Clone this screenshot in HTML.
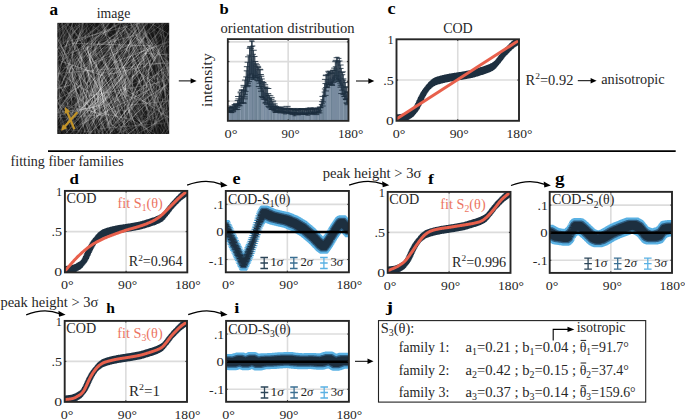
<!DOCTYPE html>
<html><head><meta charset="utf-8"><style>
html,body{margin:0;padding:0;background:#fff;}
svg{display:block;font-family:"Liberation Serif",serif;}
</style></head><body>
<svg width="685" height="419" viewBox="0 0 685 419">
<rect width="685" height="419" fill="#fff"/>
<clipPath id="imgclip"><rect x="57.35" y="22.85" width="111.85" height="111.15"/></clipPath>
<rect x="57.35" y="22.85" width="111.85" height="111.15" fill="#1c1c1c"/>
<filter id="fb" x="0" y="0" width="1" height="1"><feGaussianBlur stdDeviation="0.65"/></filter>
<radialGradient id="vig" cx="0.5" cy="0.5" r="0.72"><stop offset="0.45" stop-color="#000" stop-opacity="0"/><stop offset="1" stop-color="#000" stop-opacity="0.55"/></radialGradient>
<g clip-path="url(#imgclip)"><g filter="url(#fb)" stroke="#fff" stroke-linecap="round"><line x1="82.2" y1="94.4" x2="135.5" y2="64.4" stroke-opacity="0.14" stroke-width="0.76"/><line x1="135.8" y1="41.0" x2="165.7" y2="12.6" stroke-opacity="0.11" stroke-width="0.90"/><line x1="197.1" y1="118.0" x2="148.3" y2="78.0" stroke-opacity="0.13" stroke-width="0.51"/><line x1="47.9" y1="55.1" x2="66.0" y2="22.9" stroke-opacity="0.09" stroke-width="0.73"/><line x1="114.6" y1="107.1" x2="147.9" y2="49.7" stroke-opacity="0.24" stroke-width="0.64"/><line x1="182.3" y1="156.0" x2="171.0" y2="87.4" stroke-opacity="0.19" stroke-width="0.61"/><line x1="108.6" y1="74.4" x2="186.0" y2="57.1" stroke-opacity="0.21" stroke-width="0.98"/><line x1="186.5" y1="113.8" x2="145.0" y2="35.5" stroke-opacity="0.22" stroke-width="0.54"/><line x1="141.0" y1="59.5" x2="156.8" y2="38.8" stroke-opacity="0.19" stroke-width="0.98"/><line x1="79.2" y1="56.4" x2="45.4" y2="-11.4" stroke-opacity="0.14" stroke-width="0.78"/><line x1="66.0" y1="120.3" x2="81.4" y2="95.5" stroke-opacity="0.30" stroke-width="0.56"/><line x1="161.5" y1="133.8" x2="185.4" y2="100.2" stroke-opacity="0.38" stroke-width="0.61"/><line x1="152.0" y1="108.3" x2="165.1" y2="84.6" stroke-opacity="0.42" stroke-width="0.61"/><line x1="100.9" y1="60.8" x2="81.9" y2="44.3" stroke-opacity="0.11" stroke-width="0.79"/><line x1="110.5" y1="113.9" x2="83.2" y2="31.1" stroke-opacity="0.24" stroke-width="0.79"/><line x1="172.8" y1="136.1" x2="158.2" y2="101.6" stroke-opacity="0.14" stroke-width="0.87"/><line x1="92.5" y1="172.3" x2="56.4" y2="99.0" stroke-opacity="0.29" stroke-width="0.71"/><line x1="138.0" y1="49.4" x2="206.8" y2="41.0" stroke-opacity="0.17" stroke-width="0.91"/><line x1="130.1" y1="37.5" x2="152.8" y2="9.7" stroke-opacity="0.27" stroke-width="0.93"/><line x1="76.4" y1="146.2" x2="94.0" y2="116.8" stroke-opacity="0.09" stroke-width="0.63"/><line x1="89.0" y1="100.1" x2="104.0" y2="75.1" stroke-opacity="0.20" stroke-width="0.95"/><line x1="145.2" y1="130.8" x2="121.5" y2="74.7" stroke-opacity="0.13" stroke-width="0.52"/><line x1="149.3" y1="140.3" x2="128.6" y2="134.3" stroke-opacity="0.30" stroke-width="0.74"/><line x1="60.7" y1="120.0" x2="57.3" y2="48.5" stroke-opacity="0.39" stroke-width="0.87"/><line x1="169.8" y1="142.8" x2="131.7" y2="119.6" stroke-opacity="0.31" stroke-width="0.95"/><line x1="161.7" y1="119.5" x2="157.8" y2="55.9" stroke-opacity="0.21" stroke-width="0.79"/><line x1="38.8" y1="135.8" x2="80.4" y2="56.5" stroke-opacity="0.38" stroke-width="0.86"/><line x1="97.6" y1="131.5" x2="113.8" y2="111.4" stroke-opacity="0.34" stroke-width="0.51"/><line x1="83.8" y1="65.4" x2="137.9" y2="22.8" stroke-opacity="0.25" stroke-width="0.81"/><line x1="93.8" y1="117.1" x2="81.9" y2="85.1" stroke-opacity="0.14" stroke-width="0.95"/><line x1="93.3" y1="145.6" x2="118.4" y2="110.8" stroke-opacity="0.31" stroke-width="0.60"/><line x1="147.2" y1="90.3" x2="176.6" y2="37.1" stroke-opacity="0.19" stroke-width="0.57"/><line x1="126.1" y1="140.1" x2="186.7" y2="105.5" stroke-opacity="0.40" stroke-width="0.64"/><line x1="80.7" y1="66.3" x2="88.3" y2="17.9" stroke-opacity="0.29" stroke-width="0.75"/><line x1="103.3" y1="34.7" x2="111.1" y2="14.0" stroke-opacity="0.38" stroke-width="0.52"/><line x1="118.3" y1="91.6" x2="126.3" y2="16.6" stroke-opacity="0.09" stroke-width="0.57"/><line x1="76.3" y1="43.9" x2="83.1" y2="21.6" stroke-opacity="0.29" stroke-width="0.72"/><line x1="108.6" y1="153.5" x2="157.6" y2="81.5" stroke-opacity="0.31" stroke-width="0.60"/><line x1="100.0" y1="118.7" x2="119.4" y2="92.6" stroke-opacity="0.17" stroke-width="0.67"/><line x1="129.5" y1="126.8" x2="102.3" y2="59.1" stroke-opacity="0.21" stroke-width="0.90"/><line x1="159.1" y1="50.5" x2="124.3" y2="12.2" stroke-opacity="0.29" stroke-width="0.95"/><line x1="106.6" y1="161.2" x2="137.5" y2="92.1" stroke-opacity="0.40" stroke-width="0.73"/><line x1="135.1" y1="126.1" x2="172.8" y2="66.8" stroke-opacity="0.15" stroke-width="0.95"/><line x1="197.1" y1="113.1" x2="151.5" y2="53.2" stroke-opacity="0.19" stroke-width="0.95"/><line x1="117.0" y1="120.0" x2="94.5" y2="49.7" stroke-opacity="0.25" stroke-width="0.51"/><line x1="64.1" y1="131.2" x2="51.0" y2="101.9" stroke-opacity="0.19" stroke-width="0.89"/><line x1="80.2" y1="124.6" x2="150.6" y2="89.1" stroke-opacity="0.31" stroke-width="0.97"/><line x1="66.7" y1="98.7" x2="88.6" y2="64.9" stroke-opacity="0.33" stroke-width="0.82"/><line x1="144.1" y1="102.3" x2="170.3" y2="69.8" stroke-opacity="0.21" stroke-width="0.92"/><line x1="186.3" y1="108.5" x2="160.0" y2="54.5" stroke-opacity="0.15" stroke-width="0.77"/><line x1="114.1" y1="60.5" x2="139.3" y2="-23.7" stroke-opacity="0.26" stroke-width="0.70"/><line x1="142.0" y1="51.8" x2="133.4" y2="-5.3" stroke-opacity="0.22" stroke-width="0.98"/><line x1="87.6" y1="88.9" x2="79.9" y2="61.1" stroke-opacity="0.23" stroke-width="0.91"/><line x1="81.8" y1="135.0" x2="65.8" y2="51.8" stroke-opacity="0.12" stroke-width="0.89"/><line x1="61.0" y1="114.4" x2="95.8" y2="90.0" stroke-opacity="0.20" stroke-width="0.81"/><line x1="77.5" y1="93.8" x2="52.6" y2="65.7" stroke-opacity="0.15" stroke-width="0.77"/><line x1="80.6" y1="90.5" x2="114.2" y2="44.3" stroke-opacity="0.13" stroke-width="0.60"/><line x1="129.4" y1="120.4" x2="187.0" y2="64.9" stroke-opacity="0.16" stroke-width="0.87"/><line x1="168.4" y1="75.7" x2="161.1" y2="34.3" stroke-opacity="0.39" stroke-width="0.61"/><line x1="88.0" y1="124.5" x2="71.9" y2="89.9" stroke-opacity="0.11" stroke-width="0.92"/><line x1="134.5" y1="49.0" x2="166.2" y2="12.7" stroke-opacity="0.31" stroke-width="0.51"/><line x1="173.5" y1="149.8" x2="158.3" y2="126.2" stroke-opacity="0.25" stroke-width="0.88"/><line x1="51.1" y1="37.0" x2="65.7" y2="19.7" stroke-opacity="0.27" stroke-width="0.76"/><line x1="56.2" y1="50.7" x2="80.0" y2="26.0" stroke-opacity="0.37" stroke-width="1.00"/><line x1="185.7" y1="107.3" x2="156.3" y2="39.9" stroke-opacity="0.19" stroke-width="0.73"/><line x1="98.3" y1="99.8" x2="110.4" y2="82.7" stroke-opacity="0.32" stroke-width="0.92"/><line x1="141.4" y1="83.0" x2="146.3" y2="49.7" stroke-opacity="0.14" stroke-width="0.76"/><line x1="189.7" y1="117.7" x2="114.0" y2="91.2" stroke-opacity="0.29" stroke-width="0.70"/><line x1="113.2" y1="62.9" x2="191.3" y2="32.5" stroke-opacity="0.33" stroke-width="0.89"/><line x1="114.9" y1="167.3" x2="87.6" y2="90.4" stroke-opacity="0.32" stroke-width="0.88"/><line x1="61.0" y1="84.6" x2="55.7" y2="32.0" stroke-opacity="0.08" stroke-width="0.68"/><line x1="109.2" y1="82.5" x2="149.1" y2="6.2" stroke-opacity="0.31" stroke-width="0.67"/><line x1="74.4" y1="163.0" x2="123.9" y2="121.0" stroke-opacity="0.32" stroke-width="0.88"/><line x1="61.3" y1="127.8" x2="43.2" y2="58.4" stroke-opacity="0.17" stroke-width="0.70"/><line x1="82.0" y1="38.2" x2="112.7" y2="16.5" stroke-opacity="0.39" stroke-width="0.78"/><line x1="161.3" y1="131.1" x2="191.8" y2="60.8" stroke-opacity="0.11" stroke-width="0.80"/><line x1="59.8" y1="148.0" x2="50.4" y2="118.2" stroke-opacity="0.24" stroke-width="0.58"/><line x1="151.8" y1="90.0" x2="188.6" y2="46.7" stroke-opacity="0.28" stroke-width="0.68"/><line x1="137.5" y1="81.9" x2="104.6" y2="19.9" stroke-opacity="0.18" stroke-width="0.51"/><line x1="45.9" y1="114.0" x2="92.8" y2="107.6" stroke-opacity="0.39" stroke-width="0.87"/><line x1="211.8" y1="25.7" x2="128.4" y2="22.7" stroke-opacity="0.23" stroke-width="0.74"/><line x1="93.7" y1="122.1" x2="67.3" y2="40.7" stroke-opacity="0.33" stroke-width="0.73"/><line x1="75.6" y1="117.4" x2="52.5" y2="71.0" stroke-opacity="0.15" stroke-width="0.53"/><line x1="39.3" y1="92.1" x2="91.2" y2="50.2" stroke-opacity="0.23" stroke-width="0.63"/><line x1="82.1" y1="167.1" x2="152.3" y2="116.3" stroke-opacity="0.33" stroke-width="0.62"/><line x1="170.9" y1="101.8" x2="128.3" y2="86.9" stroke-opacity="0.17" stroke-width="0.84"/><line x1="107.8" y1="127.4" x2="142.2" y2="63.3" stroke-opacity="0.14" stroke-width="0.62"/><line x1="66.9" y1="37.5" x2="41.9" y2="7.6" stroke-opacity="0.22" stroke-width="0.81"/><line x1="63.0" y1="59.2" x2="54.2" y2="-7.5" stroke-opacity="0.27" stroke-width="0.82"/><line x1="94.0" y1="56.1" x2="127.1" y2="27.1" stroke-opacity="0.33" stroke-width="0.92"/><line x1="118.5" y1="107.7" x2="187.1" y2="80.6" stroke-opacity="0.15" stroke-width="0.71"/><line x1="133.4" y1="123.1" x2="59.6" y2="72.9" stroke-opacity="0.19" stroke-width="0.77"/><line x1="117.3" y1="62.2" x2="75.9" y2="-7.8" stroke-opacity="0.11" stroke-width="0.54"/><line x1="97.4" y1="117.0" x2="125.3" y2="87.0" stroke-opacity="0.34" stroke-width="0.54"/><line x1="77.0" y1="84.4" x2="42.6" y2="22.6" stroke-opacity="0.32" stroke-width="0.64"/><line x1="136.1" y1="74.2" x2="148.3" y2="48.7" stroke-opacity="0.32" stroke-width="0.78"/><line x1="119.4" y1="132.1" x2="91.2" y2="101.8" stroke-opacity="0.19" stroke-width="0.70"/><line x1="168.2" y1="68.6" x2="159.2" y2="24.2" stroke-opacity="0.20" stroke-width="0.68"/><line x1="101.7" y1="137.4" x2="141.1" y2="95.0" stroke-opacity="0.36" stroke-width="0.78"/><line x1="169.8" y1="58.0" x2="154.1" y2="43.2" stroke-opacity="0.26" stroke-width="0.77"/><line x1="152.3" y1="129.8" x2="193.5" y2="65.5" stroke-opacity="0.10" stroke-width="0.77"/><line x1="148.9" y1="141.0" x2="138.2" y2="117.4" stroke-opacity="0.30" stroke-width="0.57"/><line x1="139.2" y1="62.4" x2="125.5" y2="29.7" stroke-opacity="0.34" stroke-width="0.76"/><line x1="179.1" y1="127.0" x2="167.2" y2="73.7" stroke-opacity="0.26" stroke-width="0.86"/><line x1="183.7" y1="101.9" x2="148.9" y2="32.2" stroke-opacity="0.31" stroke-width="0.93"/><line x1="186.8" y1="120.3" x2="156.8" y2="72.2" stroke-opacity="0.32" stroke-width="0.90"/><line x1="72.9" y1="52.8" x2="133.4" y2="14.0" stroke-opacity="0.42" stroke-width="0.69"/><line x1="68.5" y1="78.3" x2="138.9" y2="25.7" stroke-opacity="0.10" stroke-width="0.65"/><line x1="154.0" y1="48.6" x2="143.1" y2="26.8" stroke-opacity="0.24" stroke-width="0.79"/><line x1="80.8" y1="58.9" x2="65.1" y2="26.0" stroke-opacity="0.32" stroke-width="0.80"/><line x1="54.8" y1="56.8" x2="115.8" y2="16.7" stroke-opacity="0.19" stroke-width="0.77"/><line x1="125.8" y1="86.1" x2="95.5" y2="9.8" stroke-opacity="0.39" stroke-width="0.67"/><line x1="59.2" y1="60.2" x2="96.0" y2="-17.9" stroke-opacity="0.35" stroke-width="0.69"/><line x1="86.1" y1="83.6" x2="144.5" y2="15.9" stroke-opacity="0.30" stroke-width="0.62"/><line x1="93.9" y1="151.0" x2="99.9" y2="81.3" stroke-opacity="0.29" stroke-width="0.58"/><line x1="67.6" y1="149.2" x2="97.4" y2="101.6" stroke-opacity="0.30" stroke-width="1.00"/><line x1="69.7" y1="122.8" x2="67.5" y2="102.8" stroke-opacity="0.36" stroke-width="0.92"/><line x1="153.5" y1="50.9" x2="128.4" y2="3.5" stroke-opacity="0.24" stroke-width="0.98"/><line x1="138.4" y1="85.0" x2="179.5" y2="21.9" stroke-opacity="0.22" stroke-width="0.96"/><line x1="100.3" y1="98.7" x2="51.7" y2="69.2" stroke-opacity="0.13" stroke-width="0.92"/><line x1="66.4" y1="101.5" x2="110.5" y2="47.0" stroke-opacity="0.20" stroke-width="0.84"/><line x1="95.7" y1="174.7" x2="121.1" y2="100.9" stroke-opacity="0.30" stroke-width="0.51"/><line x1="123.8" y1="69.9" x2="156.5" y2="20.2" stroke-opacity="0.24" stroke-width="0.51"/><line x1="137.0" y1="73.1" x2="119.2" y2="30.4" stroke-opacity="0.26" stroke-width="0.65"/><line x1="86.2" y1="113.1" x2="112.8" y2="86.1" stroke-opacity="0.15" stroke-width="0.87"/><line x1="126.0" y1="92.6" x2="157.8" y2="21.5" stroke-opacity="0.11" stroke-width="0.57"/><line x1="152.7" y1="58.1" x2="127.1" y2="17.3" stroke-opacity="0.36" stroke-width="0.80"/><line x1="51.1" y1="46.5" x2="87.8" y2="14.8" stroke-opacity="0.10" stroke-width="0.96"/><line x1="90.0" y1="124.4" x2="139.5" y2="69.9" stroke-opacity="0.36" stroke-width="0.69"/><line x1="72.6" y1="138.3" x2="128.5" y2="69.4" stroke-opacity="0.35" stroke-width="0.83"/><line x1="38.7" y1="74.6" x2="64.8" y2="39.2" stroke-opacity="0.30" stroke-width="0.55"/><line x1="141.9" y1="101.1" x2="167.8" y2="84.1" stroke-opacity="0.34" stroke-width="0.95"/><line x1="85.1" y1="90.2" x2="103.7" y2="66.8" stroke-opacity="0.32" stroke-width="0.99"/><line x1="53.2" y1="158.8" x2="95.9" y2="111.2" stroke-opacity="0.15" stroke-width="0.54"/><line x1="148.6" y1="98.0" x2="128.4" y2="15.4" stroke-opacity="0.20" stroke-width="0.73"/><line x1="95.6" y1="132.2" x2="37.8" y2="127.4" stroke-opacity="0.27" stroke-width="0.78"/><line x1="206.0" y1="127.5" x2="146.4" y2="110.1" stroke-opacity="0.12" stroke-width="0.91"/><line x1="117.2" y1="100.2" x2="43.1" y2="75.4" stroke-opacity="0.14" stroke-width="0.77"/><line x1="29.7" y1="144.7" x2="115.0" y2="136.0" stroke-opacity="0.30" stroke-width="0.65"/><line x1="143.7" y1="94.1" x2="143.7" y2="32.7" stroke-opacity="0.35" stroke-width="0.51"/><line x1="64.6" y1="93.8" x2="70.6" y2="34.2" stroke-opacity="0.14" stroke-width="0.76"/><line x1="94.2" y1="107.5" x2="89.4" y2="85.4" stroke-opacity="0.31" stroke-width="0.57"/><line x1="108.1" y1="127.7" x2="95.8" y2="60.6" stroke-opacity="0.34" stroke-width="0.88"/><line x1="148.4" y1="149.8" x2="204.6" y2="93.0" stroke-opacity="0.22" stroke-width="0.72"/><line x1="98.0" y1="107.2" x2="134.9" y2="32.5" stroke-opacity="0.19" stroke-width="0.53"/><line x1="171.3" y1="138.1" x2="157.6" y2="77.8" stroke-opacity="0.34" stroke-width="0.65"/><line x1="93.7" y1="99.0" x2="119.2" y2="58.6" stroke-opacity="0.10" stroke-width="0.85"/><line x1="66.3" y1="73.3" x2="93.6" y2="34.3" stroke-opacity="0.16" stroke-width="0.53"/><line x1="182.7" y1="99.2" x2="137.5" y2="37.7" stroke-opacity="0.16" stroke-width="0.87"/><line x1="140.2" y1="55.9" x2="189.5" y2="-1.2" stroke-opacity="0.12" stroke-width="0.77"/><line x1="93.5" y1="66.8" x2="81.8" y2="45.4" stroke-opacity="0.38" stroke-width="0.91"/><line x1="87.9" y1="98.5" x2="102.0" y2="80.1" stroke-opacity="0.09" stroke-width="0.95"/><line x1="158.9" y1="82.8" x2="189.7" y2="67.1" stroke-opacity="0.18" stroke-width="0.96"/><line x1="82.2" y1="142.3" x2="66.4" y2="100.4" stroke-opacity="0.24" stroke-width="0.59"/><line x1="149.2" y1="75.3" x2="111.2" y2="3.1" stroke-opacity="0.10" stroke-width="0.55"/><line x1="103.3" y1="167.3" x2="75.4" y2="91.4" stroke-opacity="0.32" stroke-width="0.57"/><line x1="70.3" y1="60.9" x2="48.6" y2="25.5" stroke-opacity="0.32" stroke-width="0.60"/><line x1="117.3" y1="130.9" x2="151.3" y2="99.8" stroke-opacity="0.31" stroke-width="0.94"/><line x1="50.3" y1="84.7" x2="107.0" y2="21.6" stroke-opacity="0.31" stroke-width="0.64"/><line x1="100.3" y1="110.1" x2="111.0" y2="54.0" stroke-opacity="0.10" stroke-width="0.80"/><line x1="138.0" y1="40.1" x2="166.1" y2="11.8" stroke-opacity="0.34" stroke-width="0.62"/><line x1="79.9" y1="173.0" x2="66.5" y2="84.8" stroke-opacity="0.09" stroke-width="0.73"/><line x1="115.2" y1="154.9" x2="81.9" y2="111.1" stroke-opacity="0.14" stroke-width="0.78"/><line x1="129.0" y1="99.2" x2="169.9" y2="61.9" stroke-opacity="0.37" stroke-width="0.84"/><line x1="155.3" y1="70.8" x2="186.7" y2="3.2" stroke-opacity="0.14" stroke-width="0.80"/><line x1="141.2" y1="151.9" x2="155.2" y2="77.8" stroke-opacity="0.16" stroke-width="0.74"/><line x1="120.8" y1="49.3" x2="105.5" y2="-10.6" stroke-opacity="0.32" stroke-width="0.79"/><line x1="61.5" y1="101.1" x2="41.7" y2="54.7" stroke-opacity="0.23" stroke-width="0.63"/><line x1="71.8" y1="157.1" x2="45.5" y2="103.4" stroke-opacity="0.26" stroke-width="0.90"/><line x1="70.3" y1="29.5" x2="107.9" y2="10.9" stroke-opacity="0.29" stroke-width="0.76"/><line x1="65.1" y1="134.6" x2="56.3" y2="103.8" stroke-opacity="0.17" stroke-width="0.58"/><line x1="68.5" y1="86.8" x2="45.9" y2="47.3" stroke-opacity="0.15" stroke-width="0.99"/><line x1="146.2" y1="155.3" x2="147.2" y2="125.2" stroke-opacity="0.23" stroke-width="0.87"/><line x1="145.9" y1="49.1" x2="180.4" y2="16.6" stroke-opacity="0.18" stroke-width="0.71"/><line x1="141.2" y1="115.7" x2="212.2" y2="108.1" stroke-opacity="0.16" stroke-width="0.63"/><line x1="45.6" y1="98.4" x2="114.9" y2="48.7" stroke-opacity="0.20" stroke-width="0.67"/><line x1="104.6" y1="108.9" x2="97.2" y2="86.0" stroke-opacity="0.20" stroke-width="0.85"/><line x1="133.1" y1="152.4" x2="116.6" y2="102.7" stroke-opacity="0.21" stroke-width="0.92"/><line x1="76.6" y1="61.9" x2="110.9" y2="14.5" stroke-opacity="0.14" stroke-width="0.60"/><line x1="84.3" y1="116.2" x2="93.3" y2="27.2" stroke-opacity="0.31" stroke-width="0.93"/><line x1="50.5" y1="123.9" x2="66.8" y2="81.6" stroke-opacity="0.17" stroke-width="0.51"/><line x1="75.8" y1="158.0" x2="123.4" y2="106.6" stroke-opacity="0.17" stroke-width="0.68"/><line x1="130.0" y1="119.2" x2="60.7" y2="105.2" stroke-opacity="0.39" stroke-width="0.51"/><line x1="69.6" y1="54.4" x2="127.4" y2="-3.5" stroke-opacity="0.19" stroke-width="0.89"/><line x1="72.9" y1="33.7" x2="86.8" y2="6.4" stroke-opacity="0.28" stroke-width="0.52"/><line x1="95.4" y1="96.3" x2="111.7" y2="71.7" stroke-opacity="0.32" stroke-width="0.63"/><line x1="85.9" y1="83.9" x2="65.2" y2="17.1" stroke-opacity="0.22" stroke-width="0.69"/><line x1="84.0" y1="73.3" x2="72.5" y2="30.7" stroke-opacity="0.15" stroke-width="0.52"/><line x1="139.3" y1="158.2" x2="104.1" y2="77.2" stroke-opacity="0.18" stroke-width="0.84"/><line x1="151.0" y1="173.2" x2="118.2" y2="99.4" stroke-opacity="0.16" stroke-width="0.82"/><line x1="94.3" y1="45.3" x2="104.8" y2="-0.3" stroke-opacity="0.19" stroke-width="0.75"/><line x1="86.9" y1="82.8" x2="114.7" y2="67.7" stroke-opacity="0.31" stroke-width="0.62"/><line x1="88.9" y1="60.7" x2="117.8" y2="7.3" stroke-opacity="0.32" stroke-width="0.78"/><line x1="65.9" y1="82.8" x2="38.7" y2="46.4" stroke-opacity="0.10" stroke-width="0.70"/><line x1="124.0" y1="95.9" x2="124.6" y2="53.1" stroke-opacity="0.17" stroke-width="0.51"/><line x1="75.5" y1="114.6" x2="90.2" y2="85.0" stroke-opacity="0.24" stroke-width="0.81"/><line x1="104.3" y1="130.2" x2="87.2" y2="46.0" stroke-opacity="0.34" stroke-width="0.81"/><line x1="54.8" y1="148.1" x2="114.5" y2="92.5" stroke-opacity="0.21" stroke-width="0.95"/><line x1="93.6" y1="63.5" x2="134.8" y2="44.7" stroke-opacity="0.41" stroke-width="0.57"/><line x1="128.8" y1="51.3" x2="143.9" y2="38.1" stroke-opacity="0.26" stroke-width="0.70"/><line x1="131.8" y1="116.4" x2="133.1" y2="52.7" stroke-opacity="0.27" stroke-width="0.92"/><line x1="110.3" y1="95.7" x2="73.7" y2="22.2" stroke-opacity="0.19" stroke-width="0.86"/><line x1="159.9" y1="66.5" x2="149.6" y2="3.8" stroke-opacity="0.25" stroke-width="0.78"/><line x1="60.2" y1="122.9" x2="111.6" y2="97.3" stroke-opacity="0.16" stroke-width="0.62"/><line x1="59.0" y1="33.5" x2="72.0" y2="12.3" stroke-opacity="0.11" stroke-width="0.85"/><line x1="145.7" y1="91.5" x2="150.4" y2="60.5" stroke-opacity="0.37" stroke-width="0.93"/><line x1="97.7" y1="133.1" x2="130.8" y2="99.1" stroke-opacity="0.32" stroke-width="0.63"/><line x1="110.7" y1="88.2" x2="71.6" y2="26.4" stroke-opacity="0.37" stroke-width="0.91"/><line x1="98.8" y1="143.7" x2="159.2" y2="97.4" stroke-opacity="0.12" stroke-width="0.69"/><line x1="73.8" y1="47.5" x2="84.0" y2="29.2" stroke-opacity="0.28" stroke-width="0.97"/><line x1="115.5" y1="115.5" x2="90.4" y2="74.8" stroke-opacity="0.40" stroke-width="0.99"/><line x1="76.9" y1="35.9" x2="52.1" y2="4.6" stroke-opacity="0.33" stroke-width="1.00"/><line x1="39.0" y1="107.0" x2="66.4" y2="60.7" stroke-opacity="0.21" stroke-width="0.65"/><line x1="169.5" y1="70.8" x2="143.7" y2="31.0" stroke-opacity="0.29" stroke-width="0.88"/><line x1="121.1" y1="131.6" x2="117.2" y2="101.6" stroke-opacity="0.14" stroke-width="0.55"/><line x1="88.9" y1="89.1" x2="74.1" y2="64.8" stroke-opacity="0.19" stroke-width="0.51"/><line x1="71.8" y1="67.5" x2="96.9" y2="20.0" stroke-opacity="0.20" stroke-width="0.63"/><line x1="151.0" y1="56.7" x2="176.0" y2="51.6" stroke-opacity="0.14" stroke-width="0.74"/><line x1="89.7" y1="147.9" x2="60.7" y2="102.4" stroke-opacity="0.22" stroke-width="0.90"/><line x1="125.2" y1="112.0" x2="141.5" y2="76.1" stroke-opacity="0.40" stroke-width="0.93"/><line x1="121.1" y1="152.8" x2="90.9" y2="88.9" stroke-opacity="0.14" stroke-width="0.51"/><line x1="25.0" y1="73.7" x2="92.8" y2="47.2" stroke-opacity="0.19" stroke-width="0.76"/><line x1="149.5" y1="33.7" x2="194.5" y2="-1.2" stroke-opacity="0.36" stroke-width="0.90"/><line x1="158.6" y1="156.8" x2="151.7" y2="68.1" stroke-opacity="0.11" stroke-width="0.98"/><line x1="121.4" y1="84.4" x2="157.6" y2="9.0" stroke-opacity="0.09" stroke-width="0.79"/><line x1="83.4" y1="134.4" x2="109.7" y2="62.3" stroke-opacity="0.20" stroke-width="0.82"/><line x1="76.0" y1="43.0" x2="104.9" y2="10.6" stroke-opacity="0.33" stroke-width="0.61"/><line x1="130.4" y1="113.0" x2="108.0" y2="89.7" stroke-opacity="0.12" stroke-width="0.57"/><line x1="100.3" y1="82.7" x2="126.9" y2="49.6" stroke-opacity="0.26" stroke-width="0.98"/><line x1="103.2" y1="115.8" x2="77.5" y2="105.7" stroke-opacity="0.42" stroke-width="0.72"/><line x1="89.9" y1="99.2" x2="65.0" y2="34.4" stroke-opacity="0.14" stroke-width="0.64"/><line x1="94.8" y1="99.1" x2="50.8" y2="21.5" stroke-opacity="0.13" stroke-width="0.82"/><line x1="111.2" y1="65.8" x2="152.2" y2="17.8" stroke-opacity="0.38" stroke-width="0.93"/><line x1="37.2" y1="142.5" x2="90.7" y2="100.1" stroke-opacity="0.23" stroke-width="0.83"/><line x1="79.5" y1="68.6" x2="117.6" y2="19.6" stroke-opacity="0.27" stroke-width="0.76"/><line x1="118.5" y1="118.7" x2="94.5" y2="61.9" stroke-opacity="0.40" stroke-width="0.58"/><line x1="74.5" y1="150.6" x2="104.2" y2="66.4" stroke-opacity="0.22" stroke-width="0.93"/><line x1="151.5" y1="45.8" x2="72.7" y2="43.4" stroke-opacity="0.30" stroke-width="0.97"/><line x1="166.3" y1="122.1" x2="136.3" y2="37.7" stroke-opacity="0.10" stroke-width="0.94"/><line x1="121.4" y1="120.8" x2="93.4" y2="45.3" stroke-opacity="0.15" stroke-width="0.64"/><line x1="47.5" y1="121.2" x2="70.0" y2="49.6" stroke-opacity="0.25" stroke-width="0.62"/><line x1="139.6" y1="162.1" x2="99.5" y2="97.9" stroke-opacity="0.13" stroke-width="0.68"/><line x1="54.6" y1="129.3" x2="132.5" y2="120.3" stroke-opacity="0.12" stroke-width="0.59"/><line x1="125.0" y1="118.7" x2="190.8" y2="67.9" stroke-opacity="0.10" stroke-width="0.99"/><line x1="168.1" y1="122.9" x2="154.7" y2="91.8" stroke-opacity="0.31" stroke-width="0.72"/><line x1="80.1" y1="112.2" x2="99.2" y2="77.6" stroke-opacity="0.29" stroke-width="0.85"/><line x1="124.7" y1="79.8" x2="151.4" y2="68.5" stroke-opacity="0.12" stroke-width="0.97"/><line x1="152.6" y1="129.4" x2="200.4" y2="76.2" stroke-opacity="0.20" stroke-width="0.66"/><line x1="55.0" y1="116.3" x2="81.1" y2="74.0" stroke-opacity="0.36" stroke-width="0.70"/><line x1="77.3" y1="112.4" x2="110.0" y2="96.2" stroke-opacity="0.28" stroke-width="0.64"/><line x1="97.1" y1="155.3" x2="74.8" y2="91.7" stroke-opacity="0.23" stroke-width="0.97"/><line x1="91.5" y1="42.4" x2="121.9" y2="3.6" stroke-opacity="0.18" stroke-width="0.72"/><line x1="90.0" y1="136.6" x2="83.6" y2="69.8" stroke-opacity="0.16" stroke-width="0.71"/><line x1="102.3" y1="75.4" x2="60.7" y2="61.2" stroke-opacity="0.36" stroke-width="0.93"/><line x1="148.7" y1="42.9" x2="179.2" y2="9.3" stroke-opacity="0.21" stroke-width="0.86"/><line x1="66.2" y1="162.7" x2="120.4" y2="95.3" stroke-opacity="0.09" stroke-width="0.82"/><line x1="67.6" y1="122.1" x2="111.9" y2="78.2" stroke-opacity="0.41" stroke-width="0.99"/><line x1="116.1" y1="148.6" x2="83.6" y2="91.8" stroke-opacity="0.32" stroke-width="1.00"/><line x1="98.6" y1="115.8" x2="102.7" y2="80.8" stroke-opacity="0.42" stroke-width="0.60"/><line x1="136.1" y1="39.1" x2="152.2" y2="11.8" stroke-opacity="0.30" stroke-width="0.81"/><line x1="99.0" y1="149.1" x2="64.5" y2="86.9" stroke-opacity="0.34" stroke-width="0.56"/><line x1="167.2" y1="139.2" x2="173.0" y2="118.3" stroke-opacity="0.20" stroke-width="0.77"/><line x1="51.7" y1="132.0" x2="75.4" y2="98.4" stroke-opacity="0.25" stroke-width="0.56"/><line x1="93.9" y1="83.0" x2="135.7" y2="21.4" stroke-opacity="0.16" stroke-width="0.71"/><line x1="86.9" y1="102.3" x2="127.3" y2="69.3" stroke-opacity="0.37" stroke-width="0.55"/><line x1="80.6" y1="164.2" x2="57.7" y2="112.3" stroke-opacity="0.22" stroke-width="0.81"/><line x1="70.9" y1="67.4" x2="30.5" y2="1.4" stroke-opacity="0.33" stroke-width="0.86"/><line x1="55.0" y1="49.3" x2="51.0" y2="8.4" stroke-opacity="0.41" stroke-width="0.82"/><line x1="59.1" y1="79.9" x2="51.3" y2="55.6" stroke-opacity="0.17" stroke-width="0.56"/><line x1="143.7" y1="169.4" x2="122.3" y2="85.8" stroke-opacity="0.27" stroke-width="0.75"/><line x1="118.6" y1="83.5" x2="81.0" y2="22.4" stroke-opacity="0.17" stroke-width="0.68"/><line x1="95.7" y1="80.1" x2="113.1" y2="64.3" stroke-opacity="0.36" stroke-width="0.53"/><line x1="108.9" y1="80.1" x2="129.8" y2="51.3" stroke-opacity="0.11" stroke-width="0.69"/><line x1="137.8" y1="84.1" x2="152.5" y2="69.6" stroke-opacity="0.22" stroke-width="0.98"/><line x1="181.1" y1="91.0" x2="163.2" y2="31.7" stroke-opacity="0.21" stroke-width="0.65"/><line x1="108.4" y1="76.9" x2="141.1" y2="32.9" stroke-opacity="0.26" stroke-width="0.88"/><line x1="45.3" y1="60.1" x2="117.8" y2="38.3" stroke-opacity="0.22" stroke-width="0.93"/><line x1="34.6" y1="169.4" x2="86.0" y2="110.5" stroke-opacity="0.19" stroke-width="0.66"/><line x1="157.3" y1="106.1" x2="143.0" y2="86.9" stroke-opacity="0.34" stroke-width="0.52"/><line x1="93.6" y1="38.2" x2="168.4" y2="-2.8" stroke-opacity="0.34" stroke-width="0.79"/><line x1="132.9" y1="133.9" x2="72.7" y2="68.6" stroke-opacity="0.39" stroke-width="0.54"/><line x1="110.6" y1="133.1" x2="100.7" y2="87.7" stroke-opacity="0.23" stroke-width="0.72"/><line x1="135.7" y1="35.8" x2="150.8" y2="12.1" stroke-opacity="0.36" stroke-width="0.83"/><line x1="72.8" y1="160.9" x2="105.2" y2="111.4" stroke-opacity="0.39" stroke-width="0.61"/><line x1="110.0" y1="133.5" x2="125.9" y2="109.7" stroke-opacity="0.38" stroke-width="0.74"/><line x1="88.6" y1="142.1" x2="106.6" y2="59.1" stroke-opacity="0.25" stroke-width="0.84"/><line x1="126.1" y1="60.6" x2="162.4" y2="11.5" stroke-opacity="0.15" stroke-width="0.67"/><line x1="114.2" y1="102.0" x2="135.7" y2="59.9" stroke-opacity="0.28" stroke-width="0.92"/><line x1="94.0" y1="108.6" x2="153.9" y2="43.3" stroke-opacity="0.19" stroke-width="0.85"/><line x1="129.8" y1="101.9" x2="155.7" y2="74.1" stroke-opacity="0.10" stroke-width="0.91"/><line x1="100.0" y1="119.9" x2="156.6" y2="52.1" stroke-opacity="0.39" stroke-width="0.73"/><line x1="68.7" y1="119.5" x2="89.2" y2="101.7" stroke-opacity="0.18" stroke-width="0.92"/><line x1="134.6" y1="102.6" x2="109.3" y2="67.4" stroke-opacity="0.13" stroke-width="0.98"/><line x1="156.0" y1="58.4" x2="143.2" y2="26.9" stroke-opacity="0.26" stroke-width="0.80"/><line x1="155.1" y1="157.7" x2="92.5" y2="100.7" stroke-opacity="0.31" stroke-width="0.68"/><line x1="152.1" y1="90.4" x2="130.4" y2="13.3" stroke-opacity="0.33" stroke-width="0.63"/><line x1="97.8" y1="48.4" x2="138.2" y2="45.8" stroke-opacity="0.17" stroke-width="0.57"/><line x1="59.5" y1="111.3" x2="110.2" y2="47.9" stroke-opacity="0.13" stroke-width="0.93"/><line x1="144.7" y1="115.1" x2="109.8" y2="52.9" stroke-opacity="0.26" stroke-width="0.83"/><line x1="64.7" y1="155.0" x2="47.9" y2="112.9" stroke-opacity="0.35" stroke-width="0.62"/><line x1="65.9" y1="137.6" x2="127.6" y2="77.6" stroke-opacity="0.25" stroke-width="0.78"/><line x1="44.8" y1="161.7" x2="82.1" y2="107.2" stroke-opacity="0.10" stroke-width="0.95"/><line x1="68.9" y1="161.0" x2="60.4" y2="120.2" stroke-opacity="0.38" stroke-width="0.53"/><line x1="52.5" y1="48.1" x2="63.6" y2="-10.8" stroke-opacity="0.41" stroke-width="0.84"/><line x1="65.7" y1="97.0" x2="52.7" y2="66.7" stroke-opacity="0.26" stroke-width="0.68"/><line x1="55.6" y1="120.2" x2="93.6" y2="88.8" stroke-opacity="0.25" stroke-width="0.54"/><line x1="102.5" y1="40.7" x2="139.7" y2="23.3" stroke-opacity="0.19" stroke-width="0.85"/><line x1="181.5" y1="177.4" x2="166.8" y2="93.9" stroke-opacity="0.37" stroke-width="0.97"/><line x1="123.8" y1="133.5" x2="125.9" y2="70.6" stroke-opacity="0.29" stroke-width="0.97"/><line x1="172.9" y1="32.8" x2="171.2" y2="5.0" stroke-opacity="0.38" stroke-width="0.98"/><line x1="127.4" y1="105.2" x2="183.5" y2="99.6" stroke-opacity="0.28" stroke-width="0.88"/><line x1="167.1" y1="174.5" x2="134.6" y2="103.2" stroke-opacity="0.22" stroke-width="0.67"/><line x1="39.6" y1="128.0" x2="62.9" y2="97.5" stroke-opacity="0.28" stroke-width="0.76"/><line x1="68.3" y1="138.8" x2="90.3" y2="115.2" stroke-opacity="0.13" stroke-width="0.63"/><line x1="135.9" y1="69.4" x2="163.2" y2="45.0" stroke-opacity="0.30" stroke-width="0.63"/><line x1="60.3" y1="60.6" x2="85.6" y2="28.2" stroke-opacity="0.19" stroke-width="0.86"/><line x1="159.1" y1="92.9" x2="141.7" y2="74.2" stroke-opacity="0.34" stroke-width="0.62"/><line x1="169.9" y1="83.7" x2="181.9" y2="40.3" stroke-opacity="0.39" stroke-width="1.00"/><line x1="133.7" y1="92.1" x2="165.1" y2="23.6" stroke-opacity="0.21" stroke-width="0.64"/><line x1="129.2" y1="111.0" x2="159.1" y2="39.7" stroke-opacity="0.08" stroke-width="0.75"/><line x1="57.1" y1="80.3" x2="78.2" y2="1.6" stroke-opacity="0.41" stroke-width="0.97"/><line x1="152.1" y1="63.9" x2="184.6" y2="1.9" stroke-opacity="0.40" stroke-width="0.60"/><line x1="185.1" y1="143.8" x2="139.2" y2="70.6" stroke-opacity="0.23" stroke-width="0.69"/><line x1="158.6" y1="36.4" x2="180.2" y2="11.5" stroke-opacity="0.20" stroke-width="0.52"/><line x1="99.5" y1="108.0" x2="133.9" y2="59.1" stroke-opacity="0.34" stroke-width="0.76"/><line x1="65.2" y1="54.6" x2="54.3" y2="31.8" stroke-opacity="0.19" stroke-width="0.88"/><line x1="96.5" y1="106.8" x2="86.7" y2="67.4" stroke-opacity="0.35" stroke-width="0.99"/><line x1="110.4" y1="143.3" x2="142.5" y2="101.6" stroke-opacity="0.14" stroke-width="0.97"/><line x1="110.4" y1="33.7" x2="90.7" y2="9.2" stroke-opacity="0.14" stroke-width="0.87"/><line x1="50.0" y1="118.2" x2="104.9" y2="114.8" stroke-opacity="0.30" stroke-width="0.73"/><line x1="69.2" y1="21.0" x2="107.4" y2="19.2" stroke-opacity="0.29" stroke-width="0.68"/><line x1="116.4" y1="73.7" x2="141.9" y2="36.7" stroke-opacity="0.38" stroke-width="0.79"/><line x1="78.1" y1="142.9" x2="105.6" y2="119.2" stroke-opacity="0.40" stroke-width="0.93"/><line x1="83.4" y1="122.0" x2="56.9" y2="37.1" stroke-opacity="0.18" stroke-width="0.59"/><line x1="76.9" y1="153.8" x2="62.1" y2="116.8" stroke-opacity="0.11" stroke-width="0.84"/><line x1="104.4" y1="117.0" x2="137.3" y2="39.1" stroke-opacity="0.25" stroke-width="0.69"/><line x1="83.4" y1="120.0" x2="84.1" y2="55.7" stroke-opacity="0.24" stroke-width="0.54"/><line x1="153.0" y1="65.8" x2="193.8" y2="35.1" stroke-opacity="0.11" stroke-width="0.90"/><line x1="187.1" y1="68.5" x2="115.6" y2="25.9" stroke-opacity="0.25" stroke-width="0.71"/><line x1="154.6" y1="99.0" x2="185.9" y2="55.3" stroke-opacity="0.18" stroke-width="0.92"/><line x1="51.7" y1="149.5" x2="102.1" y2="92.3" stroke-opacity="0.41" stroke-width="0.96"/><line x1="168.4" y1="139.7" x2="134.2" y2="71.0" stroke-opacity="0.35" stroke-width="0.59"/><line x1="175.4" y1="44.3" x2="158.4" y2="-8.8" stroke-opacity="0.20" stroke-width="0.90"/><line x1="149.7" y1="161.7" x2="181.9" y2="105.1" stroke-opacity="0.10" stroke-width="0.83"/><line x1="177.2" y1="55.3" x2="144.3" y2="53.4" stroke-opacity="0.32" stroke-width="0.88"/><line x1="153.6" y1="61.0" x2="130.9" y2="-16.4" stroke-opacity="0.34" stroke-width="0.89"/><line x1="131.3" y1="165.9" x2="113.0" y2="103.8" stroke-opacity="0.25" stroke-width="0.69"/><line x1="134.2" y1="72.1" x2="168.0" y2="15.7" stroke-opacity="0.34" stroke-width="0.85"/><line x1="79.9" y1="62.9" x2="99.6" y2="36.2" stroke-opacity="0.30" stroke-width="0.84"/><line x1="172.1" y1="94.7" x2="159.7" y2="8.9" stroke-opacity="0.29" stroke-width="0.98"/><line x1="111.0" y1="71.2" x2="72.9" y2="29.5" stroke-opacity="0.25" stroke-width="0.52"/><line x1="147.0" y1="63.4" x2="142.1" y2="29.8" stroke-opacity="0.28" stroke-width="0.62"/><line x1="43.8" y1="38.6" x2="72.8" y2="4.3" stroke-opacity="0.26" stroke-width="0.97"/><line x1="47.6" y1="104.8" x2="111.3" y2="45.4" stroke-opacity="0.12" stroke-width="0.72"/><line x1="161.1" y1="114.5" x2="132.5" y2="56.3" stroke-opacity="0.40" stroke-width="0.95"/><line x1="179.0" y1="98.4" x2="174.7" y2="65.5" stroke-opacity="0.34" stroke-width="0.53"/><line x1="89.9" y1="141.3" x2="78.5" y2="71.4" stroke-opacity="0.19" stroke-width="0.88"/><line x1="87.3" y1="48.6" x2="122.0" y2="8.2" stroke-opacity="0.40" stroke-width="0.94"/><line x1="59.1" y1="108.8" x2="108.5" y2="97.5" stroke-opacity="0.12" stroke-width="0.71"/><line x1="119.8" y1="87.5" x2="169.2" y2="44.7" stroke-opacity="0.31" stroke-width="0.81"/><line x1="82.1" y1="42.8" x2="49.5" y2="0.8" stroke-opacity="0.09" stroke-width="0.54"/><line x1="153.0" y1="143.1" x2="189.5" y2="103.3" stroke-opacity="0.28" stroke-width="0.66"/><line x1="71.2" y1="70.0" x2="58.2" y2="37.0" stroke-opacity="0.37" stroke-width="0.75"/><line x1="53.5" y1="135.0" x2="111.1" y2="96.0" stroke-opacity="0.23" stroke-width="0.68"/><line x1="94.4" y1="84.1" x2="120.1" y2="25.8" stroke-opacity="0.22" stroke-width="0.65"/><line x1="165.2" y1="95.6" x2="158.4" y2="49.8" stroke-opacity="0.39" stroke-width="0.99"/><line x1="115.2" y1="133.0" x2="86.1" y2="67.3" stroke-opacity="0.18" stroke-width="0.86"/><line x1="108.5" y1="115.5" x2="101.5" y2="80.4" stroke-opacity="0.34" stroke-width="0.77"/><line x1="94.3" y1="115.8" x2="91.8" y2="94.8" stroke-opacity="0.22" stroke-width="0.88"/><line x1="93.2" y1="107.5" x2="62.0" y2="23.5" stroke-opacity="0.15" stroke-width="0.96"/><line x1="160.5" y1="144.2" x2="148.2" y2="98.4" stroke-opacity="0.28" stroke-width="0.86"/><line x1="91.7" y1="132.4" x2="71.3" y2="76.7" stroke-opacity="0.27" stroke-width="0.99"/><line x1="124.3" y1="134.7" x2="57.5" y2="79.7" stroke-opacity="0.17" stroke-width="0.78"/><line x1="87.6" y1="55.8" x2="137.7" y2="16.4" stroke-opacity="0.38" stroke-width="0.83"/><line x1="128.6" y1="51.2" x2="77.5" y2="15.5" stroke-opacity="0.24" stroke-width="0.76"/><line x1="93.5" y1="123.9" x2="95.4" y2="98.7" stroke-opacity="0.18" stroke-width="0.85"/><line x1="158.3" y1="82.5" x2="152.2" y2="43.8" stroke-opacity="0.20" stroke-width="0.77"/><line x1="125.4" y1="53.0" x2="141.4" y2="14.5" stroke-opacity="0.38" stroke-width="0.97"/><line x1="32.4" y1="45.8" x2="96.4" y2="5.7" stroke-opacity="0.33" stroke-width="0.63"/><line x1="143.3" y1="137.8" x2="164.8" y2="110.5" stroke-opacity="0.32" stroke-width="0.85"/><line x1="144.6" y1="63.0" x2="178.7" y2="22.2" stroke-opacity="0.19" stroke-width="0.72"/><line x1="177.6" y1="60.9" x2="173.4" y2="25.6" stroke-opacity="0.29" stroke-width="0.58"/><line x1="99.0" y1="95.1" x2="86.9" y2="46.5" stroke-opacity="0.36" stroke-width="0.96"/><line x1="157.1" y1="79.3" x2="122.2" y2="5.3" stroke-opacity="0.38" stroke-width="0.61"/><line x1="73.1" y1="116.5" x2="84.1" y2="96.0" stroke-opacity="0.32" stroke-width="0.53"/><line x1="64.0" y1="42.7" x2="59.0" y2="-1.7" stroke-opacity="0.41" stroke-width="0.80"/><line x1="60.4" y1="38.1" x2="54.3" y2="17.5" stroke-opacity="0.32" stroke-width="0.59"/><line x1="151.5" y1="78.7" x2="125.1" y2="33.0" stroke-opacity="0.18" stroke-width="0.78"/><line x1="79.5" y1="55.8" x2="93.9" y2="40.3" stroke-opacity="0.19" stroke-width="0.80"/><line x1="131.3" y1="84.2" x2="183.7" y2="64.8" stroke-opacity="0.19" stroke-width="0.94"/><line x1="144.4" y1="129.2" x2="113.5" y2="68.1" stroke-opacity="0.25" stroke-width="0.71"/><line x1="88.3" y1="106.9" x2="145.7" y2="58.3" stroke-opacity="0.38" stroke-width="0.61"/><line x1="34.9" y1="141.8" x2="72.0" y2="90.4" stroke-opacity="0.18" stroke-width="0.60"/><line x1="168.0" y1="133.9" x2="144.5" y2="69.6" stroke-opacity="0.33" stroke-width="0.73"/><line x1="142.5" y1="151.8" x2="209.7" y2="111.1" stroke-opacity="0.11" stroke-width="0.62"/><line x1="123.5" y1="100.6" x2="114.1" y2="60.0" stroke-opacity="0.37" stroke-width="0.76"/><line x1="69.5" y1="48.5" x2="32.6" y2="18.9" stroke-opacity="0.30" stroke-width="0.56"/><line x1="156.0" y1="104.4" x2="182.9" y2="36.1" stroke-opacity="0.28" stroke-width="0.79"/><line x1="162.5" y1="118.0" x2="166.4" y2="83.1" stroke-opacity="0.23" stroke-width="0.77"/><line x1="26.0" y1="63.5" x2="77.3" y2="22.1" stroke-opacity="0.15" stroke-width="0.54"/><line x1="98.7" y1="165.4" x2="85.3" y2="107.8" stroke-opacity="0.11" stroke-width="0.82"/><line x1="152.0" y1="117.9" x2="131.9" y2="104.7" stroke-opacity="0.09" stroke-width="0.90"/><line x1="31.8" y1="51.4" x2="74.6" y2="19.9" stroke-opacity="0.41" stroke-width="0.66"/><line x1="100.0" y1="111.8" x2="45.9" y2="79.4" stroke-opacity="0.40" stroke-width="0.52"/><line x1="68.5" y1="115.8" x2="94.7" y2="95.7" stroke-opacity="0.25" stroke-width="0.98"/><line x1="158.8" y1="110.1" x2="174.5" y2="91.2" stroke-opacity="0.14" stroke-width="0.62"/><line x1="168.4" y1="155.1" x2="109.4" y2="123.7" stroke-opacity="0.29" stroke-width="0.69"/><line x1="127.7" y1="44.9" x2="97.2" y2="-0.2" stroke-opacity="0.21" stroke-width="0.77"/><line x1="153.5" y1="63.9" x2="196.5" y2="60.2" stroke-opacity="0.13" stroke-width="0.80"/><line x1="126.2" y1="139.0" x2="100.2" y2="85.4" stroke-opacity="0.16" stroke-width="0.59"/><line x1="65.3" y1="134.3" x2="53.4" y2="115.3" stroke-opacity="0.14" stroke-width="0.73"/><line x1="148.1" y1="118.4" x2="145.2" y2="95.0" stroke-opacity="0.36" stroke-width="0.57"/><line x1="29.8" y1="129.1" x2="76.2" y2="123.6" stroke-opacity="0.11" stroke-width="0.52"/><line x1="127.8" y1="142.6" x2="124.7" y2="120.2" stroke-opacity="0.12" stroke-width="0.64"/><line x1="60.1" y1="101.8" x2="89.9" y2="90.8" stroke-opacity="0.14" stroke-width="0.77"/><line x1="101.4" y1="87.5" x2="127.2" y2="40.9" stroke-opacity="0.09" stroke-width="0.81"/><line x1="35.5" y1="154.3" x2="65.6" y2="101.1" stroke-opacity="0.21" stroke-width="0.77"/><line x1="84.6" y1="93.1" x2="47.8" y2="34.1" stroke-opacity="0.21" stroke-width="0.85"/><line x1="105.0" y1="143.0" x2="68.6" y2="77.5" stroke-opacity="0.32" stroke-width="0.96"/><line x1="153.8" y1="125.4" x2="163.0" y2="99.0" stroke-opacity="0.41" stroke-width="0.87"/><line x1="112.4" y1="132.0" x2="78.8" y2="51.6" stroke-opacity="0.39" stroke-width="0.79"/><line x1="143.1" y1="148.2" x2="123.3" y2="125.7" stroke-opacity="0.22" stroke-width="0.78"/><line x1="72.6" y1="107.4" x2="42.0" y2="82.2" stroke-opacity="0.19" stroke-width="0.80"/><line x1="155.8" y1="159.3" x2="162.1" y2="121.4" stroke-opacity="0.20" stroke-width="0.85"/><line x1="94.2" y1="95.6" x2="55.3" y2="75.6" stroke-opacity="0.08" stroke-width="0.50"/><line x1="67.9" y1="168.6" x2="101.1" y2="113.2" stroke-opacity="0.10" stroke-width="0.86"/><line x1="139.3" y1="166.4" x2="144.2" y2="81.1" stroke-opacity="0.22" stroke-width="0.66"/><line x1="73.4" y1="129.9" x2="105.3" y2="88.4" stroke-opacity="0.31" stroke-width="0.58"/><line x1="133.4" y1="45.4" x2="123.0" y2="25.5" stroke-opacity="0.22" stroke-width="0.59"/><line x1="136.7" y1="142.1" x2="108.3" y2="59.1" stroke-opacity="0.10" stroke-width="0.55"/><line x1="151.0" y1="130.7" x2="158.5" y2="72.9" stroke-opacity="0.37" stroke-width="0.69"/><line x1="57.4" y1="54.0" x2="47.9" y2="34.0" stroke-opacity="0.13" stroke-width="0.53"/><line x1="148.3" y1="71.3" x2="161.2" y2="46.0" stroke-opacity="0.31" stroke-width="0.86"/><line x1="141.0" y1="123.3" x2="99.4" y2="54.5" stroke-opacity="0.31" stroke-width="0.99"/><line x1="138.1" y1="81.2" x2="122.4" y2="67.7" stroke-opacity="0.24" stroke-width="0.63"/><line x1="32.7" y1="51.4" x2="81.0" y2="11.7" stroke-opacity="0.31" stroke-width="1.00"/><line x1="95.7" y1="98.9" x2="77.1" y2="46.7" stroke-opacity="0.35" stroke-width="0.70"/><line x1="118.0" y1="104.7" x2="103.4" y2="15.9" stroke-opacity="0.10" stroke-width="0.70"/><line x1="81.8" y1="54.9" x2="55.5" y2="12.8" stroke-opacity="0.28" stroke-width="0.88"/><line x1="62.8" y1="94.7" x2="111.4" y2="28.5" stroke-opacity="0.15" stroke-width="0.51"/><line x1="75.9" y1="163.1" x2="57.6" y2="93.0" stroke-opacity="0.10" stroke-width="0.84"/><line x1="119.5" y1="63.4" x2="133.9" y2="-20.8" stroke-opacity="0.19" stroke-width="0.57"/><line x1="75.1" y1="50.2" x2="51.5" y2="-11.1" stroke-opacity="0.24" stroke-width="0.95"/><line x1="134.0" y1="93.8" x2="119.0" y2="55.5" stroke-opacity="0.39" stroke-width="0.60"/><line x1="34.5" y1="168.0" x2="83.0" y2="96.5" stroke-opacity="0.29" stroke-width="0.66"/><line x1="63.4" y1="90.9" x2="45.7" y2="67.0" stroke-opacity="0.27" stroke-width="0.98"/><line x1="84.5" y1="105.9" x2="77.8" y2="64.2" stroke-opacity="0.14" stroke-width="0.87"/><line x1="144.9" y1="132.8" x2="131.9" y2="82.0" stroke-opacity="0.12" stroke-width="0.55"/><line x1="132.3" y1="108.6" x2="93.3" y2="85.0" stroke-opacity="0.21" stroke-width="0.59"/><line x1="144.2" y1="61.1" x2="109.4" y2="1.3" stroke-opacity="0.28" stroke-width="0.81"/><line x1="175.0" y1="99.2" x2="171.7" y2="33.9" stroke-opacity="0.21" stroke-width="0.71"/><line x1="114.6" y1="73.5" x2="149.6" y2="45.8" stroke-opacity="0.37" stroke-width="0.90"/><line x1="140.9" y1="65.6" x2="122.1" y2="28.0" stroke-opacity="0.11" stroke-width="0.90"/><line x1="90.8" y1="76.8" x2="85.3" y2="49.1" stroke-opacity="0.13" stroke-width="0.82"/><line x1="165.3" y1="79.6" x2="127.5" y2="7.5" stroke-opacity="0.20" stroke-width="0.74"/><line x1="81.9" y1="78.3" x2="125.3" y2="22.1" stroke-opacity="0.09" stroke-width="0.82"/><line x1="97.0" y1="52.1" x2="85.1" y2="26.3" stroke-opacity="0.11" stroke-width="0.90"/><line x1="121.1" y1="65.6" x2="130.7" y2="45.3" stroke-opacity="0.22" stroke-width="0.68"/><line x1="110.2" y1="169.7" x2="80.5" y2="94.6" stroke-opacity="0.28" stroke-width="0.56"/><line x1="74.8" y1="47.2" x2="48.8" y2="6.0" stroke-opacity="0.13" stroke-width="1.00"/><line x1="145.9" y1="168.1" x2="182.2" y2="104.8" stroke-opacity="0.30" stroke-width="0.74"/><line x1="125.4" y1="94.2" x2="108.8" y2="40.7" stroke-opacity="0.32" stroke-width="0.84"/><line x1="141.2" y1="129.4" x2="159.2" y2="110.1" stroke-opacity="0.13" stroke-width="0.52"/><line x1="115.0" y1="74.0" x2="62.9" y2="67.3" stroke-opacity="0.27" stroke-width="0.64"/><line x1="157.1" y1="43.7" x2="147.0" y2="-13.7" stroke-opacity="0.11" stroke-width="0.94"/><line x1="125.4" y1="114.8" x2="169.9" y2="65.2" stroke-opacity="0.22" stroke-width="0.76"/><line x1="80.6" y1="114.4" x2="83.9" y2="87.1" stroke-opacity="0.13" stroke-width="0.60"/><line x1="109.3" y1="57.4" x2="138.1" y2="-26.9" stroke-opacity="0.36" stroke-width="0.69"/><line x1="205.4" y1="56.5" x2="143.1" y2="18.5" stroke-opacity="0.36" stroke-width="0.97"/><line x1="31.8" y1="59.6" x2="108.9" y2="28.9" stroke-opacity="0.39" stroke-width="0.74"/><line x1="64.5" y1="128.8" x2="95.9" y2="65.8" stroke-opacity="0.34" stroke-width="0.72"/><line x1="81.7" y1="125.4" x2="133.4" y2="78.5" stroke-opacity="0.19" stroke-width="0.78"/><line x1="87.8" y1="62.1" x2="109.8" y2="59.0" stroke-opacity="0.11" stroke-width="0.71"/><line x1="164.5" y1="38.2" x2="148.4" y2="-0.8" stroke-opacity="0.21" stroke-width="0.66"/><line x1="161.2" y1="78.9" x2="152.1" y2="47.9" stroke-opacity="0.12" stroke-width="0.51"/><line x1="156.8" y1="40.8" x2="144.1" y2="10.1" stroke-opacity="0.19" stroke-width="0.88"/><line x1="101.9" y1="90.0" x2="74.3" y2="54.6" stroke-opacity="0.24" stroke-width="0.90"/><line x1="203.0" y1="115.7" x2="130.9" y2="66.8" stroke-opacity="0.40" stroke-width="0.59"/><line x1="76.2" y1="76.1" x2="53.5" y2="30.5" stroke-opacity="0.37" stroke-width="0.84"/><line x1="171.2" y1="83.4" x2="148.8" y2="76.0" stroke-opacity="0.18" stroke-width="0.65"/><line x1="157.6" y1="127.2" x2="182.1" y2="53.8" stroke-opacity="0.10" stroke-width="0.62"/><line x1="64.2" y1="44.8" x2="50.6" y2="-2.2" stroke-opacity="0.27" stroke-width="0.70"/><line x1="69.4" y1="45.9" x2="103.7" y2="-11.9" stroke-opacity="0.19" stroke-width="0.75"/><line x1="78.7" y1="63.8" x2="95.9" y2="41.7" stroke-opacity="0.09" stroke-width="0.74"/><line x1="121.8" y1="81.8" x2="69.0" y2="60.7" stroke-opacity="0.09" stroke-width="0.55"/><line x1="129.4" y1="97.7" x2="111.5" y2="57.4" stroke-opacity="0.34" stroke-width="0.75"/><line x1="156.1" y1="122.6" x2="128.2" y2="78.4" stroke-opacity="0.26" stroke-width="0.79"/><line x1="144.1" y1="130.3" x2="164.0" y2="117.6" stroke-opacity="0.34" stroke-width="0.81"/><line x1="85.6" y1="98.2" x2="134.5" y2="27.0" stroke-opacity="0.14" stroke-width="0.78"/><line x1="126.7" y1="122.8" x2="97.0" y2="93.9" stroke-opacity="0.38" stroke-width="0.50"/><line x1="174.9" y1="128.3" x2="148.6" y2="99.1" stroke-opacity="0.11" stroke-width="0.85"/><line x1="66.1" y1="160.7" x2="48.1" y2="106.7" stroke-opacity="0.09" stroke-width="0.74"/><line x1="160.4" y1="54.8" x2="177.3" y2="6.5" stroke-opacity="0.17" stroke-width="0.84"/><line x1="89.2" y1="96.8" x2="114.4" y2="53.1" stroke-opacity="0.28" stroke-width="0.97"/><line x1="175.5" y1="135.1" x2="155.2" y2="105.4" stroke-opacity="0.16" stroke-width="0.73"/><line x1="168.5" y1="62.1" x2="183.8" y2="47.1" stroke-opacity="0.11" stroke-width="0.60"/><line x1="161.3" y1="37.9" x2="152.4" y2="2.4" stroke-opacity="0.16" stroke-width="0.89"/><line x1="184.9" y1="171.3" x2="161.0" y2="105.4" stroke-opacity="0.24" stroke-width="0.87"/><line x1="126.7" y1="75.0" x2="102.3" y2="23.7" stroke-opacity="0.31" stroke-width="0.66"/><line x1="61.7" y1="84.7" x2="91.1" y2="2.6" stroke-opacity="0.40" stroke-width="0.96"/><line x1="178.5" y1="140.8" x2="137.2" y2="97.7" stroke-opacity="0.11" stroke-width="0.87"/><line x1="67.4" y1="132.8" x2="47.0" y2="82.7" stroke-opacity="0.38" stroke-width="1.00"/><line x1="113.6" y1="125.6" x2="157.8" y2="73.2" stroke-opacity="0.20" stroke-width="0.82"/><line x1="166.8" y1="125.0" x2="117.0" y2="108.8" stroke-opacity="0.15" stroke-width="0.73"/><line x1="54.7" y1="83.3" x2="44.9" y2="47.5" stroke-opacity="0.16" stroke-width="0.61"/><line x1="117.0" y1="157.1" x2="159.4" y2="104.8" stroke-opacity="0.09" stroke-width="0.93"/><line x1="86.8" y1="67.7" x2="102.5" y2="48.3" stroke-opacity="0.31" stroke-width="0.53"/><line x1="168.7" y1="130.9" x2="162.9" y2="68.7" stroke-opacity="0.35" stroke-width="0.98"/><line x1="68.6" y1="120.2" x2="33.8" y2="65.7" stroke-opacity="0.37" stroke-width="0.81"/><line x1="30.3" y1="145.5" x2="69.6" y2="95.4" stroke-opacity="0.42" stroke-width="0.80"/><line x1="118.6" y1="150.6" x2="98.3" y2="107.3" stroke-opacity="0.08" stroke-width="0.66"/><line x1="157.7" y1="71.5" x2="194.7" y2="58.6" stroke-opacity="0.31" stroke-width="0.55"/><line x1="100.4" y1="97.0" x2="151.2" y2="40.3" stroke-opacity="0.20" stroke-width="0.99"/><line x1="80.3" y1="37.1" x2="76.3" y2="-3.8" stroke-opacity="0.38" stroke-width="0.65"/><line x1="100.3" y1="72.5" x2="132.4" y2="24.8" stroke-opacity="0.10" stroke-width="0.67"/><line x1="173.6" y1="120.8" x2="122.0" y2="87.1" stroke-opacity="0.37" stroke-width="0.87"/><line x1="104.0" y1="139.4" x2="185.9" y2="103.9" stroke-opacity="0.34" stroke-width="0.58"/><line x1="45.8" y1="156.6" x2="87.3" y2="119.4" stroke-opacity="0.17" stroke-width="0.99"/><line x1="44.1" y1="112.7" x2="72.5" y2="87.1" stroke-opacity="0.15" stroke-width="0.65"/><line x1="136.4" y1="170.3" x2="193.8" y2="111.4" stroke-opacity="0.39" stroke-width="0.63"/><line x1="68.1" y1="99.2" x2="53.6" y2="78.5" stroke-opacity="0.11" stroke-width="0.97"/><line x1="140.6" y1="44.3" x2="92.9" y2="-14.3" stroke-opacity="0.10" stroke-width="0.94"/><line x1="54.6" y1="115.1" x2="51.2" y2="92.6" stroke-opacity="0.26" stroke-width="0.96"/><line x1="76.5" y1="138.9" x2="52.0" y2="74.2" stroke-opacity="0.19" stroke-width="0.89"/><line x1="53.6" y1="78.4" x2="115.6" y2="24.3" stroke-opacity="0.20" stroke-width="0.89"/><line x1="51.5" y1="52.7" x2="95.8" y2="-22.7" stroke-opacity="0.34" stroke-width="0.99"/><line x1="39.1" y1="119.8" x2="72.2" y2="65.6" stroke-opacity="0.40" stroke-width="0.65"/><line x1="47.2" y1="36.0" x2="89.1" y2="1.0" stroke-opacity="0.22" stroke-width="0.68"/><line x1="100.6" y1="146.4" x2="78.3" y2="93.6" stroke-opacity="0.11" stroke-width="0.51"/><line x1="119.6" y1="72.3" x2="158.6" y2="16.5" stroke-opacity="0.36" stroke-width="0.86"/><line x1="135.7" y1="151.2" x2="210.3" y2="111.4" stroke-opacity="0.26" stroke-width="0.53"/><line x1="152.7" y1="39.0" x2="178.7" y2="7.8" stroke-opacity="0.09" stroke-width="0.94"/><line x1="60.4" y1="97.7" x2="90.4" y2="42.2" stroke-opacity="0.30" stroke-width="0.55"/><line x1="36.1" y1="103.3" x2="77.0" y2="38.6" stroke-opacity="0.17" stroke-width="0.91"/><line x1="141.0" y1="43.1" x2="160.3" y2="-12.4" stroke-opacity="0.26" stroke-width="0.86"/><line x1="80.8" y1="95.0" x2="68.8" y2="57.2" stroke-opacity="0.27" stroke-width="0.54"/><line x1="105.8" y1="35.1" x2="99.4" y2="7.3" stroke-opacity="0.40" stroke-width="0.92"/><line x1="68.1" y1="150.0" x2="74.1" y2="64.3" stroke-opacity="0.15" stroke-width="0.50"/><line x1="126.3" y1="98.8" x2="177.8" y2="85.0" stroke-opacity="0.12" stroke-width="0.82"/><line x1="90.5" y1="112.2" x2="160.0" y2="81.2" stroke-opacity="0.36" stroke-width="0.57"/><line x1="64.5" y1="87.8" x2="71.0" y2="66.8" stroke-opacity="0.37" stroke-width="0.84"/><line x1="153.6" y1="158.4" x2="158.6" y2="82.1" stroke-opacity="0.15" stroke-width="0.67"/><line x1="124.7" y1="153.9" x2="95.0" y2="126.7" stroke-opacity="0.23" stroke-width="0.93"/><line x1="162.1" y1="166.3" x2="130.1" y2="87.9" stroke-opacity="0.17" stroke-width="0.81"/><line x1="179.1" y1="92.0" x2="163.2" y2="66.3" stroke-opacity="0.27" stroke-width="0.53"/><line x1="135.6" y1="144.3" x2="172.3" y2="73.5" stroke-opacity="0.24" stroke-width="0.72"/><line x1="134.1" y1="76.0" x2="110.3" y2="57.4" stroke-opacity="0.24" stroke-width="0.53"/><line x1="65.9" y1="41.9" x2="141.4" y2="22.7" stroke-opacity="0.29" stroke-width="0.93"/><line x1="49.0" y1="83.4" x2="90.6" y2="16.5" stroke-opacity="0.28" stroke-width="0.82"/><line x1="82.8" y1="159.3" x2="126.3" y2="85.1" stroke-opacity="0.28" stroke-width="0.63"/><line x1="104.8" y1="150.1" x2="98.5" y2="116.3" stroke-opacity="0.15" stroke-width="0.51"/><line x1="169.4" y1="40.4" x2="152.1" y2="28.4" stroke-opacity="0.28" stroke-width="0.62"/><line x1="154.5" y1="126.0" x2="177.3" y2="93.7" stroke-opacity="0.29" stroke-width="0.64"/><line x1="143.4" y1="149.1" x2="128.8" y2="107.4" stroke-opacity="0.40" stroke-width="0.79"/><line x1="94.1" y1="39.5" x2="84.0" y2="19.1" stroke-opacity="0.29" stroke-width="0.62"/><line x1="82.4" y1="123.5" x2="52.6" y2="98.2" stroke-opacity="0.20" stroke-width="0.97"/><line x1="177.1" y1="162.4" x2="135.0" y2="116.6" stroke-opacity="0.40" stroke-width="0.81"/><line x1="100.4" y1="70.3" x2="144.0" y2="22.2" stroke-opacity="0.37" stroke-width="0.86"/><line x1="56.8" y1="73.5" x2="135.7" y2="66.6" stroke-opacity="0.27" stroke-width="0.76"/><line x1="106.3" y1="127.2" x2="133.8" y2="75.0" stroke-opacity="0.27" stroke-width="0.62"/><line x1="158.9" y1="155.1" x2="166.5" y2="115.3" stroke-opacity="0.28" stroke-width="0.76"/><line x1="50.7" y1="61.1" x2="69.8" y2="26.5" stroke-opacity="0.15" stroke-width="0.60"/><line x1="73.6" y1="127.5" x2="69.0" y2="65.6" stroke-opacity="0.29" stroke-width="0.74"/><line x1="75.5" y1="105.9" x2="98.8" y2="41.8" stroke-opacity="0.15" stroke-width="0.87"/><line x1="111.9" y1="131.1" x2="127.2" y2="93.9" stroke-opacity="0.21" stroke-width="0.72"/><line x1="154.7" y1="79.7" x2="127.9" y2="-2.9" stroke-opacity="0.41" stroke-width="0.75"/><line x1="67.1" y1="47.0" x2="53.8" y2="-12.9" stroke-opacity="0.32" stroke-width="0.81"/><line x1="112.1" y1="139.6" x2="98.2" y2="78.9" stroke-opacity="0.30" stroke-width="0.77"/><line x1="119.0" y1="122.9" x2="152.3" y2="85.7" stroke-opacity="0.41" stroke-width="0.74"/><line x1="96.6" y1="77.0" x2="93.7" y2="-5.2" stroke-opacity="0.14" stroke-width="0.86"/><line x1="178.9" y1="66.1" x2="174.6" y2="-13.9" stroke-opacity="0.08" stroke-width="0.99"/><line x1="115.0" y1="120.7" x2="98.3" y2="71.2" stroke-opacity="0.14" stroke-width="0.68"/><line x1="102.0" y1="99.2" x2="134.6" y2="50.4" stroke-opacity="0.35" stroke-width="0.80"/><line x1="158.5" y1="105.6" x2="184.3" y2="76.4" stroke-opacity="0.27" stroke-width="0.93"/><line x1="118.7" y1="65.4" x2="104.7" y2="37.5" stroke-opacity="0.16" stroke-width="0.72"/><line x1="102.1" y1="102.1" x2="155.1" y2="48.0" stroke-opacity="0.35" stroke-width="0.62"/><line x1="124.2" y1="75.7" x2="114.2" y2="39.2" stroke-opacity="0.32" stroke-width="0.72"/><line x1="91.7" y1="149.4" x2="74.7" y2="101.6" stroke-opacity="0.22" stroke-width="0.79"/><line x1="107.8" y1="127.8" x2="131.0" y2="44.5" stroke-opacity="0.33" stroke-width="0.55"/><line x1="158.5" y1="60.0" x2="149.5" y2="39.8" stroke-opacity="0.14" stroke-width="0.75"/><line x1="55.6" y1="45.6" x2="48.2" y2="26.1" stroke-opacity="0.10" stroke-width="0.66"/><line x1="143.1" y1="128.8" x2="174.2" y2="51.1" stroke-opacity="0.31" stroke-width="0.62"/><line x1="83.2" y1="61.0" x2="138.2" y2="-3.4" stroke-opacity="0.24" stroke-width="0.60"/><line x1="114.0" y1="41.7" x2="134.9" y2="11.3" stroke-opacity="0.14" stroke-width="0.75"/><line x1="84.8" y1="132.3" x2="72.0" y2="72.6" stroke-opacity="0.34" stroke-width="1.00"/><line x1="109.0" y1="49.2" x2="120.0" y2="25.7" stroke-opacity="0.30" stroke-width="0.55"/><line x1="100.2" y1="44.8" x2="137.3" y2="34.7" stroke-opacity="0.34" stroke-width="0.72"/><line x1="190.2" y1="115.6" x2="162.9" y2="72.3" stroke-opacity="0.26" stroke-width="0.85"/><line x1="162.6" y1="81.4" x2="137.0" y2="11.4" stroke-opacity="0.12" stroke-width="0.56"/><line x1="72.4" y1="156.2" x2="98.9" y2="113.4" stroke-opacity="0.36" stroke-width="0.97"/><line x1="137.7" y1="99.3" x2="157.5" y2="55.6" stroke-opacity="0.12" stroke-width="0.83"/><line x1="123.3" y1="82.9" x2="109.7" y2="37.5" stroke-opacity="0.34" stroke-width="0.50"/><line x1="89.0" y1="58.2" x2="140.5" y2="8.9" stroke-opacity="0.17" stroke-width="0.70"/><line x1="111.9" y1="125.5" x2="96.9" y2="78.1" stroke-opacity="0.35" stroke-width="0.78"/><line x1="80.6" y1="95.9" x2="82.8" y2="9.6" stroke-opacity="0.24" stroke-width="0.87"/><line x1="70.2" y1="56.3" x2="58.7" y2="29.7" stroke-opacity="0.09" stroke-width="0.95"/><line x1="147.0" y1="110.1" x2="139.4" y2="88.2" stroke-opacity="0.34" stroke-width="0.53"/><line x1="168.8" y1="62.4" x2="126.1" y2="26.8" stroke-opacity="0.35" stroke-width="0.80"/><line x1="63.2" y1="36.9" x2="82.8" y2="10.1" stroke-opacity="0.26" stroke-width="0.80"/><line x1="103.2" y1="94.2" x2="160.6" y2="40.0" stroke-opacity="0.26" stroke-width="0.94"/><line x1="160.9" y1="146.7" x2="149.4" y2="79.4" stroke-opacity="0.27" stroke-width="0.62"/><line x1="95.2" y1="118.3" x2="66.9" y2="67.1" stroke-opacity="0.29" stroke-width="0.71"/><line x1="126.2" y1="144.7" x2="150.7" y2="110.2" stroke-opacity="0.19" stroke-width="0.72"/><line x1="120.5" y1="140.5" x2="174.6" y2="94.9" stroke-opacity="0.41" stroke-width="0.72"/><line x1="102.3" y1="79.3" x2="163.0" y2="30.2" stroke-opacity="0.22" stroke-width="0.78"/><line x1="58.0" y1="109.3" x2="111.8" y2="41.5" stroke-opacity="0.13" stroke-width="0.95"/><line x1="154.4" y1="60.3" x2="146.6" y2="40.5" stroke-opacity="0.38" stroke-width="0.53"/><line x1="173.9" y1="127.1" x2="97.0" y2="112.1" stroke-opacity="0.14" stroke-width="0.75"/><line x1="105.3" y1="137.4" x2="120.2" y2="100.1" stroke-opacity="0.31" stroke-width="0.57"/><line x1="89.2" y1="95.8" x2="158.0" y2="83.0" stroke-opacity="0.22" stroke-width="0.97"/><line x1="72.4" y1="81.3" x2="72.3" y2="22.7" stroke-opacity="0.28" stroke-width="0.98"/><line x1="60.4" y1="160.8" x2="50.2" y2="109.1" stroke-opacity="0.15" stroke-width="0.88"/><line x1="69.3" y1="97.7" x2="94.7" y2="51.6" stroke-opacity="0.20" stroke-width="0.79"/><line x1="44.6" y1="38.6" x2="84.4" y2="-2.0" stroke-opacity="0.33" stroke-width="0.70"/><line x1="130.4" y1="118.3" x2="123.9" y2="78.8" stroke-opacity="0.39" stroke-width="0.67"/><line x1="149.7" y1="70.7" x2="123.7" y2="4.4" stroke-opacity="0.13" stroke-width="0.69"/><line x1="89.3" y1="76.2" x2="94.9" y2="45.5" stroke-opacity="0.22" stroke-width="0.55"/><line x1="111.0" y1="178.9" x2="97.1" y2="98.6" stroke-opacity="0.32" stroke-width="0.92"/><line x1="185.6" y1="92.8" x2="151.0" y2="41.9" stroke-opacity="0.10" stroke-width="0.68"/><line x1="130.4" y1="43.8" x2="161.2" y2="4.9" stroke-opacity="0.24" stroke-width="0.92"/><line x1="56.9" y1="113.9" x2="79.5" y2="85.3" stroke-opacity="0.29" stroke-width="0.71"/><line x1="93.6" y1="158.3" x2="84.3" y2="114.9" stroke-opacity="0.16" stroke-width="0.77"/><line x1="178.1" y1="44.8" x2="161.1" y2="5.2" stroke-opacity="0.33" stroke-width="0.75"/><line x1="62.2" y1="57.0" x2="49.3" y2="17.8" stroke-opacity="0.14" stroke-width="0.64"/><line x1="100.9" y1="112.5" x2="131.9" y2="109.9" stroke-opacity="0.11" stroke-width="0.86"/><line x1="78.2" y1="68.6" x2="146.0" y2="36.7" stroke-opacity="0.25" stroke-width="0.76"/><line x1="37.2" y1="136.9" x2="68.6" y2="101.6" stroke-opacity="0.36" stroke-width="0.55"/><line x1="29.3" y1="164.8" x2="88.4" y2="102.8" stroke-opacity="0.42" stroke-width="0.77"/><line x1="131.4" y1="90.7" x2="121.1" y2="60.4" stroke-opacity="0.30" stroke-width="0.72"/><line x1="76.9" y1="135.2" x2="50.7" y2="88.5" stroke-opacity="0.18" stroke-width="0.89"/><line x1="80.7" y1="73.0" x2="92.3" y2="56.5" stroke-opacity="0.10" stroke-width="0.52"/><line x1="186.8" y1="112.6" x2="152.5" y2="54.2" stroke-opacity="0.12" stroke-width="0.72"/><line x1="85.6" y1="112.9" x2="117.7" y2="82.8" stroke-opacity="0.30" stroke-width="0.60"/><line x1="29.7" y1="68.4" x2="83.0" y2="22.9" stroke-opacity="0.14" stroke-width="0.74"/><line x1="143.7" y1="141.3" x2="110.9" y2="75.0" stroke-opacity="0.41" stroke-width="0.69"/><line x1="91.4" y1="72.8" x2="127.2" y2="25.9" stroke-opacity="0.33" stroke-width="0.93"/><line x1="116.6" y1="50.3" x2="159.0" y2="-0.5" stroke-opacity="0.40" stroke-width="0.81"/><line x1="43.8" y1="64.9" x2="100.6" y2="15.0" stroke-opacity="0.26" stroke-width="0.52"/><line x1="145.5" y1="110.5" x2="165.6" y2="84.8" stroke-opacity="0.40" stroke-width="0.59"/><line x1="72.5" y1="50.0" x2="94.5" y2="27.1" stroke-opacity="0.09" stroke-width="0.82"/><line x1="67.0" y1="156.0" x2="96.0" y2="115.7" stroke-opacity="0.24" stroke-width="0.96"/><line x1="133.8" y1="61.1" x2="154.2" y2="46.9" stroke-opacity="0.33" stroke-width="0.87"/><line x1="55.4" y1="122.9" x2="73.2" y2="96.0" stroke-opacity="0.35" stroke-width="0.81"/><line x1="137.7" y1="39.0" x2="148.4" y2="19.0" stroke-opacity="0.22" stroke-width="0.93"/><line x1="57.6" y1="58.3" x2="99.9" y2="-7.8" stroke-opacity="0.37" stroke-width="0.85"/><line x1="65.6" y1="51.7" x2="35.6" y2="21.8" stroke-opacity="0.41" stroke-width="0.52"/><line x1="155.3" y1="58.3" x2="138.3" y2="39.5" stroke-opacity="0.37" stroke-width="0.99"/><line x1="154.9" y1="135.0" x2="133.1" y2="59.9" stroke-opacity="0.34" stroke-width="0.75"/><line x1="118.7" y1="102.2" x2="98.1" y2="40.9" stroke-opacity="0.35" stroke-width="0.79"/><line x1="164.9" y1="69.4" x2="158.4" y2="48.4" stroke-opacity="0.28" stroke-width="0.81"/><line x1="145.9" y1="133.4" x2="95.5" y2="80.4" stroke-opacity="0.14" stroke-width="0.83"/><line x1="78.7" y1="132.1" x2="112.8" y2="84.4" stroke-opacity="0.19" stroke-width="0.53"/><line x1="163.9" y1="154.0" x2="127.5" y2="88.4" stroke-opacity="0.10" stroke-width="0.64"/><line x1="57.8" y1="35.4" x2="93.2" y2="-2.1" stroke-opacity="0.10" stroke-width="0.51"/><line x1="122.8" y1="95.7" x2="130.4" y2="71.9" stroke-opacity="0.27" stroke-width="0.76"/><line x1="93.1" y1="86.1" x2="129.2" y2="36.9" stroke-opacity="0.31" stroke-width="0.64"/><line x1="73.5" y1="124.3" x2="91.2" y2="95.0" stroke-opacity="0.28" stroke-width="0.87"/><line x1="174.1" y1="138.1" x2="176.8" y2="93.1" stroke-opacity="0.17" stroke-width="0.81"/><line x1="41.4" y1="110.0" x2="81.4" y2="85.2" stroke-opacity="0.39" stroke-width="0.90"/><line x1="85.0" y1="64.4" x2="100.8" y2="46.8" stroke-opacity="0.12" stroke-width="0.94"/><line x1="137.6" y1="64.2" x2="211.8" y2="62.2" stroke-opacity="0.23" stroke-width="0.98"/><line x1="128.6" y1="59.9" x2="135.6" y2="-24.0" stroke-opacity="0.20" stroke-width="0.84"/><line x1="18.7" y1="125.6" x2="102.1" y2="104.7" stroke-opacity="0.39" stroke-width="0.77"/><line x1="138.8" y1="135.1" x2="89.5" y2="93.6" stroke-opacity="0.27" stroke-width="0.59"/><line x1="62.6" y1="62.6" x2="146.6" y2="40.6" stroke-opacity="0.10" stroke-width="0.88"/><line x1="138.1" y1="52.6" x2="196.6" y2="33.0" stroke-opacity="0.28" stroke-width="0.70"/><line x1="79.6" y1="125.8" x2="114.2" y2="56.7" stroke-opacity="0.11" stroke-width="0.71"/><line x1="161.6" y1="109.2" x2="175.5" y2="78.4" stroke-opacity="0.24" stroke-width="0.51"/><line x1="105.1" y1="98.1" x2="123.6" y2="68.5" stroke-opacity="0.28" stroke-width="0.66"/><line x1="66.1" y1="145.5" x2="46.0" y2="98.2" stroke-opacity="0.14" stroke-width="0.65"/><line x1="73.9" y1="79.0" x2="81.4" y2="55.1" stroke-opacity="0.24" stroke-width="0.98"/><line x1="106.6" y1="104.2" x2="132.0" y2="88.3" stroke-opacity="0.15" stroke-width="0.80"/><line x1="100.1" y1="128.6" x2="176.2" y2="122.0" stroke-opacity="0.37" stroke-width="0.61"/><line x1="113.2" y1="122.4" x2="138.9" y2="64.0" stroke-opacity="0.27" stroke-width="0.62"/><line x1="44.1" y1="92.2" x2="69.3" y2="85.3" stroke-opacity="0.38" stroke-width="0.98"/><line x1="152.4" y1="18.1" x2="105.8" y2="13.1" stroke-opacity="0.20" stroke-width="0.65"/><line x1="32.2" y1="90.5" x2="70.9" y2="53.3" stroke-opacity="0.16" stroke-width="0.96"/><line x1="94.9" y1="147.8" x2="94.1" y2="73.3" stroke-opacity="0.20" stroke-width="0.87"/><line x1="63.0" y1="79.2" x2="80.0" y2="57.0" stroke-opacity="0.32" stroke-width="0.63"/><line x1="147.4" y1="136.2" x2="183.7" y2="78.1" stroke-opacity="0.33" stroke-width="0.85"/></g><rect x="57.35" y="22.85" width="111.85" height="111.15" fill="url(#vig)"/></g>
<line x1="74.40" y1="129.20" x2="67.23" y2="112.17" stroke="#c39428" stroke-width="2.20"/>
<polygon points="65.10,107.10 70.19,111.47 64.66,113.79" fill="#c39428"/>
<line x1="77.30" y1="112.20" x2="64.72" y2="126.56" stroke="#c39428" stroke-width="2.20"/>
<polygon points="61.10,130.70 62.80,124.21 67.31,128.16" fill="#c39428"/>
<line x1="178.80" y1="80.90" x2="191.10" y2="80.90" stroke="#000" stroke-width="1.00"/>
<polygon points="196.60,80.90 190.60,83.60 190.60,78.20" fill="#000"/>
<line x1="356.00" y1="81.00" x2="368.80" y2="81.00" stroke="#000" stroke-width="1.00"/>
<polygon points="374.30,81.00 368.30,83.70 368.30,78.30" fill="#000"/>
<line x1="577.80" y1="80.70" x2="591.10" y2="80.70" stroke="#000" stroke-width="1.00"/>
<polygon points="596.60,80.70 590.60,83.40 590.60,78.00" fill="#000"/>
<line x1="355.00" y1="361.30" x2="368.00" y2="361.30" stroke="#000" stroke-width="1.00"/>
<polygon points="373.50,361.30 367.50,364.00 367.50,358.60" fill="#000"/>
<line x1="48" y1="151.2" x2="675.7" y2="151.2" stroke="#000" stroke-width="1.7"/>
<line x1="227.80" y1="41.90" x2="348.50" y2="41.90" stroke="#dcdcdc" stroke-width="1.6"/>
<line x1="227.80" y1="61.60" x2="348.50" y2="61.60" stroke="#dcdcdc" stroke-width="1.6"/>
<line x1="227.80" y1="81.30" x2="348.50" y2="81.30" stroke="#dcdcdc" stroke-width="1.6"/>
<line x1="227.80" y1="101.10" x2="348.50" y2="101.10" stroke="#dcdcdc" stroke-width="1.6"/>
<line x1="288.15" y1="39.10" x2="288.15" y2="120.85" stroke="#dcdcdc" stroke-width="1.6"/>
<clipPath id="cb"><rect x="227.80" y="39.10" width="120.70" height="81.75"/></clipPath>
<g clip-path="url(#cb)"><polygon points="227.80,120.85 228.10,110.54 228.77,109.70 229.44,109.66 230.11,108.33 230.78,109.84 231.45,110.02 232.12,110.31 232.79,109.21 233.46,109.00 234.13,107.99 234.80,106.65 235.47,107.74 236.14,106.96 236.81,106.45 237.48,103.95 238.15,102.41 238.82,101.13 239.49,99.16 240.16,100.07 240.83,97.48 241.50,96.49 242.17,96.35 242.84,96.78 243.51,94.86 244.18,92.13 244.85,88.47 245.52,85.63 246.19,81.10 246.86,76.70 247.53,73.80 248.20,71.40 248.87,69.20 249.54,64.40 250.21,62.89 250.88,60.75 251.55,57.46 252.22,60.00 252.89,61.52 253.56,64.85 254.23,65.51 254.90,66.10 255.57,69.70 256.24,70.69 256.91,71.37 257.58,73.39 258.25,74.40 258.92,75.18 259.59,78.19 260.26,78.82 260.93,82.86 261.60,86.34 262.27,88.22 262.94,89.77 263.61,91.12 264.28,92.75 264.95,92.01 265.62,94.92 266.29,94.02 266.96,96.20 267.63,96.32 268.30,99.86 268.97,101.26 269.64,101.21 270.31,103.85 270.98,102.81 271.65,104.39 272.32,105.31 272.99,105.26 273.66,107.38 274.33,109.19 275.00,107.10 275.67,108.92 276.34,108.35 277.01,110.17 277.68,109.42 278.35,109.85 279.02,110.11 279.69,110.07 280.36,108.94 281.03,111.27 281.70,109.16 282.37,110.55 283.04,110.95 283.71,109.89 284.38,110.77 285.05,111.69 285.72,110.84 286.39,110.25 287.06,108.73 287.73,110.38 288.40,110.79 289.07,110.95 289.74,110.69 290.41,111.80 291.08,111.04 291.75,111.41 292.42,112.04 293.09,110.82 293.76,111.26 294.43,113.23 295.10,112.20 295.77,110.47 296.44,111.44 297.11,111.95 297.78,112.49 298.45,111.62 299.12,111.08 299.79,110.92 300.46,112.02 301.13,111.75 301.80,111.09 302.47,111.35 303.14,111.17 303.81,112.08 304.48,110.95 305.15,111.89 305.82,112.18 306.49,111.89 307.16,110.83 307.83,112.58 308.50,110.96 309.17,111.84 309.84,110.90 310.51,110.04 311.18,111.53 311.85,111.50 312.52,111.12 313.19,111.32 313.86,110.50 314.53,110.34 315.20,110.72 315.87,112.29 316.54,111.33 317.21,110.18 317.88,110.96 318.55,109.79 319.22,109.40 319.89,110.05 320.56,107.40 321.23,104.70 321.90,103.54 322.57,101.22 323.24,97.90 323.91,95.44 324.58,90.09 325.25,87.40 325.92,83.30 326.59,81.35 327.26,80.96 327.93,79.52 328.60,78.01 329.27,79.22 329.94,77.05 330.61,78.35 331.28,78.64 331.95,79.31 332.62,77.18 333.29,76.39 333.96,74.97 334.63,73.59 335.30,69.81 335.97,68.16 336.64,68.43 337.31,68.27 337.98,72.12 338.65,70.92 339.32,70.79 339.99,74.11 340.66,75.11 341.33,79.28 342.00,82.69 342.67,83.49 343.34,85.68 344.01,87.60 344.68,89.94 345.35,90.75 346.02,93.05 346.69,95.27 347.36,97.55 348.03,98.57 348.50,120.85" fill="#7d8fa0"/><path d="M228.40,120.85V110.16" stroke="#7689a0" stroke-width="0.8"/><path d="M229.74,120.85V109.07" stroke="#8a9cae" stroke-width="0.8"/><path d="M231.08,120.85V109.92" stroke="#7689a0" stroke-width="0.8"/><path d="M232.42,120.85V109.82" stroke="#687d90" stroke-width="0.8"/><path d="M233.76,120.85V108.55" stroke="#7689a0" stroke-width="0.8"/><path d="M235.10,120.85V107.14" stroke="#7689a0" stroke-width="0.8"/><path d="M236.44,120.85V106.73" stroke="#7689a0" stroke-width="0.8"/><path d="M237.78,120.85V103.26" stroke="#687d90" stroke-width="0.8"/><path d="M239.12,120.85V100.25" stroke="#687d90" stroke-width="0.8"/><path d="M240.46,120.85V98.91" stroke="#8a9cae" stroke-width="0.8"/><path d="M241.80,120.85V96.43" stroke="#687d90" stroke-width="0.8"/><path d="M243.14,120.85V95.92" stroke="#7689a0" stroke-width="0.8"/><path d="M244.48,120.85V90.49" stroke="#8a9cae" stroke-width="0.8"/><path d="M245.82,120.85V83.60" stroke="#687d90" stroke-width="0.8"/><path d="M247.16,120.85V75.40" stroke="#687d90" stroke-width="0.8"/><path d="M248.50,120.85V70.41" stroke="#8a9cae" stroke-width="0.8"/><path d="M249.84,120.85V63.72" stroke="#7689a0" stroke-width="0.8"/><path d="M251.18,120.85V59.28" stroke="#7689a0" stroke-width="0.8"/><path d="M252.52,120.85V60.68" stroke="#687d90" stroke-width="0.8"/><path d="M253.86,120.85V65.14" stroke="#7689a0" stroke-width="0.8"/><path d="M255.20,120.85V67.71" stroke="#687d90" stroke-width="0.8"/><path d="M256.54,120.85V70.99" stroke="#687d90" stroke-width="0.8"/><path d="M257.88,120.85V73.85" stroke="#8a9cae" stroke-width="0.8"/><path d="M259.22,120.85V76.53" stroke="#687d90" stroke-width="0.8"/><path d="M260.56,120.85V80.63" stroke="#687d90" stroke-width="0.8"/><path d="M261.90,120.85V87.18" stroke="#8a9cae" stroke-width="0.8"/><path d="M263.24,120.85V90.37" stroke="#8a9cae" stroke-width="0.8"/><path d="M264.58,120.85V92.42" stroke="#7689a0" stroke-width="0.8"/><path d="M265.92,120.85V94.51" stroke="#8a9cae" stroke-width="0.8"/><path d="M267.26,120.85V96.25" stroke="#7689a0" stroke-width="0.8"/><path d="M268.60,120.85V100.49" stroke="#7689a0" stroke-width="0.8"/><path d="M269.94,120.85V102.39" stroke="#8a9cae" stroke-width="0.8"/><path d="M271.28,120.85V103.52" stroke="#687d90" stroke-width="0.8"/><path d="M272.62,120.85V105.29" stroke="#8a9cae" stroke-width="0.8"/><path d="M273.96,120.85V108.19" stroke="#687d90" stroke-width="0.8"/><path d="M275.30,120.85V107.91" stroke="#8a9cae" stroke-width="0.8"/><path d="M276.64,120.85V109.17" stroke="#8a9cae" stroke-width="0.8"/><path d="M277.98,120.85V109.61" stroke="#7689a0" stroke-width="0.8"/><path d="M279.32,120.85V110.09" stroke="#8a9cae" stroke-width="0.8"/><path d="M280.66,120.85V109.98" stroke="#7689a0" stroke-width="0.8"/><path d="M282.00,120.85V109.78" stroke="#8a9cae" stroke-width="0.8"/><path d="M283.34,120.85V110.47" stroke="#687d90" stroke-width="0.8"/><path d="M284.68,120.85V111.18" stroke="#7689a0" stroke-width="0.8"/><path d="M286.02,120.85V110.57" stroke="#8a9cae" stroke-width="0.8"/><path d="M287.36,120.85V109.47" stroke="#8a9cae" stroke-width="0.8"/><path d="M288.70,120.85V110.86" stroke="#687d90" stroke-width="0.8"/><path d="M290.04,120.85V111.19" stroke="#687d90" stroke-width="0.8"/><path d="M291.38,120.85V111.21" stroke="#8a9cae" stroke-width="0.8"/><path d="M292.72,120.85V111.49" stroke="#7689a0" stroke-width="0.8"/><path d="M294.06,120.85V112.14" stroke="#687d90" stroke-width="0.8"/><path d="M295.40,120.85V111.42" stroke="#8a9cae" stroke-width="0.8"/><path d="M296.74,120.85V111.67" stroke="#7689a0" stroke-width="0.8"/><path d="M298.08,120.85V112.10" stroke="#8a9cae" stroke-width="0.8"/><path d="M299.42,120.85V111.00" stroke="#7689a0" stroke-width="0.8"/><path d="M300.76,120.85V111.90" stroke="#7689a0" stroke-width="0.8"/><path d="M302.10,120.85V111.20" stroke="#7689a0" stroke-width="0.8"/><path d="M303.44,120.85V111.58" stroke="#687d90" stroke-width="0.8"/><path d="M304.78,120.85V111.37" stroke="#8a9cae" stroke-width="0.8"/><path d="M306.12,120.85V112.05" stroke="#8a9cae" stroke-width="0.8"/><path d="M307.46,120.85V111.61" stroke="#8a9cae" stroke-width="0.8"/><path d="M308.80,120.85V111.35" stroke="#8a9cae" stroke-width="0.8"/><path d="M310.14,120.85V110.51" stroke="#687d90" stroke-width="0.8"/><path d="M311.48,120.85V111.52" stroke="#8a9cae" stroke-width="0.8"/><path d="M312.82,120.85V111.21" stroke="#8a9cae" stroke-width="0.8"/><path d="M314.16,120.85V110.43" stroke="#7689a0" stroke-width="0.8"/><path d="M315.50,120.85V111.42" stroke="#7689a0" stroke-width="0.8"/><path d="M316.84,120.85V110.82" stroke="#687d90" stroke-width="0.8"/><path d="M318.18,120.85V110.44" stroke="#8a9cae" stroke-width="0.8"/><path d="M319.52,120.85V109.69" stroke="#687d90" stroke-width="0.8"/><path d="M320.86,120.85V106.19" stroke="#7689a0" stroke-width="0.8"/><path d="M322.20,120.85V102.50" stroke="#687d90" stroke-width="0.8"/><path d="M323.54,120.85V96.80" stroke="#687d90" stroke-width="0.8"/><path d="M324.88,120.85V88.89" stroke="#7689a0" stroke-width="0.8"/><path d="M326.22,120.85V82.43" stroke="#7689a0" stroke-width="0.8"/><path d="M327.56,120.85V80.32" stroke="#8a9cae" stroke-width="0.8"/><path d="M328.90,120.85V78.55" stroke="#8a9cae" stroke-width="0.8"/><path d="M330.24,120.85V77.64" stroke="#8a9cae" stroke-width="0.8"/><path d="M331.58,120.85V78.94" stroke="#687d90" stroke-width="0.8"/><path d="M332.92,120.85V76.83" stroke="#7689a0" stroke-width="0.8"/><path d="M334.26,120.85V74.35" stroke="#7689a0" stroke-width="0.8"/><path d="M335.60,120.85V69.07" stroke="#7689a0" stroke-width="0.8"/><path d="M336.94,120.85V68.36" stroke="#7689a0" stroke-width="0.8"/><path d="M338.28,120.85V71.58" stroke="#7689a0" stroke-width="0.8"/><path d="M339.62,120.85V72.28" stroke="#8a9cae" stroke-width="0.8"/><path d="M340.96,120.85V76.98" stroke="#7689a0" stroke-width="0.8"/><path d="M342.30,120.85V83.05" stroke="#7689a0" stroke-width="0.8"/><path d="M343.64,120.85V86.54" stroke="#8a9cae" stroke-width="0.8"/><path d="M344.98,120.85V90.30" stroke="#687d90" stroke-width="0.8"/><path d="M346.32,120.85V94.04" stroke="#7689a0" stroke-width="0.8"/><path d="M347.66,120.85V98.01" stroke="#687d90" stroke-width="0.8"/><path d="M228.10,108.93V112.15M226.60,108.93h3.01M226.60,112.15h3.01M228.77,107.98V111.42M226.77,107.98h4.00M226.77,111.42h4.00M229.44,107.68V111.65M226.63,107.68h5.62M226.63,111.65h5.62M230.11,106.07V110.60M227.49,106.07h5.24M227.49,110.60h5.24M230.78,107.45V112.24M228.37,107.45h4.82M228.37,112.24h4.82M231.45,107.65V112.39M228.68,107.65h5.54M228.68,112.39h5.54M232.12,107.97V112.66M230.00,107.97h4.24M230.00,112.66h4.24M232.79,106.63V111.79M229.52,106.63h6.54M229.52,111.79h6.54M233.46,107.02V110.99M230.72,107.02h5.47M230.72,110.99h5.47M234.13,105.37V110.61M232.52,105.37h3.23M232.52,110.61h3.23M234.80,104.55V108.75M231.60,104.55h6.41M231.60,108.75h6.41M235.47,105.83V109.64M232.25,105.83h6.43M232.25,109.64h6.43M236.14,104.53V109.39M232.96,104.53h6.37M232.96,109.39h6.37M236.81,103.42V109.48M233.15,103.42h7.32M233.15,109.48h7.32M237.48,100.55V107.35M234.66,100.55h5.64M234.66,107.35h5.64M238.15,98.86V105.97M235.38,98.86h5.55M235.38,105.97h5.55M238.82,96.47V105.79M235.06,96.47h7.52M235.06,105.79h7.52M239.49,92.96V105.35M237.67,92.96h3.64M237.67,105.35h3.64M240.16,95.06V105.07M238.38,95.06h3.56M238.38,105.07h3.56M240.83,91.98V102.98M237.66,91.98h6.34M237.66,102.98h6.34M241.50,90.04V102.94M238.77,90.04h5.46M238.77,102.94h5.46M242.17,89.85V102.86M240.65,89.85h3.03M240.65,102.86h3.03M242.84,90.22V103.35M239.04,90.22h7.60M239.04,103.35h7.60M243.51,87.08V102.65M240.69,87.08h5.64M240.69,102.65h5.64M244.18,85.39V98.87M240.56,85.39h7.23M240.56,98.87h7.23M244.85,80.09V96.86M241.93,80.09h5.85M241.93,96.86h5.85M245.52,76.89V94.38M243.27,76.89h4.51M243.27,94.38h4.51M246.19,70.84V91.35M243.78,70.84h4.82M243.78,91.35h4.82M246.86,66.68V86.72M243.84,66.68h6.04M243.84,86.72h6.04M247.53,62.24V85.35M244.64,62.24h5.78M244.64,85.35h5.78M248.20,56.80V86.00M245.09,56.80h6.21M245.09,86.00h6.21M248.87,55.15V83.25M246.70,55.15h4.34M246.70,83.25h4.34M249.54,47.23V81.56M247.15,47.23h4.79M247.15,81.56h4.79M250.21,48.35V77.44M246.63,48.35h7.16M246.63,77.44h7.16M250.88,46.44V75.07M247.34,46.44h7.08M247.34,75.07h7.08M251.55,40.96V73.96M249.17,40.96h4.76M249.17,73.96h4.76M252.22,41.21V78.79M249.72,41.21h5.01M249.72,78.79h5.01M252.89,45.97V77.08M250.44,45.97h4.90M250.44,77.08h4.90M253.56,50.26V79.43M250.41,50.26h6.31M250.41,79.43h6.31M254.23,54.29V76.72M252.54,54.29h3.39M252.54,76.72h3.39M254.90,56.48V75.72M252.27,56.48h5.26M252.27,75.72h5.26M255.57,61.47V77.94M252.84,61.47h5.46M252.84,77.94h5.46M256.24,63.76V77.61M253.60,63.76h5.27M253.60,77.61h5.27M256.91,64.84V77.89M253.86,64.84h6.10M253.86,77.89h6.10M257.58,66.30V80.49M254.40,66.30h6.36M254.40,80.49h6.36M258.25,67.72V81.09M255.70,67.72h5.10M255.70,81.09h5.10M258.92,67.12V83.24M256.59,67.12h4.67M256.59,83.24h4.67M259.59,69.84V86.53M255.80,69.84h7.57M255.80,86.53h7.57M260.26,69.31V88.34M257.50,69.31h5.53M257.50,88.34h5.53M260.93,74.51V91.22M258.00,74.51h5.86M258.00,91.22h5.86M261.60,76.22V96.47M258.89,76.22h5.42M258.89,96.47h5.42M262.27,78.96V97.48M259.72,78.96h5.09M259.72,97.48h5.09M262.94,81.61V97.92M260.77,81.61h4.34M260.77,97.92h4.34M263.61,83.03V99.20M260.58,83.03h6.07M260.58,99.20h6.07M264.28,82.52V102.98M262.42,82.52h3.72M262.42,102.98h3.72M264.95,84.78V99.23M261.74,84.78h6.41M261.74,99.23h6.41M265.62,87.05V102.79M262.96,87.05h5.33M262.96,102.79h5.33M266.29,87.27V100.77M264.38,87.27h3.82M264.38,100.77h3.82M266.96,88.26V104.14M264.07,88.26h5.78M264.07,104.14h5.78M267.63,88.50V104.15M263.92,88.50h7.43M263.92,104.15h7.43M268.30,93.62V106.10M265.37,93.62h5.85M265.37,106.10h5.85M268.97,95.28V107.25M266.31,95.28h5.33M266.31,107.25h5.33M269.64,95.77V106.65M265.89,95.77h7.50M265.89,106.65h7.50M270.31,98.40V109.29M268.48,98.40h3.65M268.48,109.29h3.65M270.98,97.64V107.98M267.26,97.64h7.44M267.26,107.98h7.44M271.65,99.33V109.45M268.87,99.33h5.57M268.87,109.45h5.57M272.32,101.88V108.74M268.97,101.88h6.71M268.97,108.74h6.71M272.99,101.01V109.51M269.80,101.01h6.38M269.80,109.51h6.38M273.66,104.12V110.64M271.28,104.12h4.75M271.28,110.64h4.75M274.33,105.86V112.52M272.58,105.86h3.50M272.58,112.52h3.50M275.00,103.89V110.30M272.35,103.89h5.29M272.35,110.30h5.29M275.67,106.54V111.29M272.28,106.54h6.79M272.28,111.29h6.79M276.34,105.82V110.88M274.59,105.82h3.49M274.59,110.88h3.49M277.01,107.97V112.37M273.53,107.97h6.95M273.53,112.37h6.95M277.68,107.35V111.49M274.38,107.35h6.61M274.38,111.49h6.61M278.35,107.46V112.24M276.65,107.46h3.40M276.65,112.24h3.40M279.02,108.13V112.08M275.71,108.13h6.62M275.71,112.08h6.62M279.69,108.21V111.93M276.20,108.21h6.98M276.20,111.93h6.98M280.36,107.19V110.68M277.41,107.19h5.89M277.41,110.68h5.89M281.03,109.60V112.94M277.59,109.60h6.87M277.59,112.94h6.87M281.70,107.07V111.25M278.90,107.07h5.60M278.90,111.25h5.60M282.37,108.75V112.34M280.07,108.75h4.60M280.07,112.34h4.60M283.04,108.95V112.95M281.24,108.95h3.59M281.24,112.95h3.59M283.71,107.91V111.86M281.53,107.91h4.36M281.53,111.86h4.36M284.38,108.88V112.66M282.14,108.88h4.48M282.14,112.66h4.48M285.05,109.44V113.95M283.15,109.44h3.81M283.15,113.95h3.81M285.72,108.96V112.72M283.84,108.96h3.76M283.84,112.72h3.76M286.39,108.50V112.00M283.91,108.50h4.96M283.91,112.00h4.96M287.06,106.37V111.09M283.48,106.37h7.15M283.48,111.09h7.15M287.73,108.24V112.52M285.26,108.24h4.94M285.26,112.52h4.94M288.40,108.34V113.23M285.68,108.34h5.43M285.68,113.23h5.43M289.07,108.70V113.19M286.08,108.70h5.99M286.08,113.19h5.99M289.74,108.77V112.62M286.31,108.77h6.86M286.31,112.62h6.86M290.41,109.85V113.76M287.69,109.85h5.45M287.69,113.76h5.45M291.08,108.47V113.61M288.32,108.47h5.52M288.32,113.61h5.52M291.75,109.28V113.54M288.58,109.28h6.34M288.58,113.54h6.34M292.42,109.49V114.59M289.50,109.49h5.83M289.50,114.59h5.83M293.09,108.90V112.73M289.57,108.90h7.04M289.57,112.73h7.04M293.76,109.37V113.15M290.70,109.37h6.12M290.70,113.15h6.12M294.43,110.68V115.78M292.57,110.68h3.72M292.57,115.78h3.72M295.10,109.93V114.47M291.98,109.93h6.24M291.98,114.47h6.24M295.77,108.46V112.47M293.71,108.46h4.13M293.71,112.47h4.13M296.44,109.51V113.36M294.57,109.51h3.73M294.57,113.36h3.73M297.11,109.99V113.92M294.94,109.99h4.34M294.94,113.92h4.34M297.78,110.05V114.92M294.68,110.05h6.19M294.68,114.92h6.19M298.45,109.17V114.07M295.43,109.17h6.03M295.43,114.07h6.03M299.12,108.60V113.55M297.28,108.60h3.69M297.28,113.55h3.69M299.79,108.62V113.21M298.24,108.62h3.10M298.24,113.21h3.10M300.46,109.77V114.26M297.02,109.77h6.88M297.02,114.26h6.88M301.13,109.52V113.98M298.95,109.52h4.36M298.95,113.98h4.36M301.80,109.01V113.17M299.39,109.01h4.81M299.39,113.17h4.81M302.47,108.79V113.91M298.73,108.79h7.48M298.73,113.91h7.48M303.14,108.73V113.60M299.37,108.73h7.54M299.37,113.60h7.54M303.81,109.63V114.53M301.66,109.63h4.31M301.66,114.53h4.31M304.48,108.75V113.15M301.32,108.75h6.33M301.32,113.15h6.33M305.15,109.48V114.30M302.09,109.48h6.12M302.09,114.30h6.12M305.82,109.94V114.42M303.99,109.94h3.66M303.99,114.42h3.66M306.49,109.29V114.48M304.48,109.29h4.01M304.48,114.48h4.01M307.16,108.22V113.44M305.37,108.22h3.59M305.37,113.44h3.59M307.83,109.97V115.19M305.46,109.97h4.73M305.46,115.19h4.73M308.50,108.47V113.44M306.98,108.47h3.03M306.98,113.44h3.03M309.17,109.63V114.05M307.10,109.63h4.15M307.10,114.05h4.15M309.84,108.50V113.29M306.82,108.50h6.05M306.82,113.29h6.05M310.51,107.82V112.26M307.38,107.82h6.25M307.38,112.26h6.25M311.18,108.92V114.14M309.47,108.92h3.43M309.47,114.14h3.43M311.85,109.20V113.80M308.80,109.20h6.11M308.80,113.80h6.11M312.52,108.77V113.47M310.42,108.77h4.21M310.42,113.47h4.21M313.19,108.79V113.85M311.13,108.79h4.13M311.13,113.85h4.13M313.86,107.99V113.01M311.28,107.99h5.17M311.28,113.01h5.17M314.53,108.36V112.33M311.13,108.36h6.79M311.13,112.33h6.79M315.20,108.78V112.65M311.87,108.78h6.66M311.87,112.65h6.66M315.87,109.97V114.62M312.35,109.97h7.03M312.35,114.62h7.03M316.54,108.86V113.81M314.12,108.86h4.85M314.12,113.81h4.85M317.21,108.21V112.16M315.10,108.21h4.22M315.10,112.16h4.22M317.88,109.09V112.84M314.88,109.09h6.01M314.88,112.84h6.01M318.55,107.74V111.83M316.64,107.74h3.82M316.64,111.83h3.82M319.22,107.09V111.71M316.79,107.09h4.87M316.79,111.71h4.87M319.89,107.21V112.90M317.37,107.21h5.04M317.37,112.90h5.04M320.56,104.44V110.35M318.85,104.44h3.43M318.85,110.35h3.43M321.23,101.62V107.78M319.25,101.62h3.95M319.25,107.78h3.95M321.90,99.70V107.38M320.36,99.70h3.08M320.36,107.38h3.08M322.57,96.41V106.03M319.46,96.41h6.21M319.46,106.03h6.21M323.24,92.06V103.74M321.64,92.06h3.20M321.64,103.74h3.20M323.91,88.99V101.90M321.86,88.99h4.09M321.86,101.90h4.09M324.58,83.57V96.61M322.47,83.57h4.21M322.47,96.61h4.21M325.25,79.39V95.41M321.93,79.39h6.64M321.93,95.41h6.64M325.92,75.65V90.95M322.78,75.65h6.28M322.78,90.95h6.28M326.59,75.07V87.63M322.92,75.07h7.33M322.92,87.63h7.33M327.26,74.53V87.40M325.33,74.53h3.85M325.33,87.40h3.85M327.93,72.72V86.32M325.83,72.72h4.19M325.83,86.32h4.19M328.60,71.33V84.69M325.40,71.33h6.41M325.40,84.69h6.41M329.27,73.89V84.55M326.71,73.89h5.11M326.71,84.55h5.11M329.94,71.24V82.87M326.90,71.24h6.07M326.90,82.87h6.07M330.61,72.63V84.08M328.62,72.63h3.99M328.62,84.08h3.99M331.28,73.02V84.27M328.18,73.02h6.20M328.18,84.27h6.20M331.95,73.13V85.50M328.80,73.13h6.30M328.80,85.50h6.30M332.62,70.20V84.16M330.30,70.20h4.64M330.30,84.16h4.64M333.29,70.43V82.35M330.22,70.43h6.13M330.22,82.35h6.13M333.96,68.13V81.80M331.16,68.13h5.60M331.16,81.80h5.60M334.63,66.80V80.39M332.79,66.80h3.67M332.79,80.39h3.67M335.30,61.66V77.97M332.26,61.66h6.08M332.26,77.97h6.08M335.97,60.33V75.99M332.69,60.33h6.56M332.69,75.99h6.56M336.64,57.73V79.13M333.59,57.73h6.09M333.59,79.13h6.09M337.31,57.25V79.30M335.26,57.25h4.10M335.26,79.30h4.10M337.98,62.78V81.47M335.72,62.78h4.51M335.72,81.47h4.51M338.65,61.21V80.63M336.19,61.21h4.92M336.19,80.63h4.92M339.32,58.40V83.18M337.17,58.40h4.29M337.17,83.18h4.29M339.99,61.03V87.19M337.45,61.03h5.08M337.45,87.19h5.08M340.66,65.00V85.23M337.68,65.00h5.95M337.68,85.23h5.95M341.33,68.41V90.16M339.07,68.41h4.52M339.07,90.16h4.52M342.00,71.83V93.55M338.22,71.83h7.56M338.22,93.55h7.56M342.67,72.44V94.54M340.49,72.44h4.35M340.49,94.54h4.35M343.34,74.71V96.64M341.42,74.71h3.85M341.42,96.64h3.85M344.01,78.88V96.31M341.65,78.88h4.71M341.65,96.31h4.71M344.68,80.19V99.68M343.17,80.19h3.02M343.17,99.68h3.02M345.35,82.58V98.92M342.68,82.58h5.34M342.68,98.92h5.34M346.02,86.68V99.42M343.04,86.68h5.95M343.04,99.42h5.95M346.69,87.60V102.93M343.43,87.60h6.53M343.43,102.93h6.53M347.36,91.79V103.32M344.03,91.79h6.66M344.03,103.32h6.66M348.03,92.43V104.70M344.57,92.43h6.92M344.57,104.70h6.92" stroke="#1d2f3f" stroke-width="1.0" stroke-opacity="0.85" fill="none"/></g>
<path d="M227.80,41.90h1.6M348.50,41.90h-1.6M227.80,61.60h1.6M348.50,61.60h-1.6M227.80,81.30h1.6M348.50,81.30h-1.6M227.80,101.10h1.6M348.50,101.10h-1.6M288.15,120.85v-1.6M288.15,39.10v1.6" stroke="#262626" stroke-width="1"/>
<rect x="227.80" y="39.10" width="120.70" height="81.75" fill="none" stroke="#262626" stroke-width="1.80"/>
<g transform="translate(224.42,137.70) scale(1.1111,1)" fill="#262626" ><text x="0.00" y="0.00" font-size="13.00" font-weight="normal" font-style="normal">0</text><text x="6.50" y="0.00" font-size="13.00" font-weight="normal" font-style="normal">°</text></g>
<g transform="translate(281.61,137.70) scale(0.9907,1)" fill="#262626" ><text x="0.00" y="0.00" font-size="13.00" font-weight="normal" font-style="normal">90</text><text x="13.00" y="0.00" font-size="13.00" font-weight="normal" font-style="normal">°</text></g>
<g transform="translate(337.90,137.70) scale(1.0271,1)" fill="#262626" ><text x="0.00" y="0.00" font-size="13.00" font-weight="normal" font-style="normal">180</text><text x="19.50" y="0.00" font-size="13.00" font-weight="normal" font-style="normal">°</text></g>
<g transform="translate(212.0,106.9) rotate(-90)" fill="#262626"><text font-size="13.6" textLength="53.6" lengthAdjust="spacingAndGlyphs">intensity</text></g>
<line x1="457.75" y1="39.30" x2="457.75" y2="120.80" stroke="#dcdcdc" stroke-width="1.6"/>
<line x1="396.50" y1="80.05" x2="519.00" y2="80.05" stroke="#dcdcdc" stroke-width="1.6"/>
<clipPath id="c396_39"><rect x="396.50" y="39.30" width="122.50" height="81.50"/></clipPath>
<g clip-path="url(#c396_39)"><path d="M396.84,114.34v8M393.44,118.34h6.8M397.52,114.32v8M394.12,118.32h6.8M398.20,114.28v8M394.80,118.28h6.8M398.88,114.23v8M395.48,118.23h6.8M399.56,114.17v8M396.16,118.17h6.8M400.24,114.09v8M396.84,118.09h6.8M400.92,114.01v8M397.52,118.01h6.8M401.60,113.91v8M398.20,117.91h6.8M402.28,113.81v8M398.88,117.81h6.8M402.97,113.70v8M399.57,117.70h6.8M403.65,113.56v8M400.25,117.56h6.8M404.33,113.40v8M400.93,117.40h6.8M405.01,113.21v8M401.61,117.21h6.8M405.69,112.98v8M402.29,116.98h6.8M406.37,112.71v8M402.97,116.71h6.8M407.05,112.39v8M403.65,116.39h6.8M407.73,112.04v8M404.33,116.04h6.8M408.41,111.66v8M405.01,115.66h6.8M409.09,111.26v8M405.69,115.26h6.8M409.77,110.87v8M406.37,114.87h6.8M410.45,110.47v8M407.05,114.47h6.8M411.13,110.05v8M407.73,114.05h6.8M411.81,109.59v8M408.41,113.59h6.8M412.49,109.08v8M409.09,113.08h6.8M413.17,108.49v8M409.77,112.49h6.8M413.85,107.81v8M410.45,111.81h6.8M414.53,107.01v8M411.13,111.01h6.8M415.22,106.10v8M411.82,110.10h6.8M415.90,105.07v8M412.50,109.07h6.8M416.58,103.90v8M413.18,107.90h6.8M417.26,102.61v8M413.86,106.61h6.8M417.94,101.21v8M414.54,105.21h6.8M418.62,99.75v8M415.22,103.75h6.8M419.30,98.26v8M415.90,102.26h6.8M419.98,96.75v8M416.58,100.75h6.8M420.66,95.26v8M417.26,99.26h6.8M421.34,93.81v8M417.94,97.81h6.8M422.02,92.45v8M418.62,96.45h6.8M422.70,91.17v8M419.30,95.17h6.8M423.38,89.97v8M419.98,93.97h6.8M424.06,88.83v8M420.66,92.83h6.8M424.74,87.76v8M421.34,91.76h6.8M425.42,86.74v8M422.02,90.74h6.8M426.10,85.77v8M422.70,89.77h6.8M426.78,84.85v8M423.38,88.85h6.8M427.47,83.97v8M424.07,87.97h6.8M428.15,83.14v8M424.75,87.14h6.8M428.83,82.36v8M425.43,86.36h6.8M429.51,81.65v8M426.11,85.65h6.8M430.19,80.99v8M426.79,84.99h6.8M430.87,80.38v8M427.47,84.38h6.8M431.55,79.82v8M428.15,83.82h6.8M432.23,79.30v8M428.83,83.30h6.8M432.91,78.81v8M429.51,82.81h6.8M433.59,78.37v8M430.19,82.37h6.8M434.27,77.97v8M430.87,81.97h6.8M434.95,77.62v8M431.55,81.62h6.8M435.63,77.31v8M432.23,81.31h6.8M436.31,77.04v8M432.91,81.04h6.8M436.99,76.79v8M433.59,80.79h6.8M437.67,76.57v8M434.27,80.57h6.8M438.35,76.36v8M434.95,80.36h6.8M439.03,76.16v8M435.63,80.16h6.8M439.72,75.97v8M436.32,79.97h6.8M440.40,75.78v8M437.00,79.78h6.8M441.08,75.60v8M437.68,79.60h6.8M441.76,75.42v8M438.36,79.42h6.8M442.44,75.25v8M439.04,79.25h6.8M443.12,75.08v8M439.72,79.08h6.8M443.80,74.91v8M440.40,78.91h6.8M444.48,74.75v8M441.08,78.75h6.8M445.16,74.60v8M441.76,78.60h6.8M445.84,74.45v8M442.44,78.45h6.8M446.52,74.30v8M443.12,78.30h6.8M447.20,74.16v8M443.80,78.16h6.8M447.88,74.02v8M444.48,78.02h6.8M448.56,73.88v8M445.16,77.88h6.8M449.24,73.75v8M445.84,77.75h6.8M449.92,73.62v8M446.52,77.62h6.8M450.60,73.50v8M447.20,77.50h6.8M451.28,73.38v8M447.88,77.38h6.8M451.97,73.27v8M448.57,77.27h6.8M452.65,73.16v8M449.25,77.16h6.8M453.33,73.06v8M449.93,77.06h6.8M454.01,72.96v8M450.61,76.96h6.8M454.69,72.85v8M451.29,76.85h6.8M455.37,72.75v8M451.97,76.75h6.8M456.05,72.65v8M452.65,76.65h6.8M456.73,72.54v8M453.33,76.54h6.8M457.41,72.44v8M454.01,76.44h6.8M458.09,72.33v8M454.69,76.33h6.8M458.77,72.22v8M455.37,76.22h6.8M459.45,72.11v8M456.05,76.11h6.8M460.13,72.00v8M456.73,76.00h6.8M460.81,71.89v8M457.41,75.89h6.8M461.49,71.78v8M458.09,75.78h6.8M462.17,71.67v8M458.77,75.67h6.8M462.85,71.56v8M459.45,75.56h6.8M463.53,71.45v8M460.13,75.45h6.8M464.22,71.33v8M460.82,75.33h6.8M464.90,71.22v8M461.50,75.22h6.8M465.58,71.10v8M462.18,75.10h6.8M466.26,70.99v8M462.86,74.99h6.8M466.94,70.86v8M463.54,74.86h6.8M467.62,70.74v8M464.22,74.74h6.8M468.30,70.61v8M464.90,74.61h6.8M468.98,70.48v8M465.58,74.48h6.8M469.66,70.35v8M466.26,74.35h6.8M470.34,70.21v8M466.94,74.21h6.8M471.02,70.06v8M467.62,74.06h6.8M471.70,69.91v8M468.30,73.91h6.8M472.38,69.75v8M468.98,73.75h6.8M473.06,69.58v8M469.66,73.58h6.8M473.74,69.41v8M470.34,73.41h6.8M474.42,69.22v8M471.02,73.22h6.8M475.10,69.02v8M471.70,73.02h6.8M475.78,68.82v8M472.38,72.82h6.8M476.47,68.61v8M473.07,72.61h6.8M477.15,68.40v8M473.75,72.40h6.8M477.83,68.18v8M474.43,72.18h6.8M478.51,67.97v8M475.11,71.97h6.8M479.19,67.75v8M475.79,71.75h6.8M479.87,67.54v8M476.47,71.54h6.8M480.55,67.32v8M477.15,71.32h6.8M481.23,67.11v8M477.83,71.11h6.8M481.91,66.90v8M478.51,70.90h6.8M482.59,66.68v8M479.19,70.68h6.8M483.27,66.47v8M479.87,70.47h6.8M483.95,66.25v8M480.55,70.25h6.8M484.63,66.02v8M481.23,70.02h6.8M485.31,65.79v8M481.91,69.79h6.8M485.99,65.55v8M482.59,69.55h6.8M486.67,65.30v8M483.27,69.30h6.8M487.35,65.04v8M483.95,69.04h6.8M488.03,64.77v8M484.63,68.77h6.8M488.72,64.49v8M485.32,68.49h6.8M489.40,64.21v8M486.00,68.21h6.8M490.08,63.91v8M486.68,67.91h6.8M490.76,63.59v8M487.36,67.59h6.8M491.44,63.26v8M488.04,67.26h6.8M492.12,62.90v8M488.72,66.90h6.8M492.80,62.50v8M489.40,66.50h6.8M493.48,62.06v8M490.08,66.06h6.8M494.16,61.55v8M490.76,65.55h6.8M494.84,60.96v8M491.44,64.96h6.8M495.52,60.29v8M492.12,64.29h6.8M496.20,59.55v8M492.80,63.55h6.8M496.88,58.76v8M493.48,62.76h6.8M497.56,57.95v8M494.16,61.95h6.8M498.24,57.11v8M494.84,61.11h6.8M498.92,56.25v8M495.52,60.25h6.8M499.60,55.36v8M496.20,59.36h6.8M500.28,54.44v8M496.88,58.44h6.8M500.97,53.52v8M497.57,57.52h6.8M501.65,52.62v8M498.25,56.62h6.8M502.33,51.74v8M498.93,55.74h6.8M503.01,50.90v8M499.61,54.90h6.8M503.69,50.10v8M500.29,54.10h6.8M504.37,49.33v8M500.97,53.33h6.8M505.05,48.57v8M501.65,52.57h6.8M505.73,47.84v8M502.33,51.84h6.8M506.41,47.12v8M503.01,51.12h6.8M507.09,46.41v8M503.69,50.41h6.8M507.77,45.70v8M504.37,49.70h6.8M508.45,44.99v8M505.05,48.99h6.8M509.13,44.29v8M505.73,48.29h6.8M509.81,43.59v8M506.41,47.59h6.8M510.49,42.90v8M507.09,46.90h6.8M511.17,42.24v8M507.77,46.24h6.8M511.85,41.59v8M508.45,45.59h6.8M512.53,40.98v8M509.13,44.98h6.8M513.22,40.41v8M509.82,44.41h6.8M513.90,39.87v8M510.50,43.87h6.8M514.58,39.36v8M511.18,43.36h6.8M515.26,38.87v8M511.86,42.87h6.8M515.94,38.39v8M512.54,42.39h6.8M516.62,37.91v8M513.22,41.91h6.8M517.30,37.42v8M513.90,41.42h6.8M517.98,36.95v8M514.58,40.95h6.8M518.66,36.56v8M515.26,40.56h6.8" stroke="#1d2f3f" stroke-width="1.5" fill="none"/><line x1="396.50" y1="118.90" x2="519.00" y2="40.30" stroke="#e8604c" stroke-width="3.0"/></g>
<path d="M396.50,80.05h1.6M519.00,80.05h-1.6M457.75,120.80v-1.6M457.75,39.30v1.6" stroke="#262626" stroke-width="1"/>
<rect x="396.50" y="39.30" width="122.50" height="81.50" fill="none" stroke="#262626" stroke-width="1.90"/>
<g transform="translate(387.49,43.90) scale(0.9451,1)" fill="#262626" ><text x="0.00" y="0.00" font-size="13.00" font-weight="normal" font-style="normal">1</text></g>
<g transform="translate(383.18,84.55) scale(1.0853,1)" fill="#262626" ><text x="0.00" y="0.00" font-size="13.00" font-weight="normal" font-style="normal">.5</text></g>
<g transform="translate(385.97,124.80) scale(1.2088,1)" fill="#262626" ><text x="0.00" y="0.00" font-size="13.00" font-weight="normal" font-style="normal">0</text></g>
<g transform="translate(392.64,137.80) scale(1.0826,1)" fill="#262626" ><text x="0.00" y="0.00" font-size="13.00" font-weight="normal" font-style="normal">0</text><text x="6.50" y="0.00" font-size="13.00" font-weight="normal" font-style="normal">°</text></g>
<g transform="translate(449.74,137.80) scale(1.0490,1)" fill="#262626" ><text x="0.00" y="0.00" font-size="13.00" font-weight="normal" font-style="normal">90</text><text x="13.00" y="0.00" font-size="13.00" font-weight="normal" font-style="normal">°</text></g>
<g transform="translate(506.58,137.80) scale(1.0446,1)" fill="#262626" ><text x="0.00" y="0.00" font-size="13.00" font-weight="normal" font-style="normal">180</text><text x="19.50" y="0.00" font-size="13.00" font-weight="normal" font-style="normal">°</text></g>
<line x1="126.10" y1="190.90" x2="126.10" y2="272.40" stroke="#dcdcdc" stroke-width="1.6"/>
<line x1="64.90" y1="231.65" x2="187.30" y2="231.65" stroke="#dcdcdc" stroke-width="1.6"/>
<clipPath id="c64_190"><rect x="64.90" y="190.90" width="122.40" height="81.50"/></clipPath>
<g clip-path="url(#c64_190)"><path d="M65.24,265.94v8M61.84,269.94h6.8M65.92,265.92v8M62.52,269.92h6.8M66.60,265.88v8M63.20,269.88h6.8M67.28,265.83v8M63.88,269.83h6.8M67.96,265.77v8M64.56,269.77h6.8M68.64,265.69v8M65.24,269.69h6.8M69.32,265.61v8M65.92,269.61h6.8M70.00,265.51v8M66.60,269.51h6.8M70.68,265.41v8M67.28,269.41h6.8M71.36,265.30v8M67.96,269.30h6.8M72.04,265.16v8M68.64,269.16h6.8M72.72,265.00v8M69.32,269.00h6.8M73.40,264.81v8M70.00,268.81h6.8M74.08,264.58v8M70.68,268.58h6.8M74.76,264.31v8M71.36,268.31h6.8M75.44,263.99v8M72.04,267.99h6.8M76.12,263.64v8M72.72,267.64h6.8M76.80,263.26v8M73.40,267.26h6.8M77.48,262.86v8M74.08,266.86h6.8M78.16,262.47v8M74.76,266.47h6.8M78.84,262.07v8M75.44,266.07h6.8M79.52,261.65v8M76.12,265.65h6.8M80.20,261.19v8M76.80,265.19h6.8M80.88,260.68v8M77.48,264.68h6.8M81.56,260.09v8M78.16,264.09h6.8M82.24,259.41v8M78.84,263.41h6.8M82.92,258.61v8M79.52,262.61h6.8M83.60,257.70v8M80.20,261.70h6.8M84.28,256.67v8M80.88,260.67h6.8M84.96,255.50v8M81.56,259.50h6.8M85.64,254.21v8M82.24,258.21h6.8M86.32,252.81v8M82.92,256.81h6.8M87.00,251.35v8M83.60,255.35h6.8M87.68,249.86v8M84.28,253.86h6.8M88.36,248.35v8M84.96,252.35h6.8M89.04,246.86v8M85.64,250.86h6.8M89.72,245.41v8M86.32,249.41h6.8M90.40,244.05v8M87.00,248.05h6.8M91.08,242.77v8M87.68,246.77h6.8M91.76,241.57v8M88.36,245.57h6.8M92.44,240.43v8M89.04,244.43h6.8M93.12,239.36v8M89.72,243.36h6.8M93.80,238.34v8M90.40,242.34h6.8M94.48,237.37v8M91.08,241.37h6.8M95.16,236.45v8M91.76,240.45h6.8M95.84,235.57v8M92.44,239.57h6.8M96.52,234.74v8M93.12,238.74h6.8M97.20,233.96v8M93.80,237.96h6.8M97.88,233.25v8M94.48,237.25h6.8M98.56,232.59v8M95.16,236.59h6.8M99.24,231.98v8M95.84,235.98h6.8M99.92,231.42v8M96.52,235.42h6.8M100.60,230.90v8M97.20,234.90h6.8M101.28,230.41v8M97.88,234.41h6.8M101.96,229.97v8M98.56,233.97h6.8M102.64,229.57v8M99.24,233.57h6.8M103.32,229.22v8M99.92,233.22h6.8M104.00,228.91v8M100.60,232.91h6.8M104.68,228.64v8M101.28,232.64h6.8M105.36,228.39v8M101.96,232.39h6.8M106.04,228.17v8M102.64,232.17h6.8M106.72,227.96v8M103.32,231.96h6.8M107.40,227.76v8M104.00,231.76h6.8M108.08,227.57v8M104.68,231.57h6.8M108.76,227.38v8M105.36,231.38h6.8M109.44,227.20v8M106.04,231.20h6.8M110.12,227.02v8M106.72,231.02h6.8M110.80,226.85v8M107.40,230.85h6.8M111.48,226.68v8M108.08,230.68h6.8M112.16,226.51v8M108.76,230.51h6.8M112.84,226.35v8M109.44,230.35h6.8M113.52,226.20v8M110.12,230.20h6.8M114.20,226.05v8M110.80,230.05h6.8M114.88,225.90v8M111.48,229.90h6.8M115.56,225.76v8M112.16,229.76h6.8M116.24,225.62v8M112.84,229.62h6.8M116.92,225.48v8M113.52,229.48h6.8M117.60,225.35v8M114.20,229.35h6.8M118.28,225.22v8M114.88,229.22h6.8M118.96,225.10v8M115.56,229.10h6.8M119.64,224.98v8M116.24,228.98h6.8M120.32,224.87v8M116.92,228.87h6.8M121.00,224.76v8M117.60,228.76h6.8M121.68,224.66v8M118.28,228.66h6.8M122.36,224.56v8M118.96,228.56h6.8M123.04,224.45v8M119.64,228.45h6.8M123.72,224.35v8M120.32,228.35h6.8M124.40,224.25v8M121.00,228.25h6.8M125.08,224.14v8M121.68,228.14h6.8M125.76,224.04v8M122.36,228.04h6.8M126.44,223.93v8M123.04,227.93h6.8M127.12,223.82v8M123.72,227.82h6.8M127.80,223.71v8M124.40,227.71h6.8M128.48,223.60v8M125.08,227.60h6.8M129.16,223.49v8M125.76,227.49h6.8M129.84,223.38v8M126.44,227.38h6.8M130.52,223.27v8M127.12,227.27h6.8M131.20,223.16v8M127.80,227.16h6.8M131.88,223.05v8M128.48,227.05h6.8M132.56,222.93v8M129.16,226.93h6.8M133.24,222.82v8M129.84,226.82h6.8M133.92,222.70v8M130.52,226.70h6.8M134.60,222.59v8M131.20,226.59h6.8M135.28,222.46v8M131.88,226.46h6.8M135.96,222.34v8M132.56,226.34h6.8M136.64,222.21v8M133.24,226.21h6.8M137.32,222.08v8M133.92,226.08h6.8M138.00,221.95v8M134.60,225.95h6.8M138.68,221.81v8M135.28,225.81h6.8M139.36,221.66v8M135.96,225.66h6.8M140.04,221.51v8M136.64,225.51h6.8M140.72,221.35v8M137.32,225.35h6.8M141.40,221.18v8M138.00,225.18h6.8M142.08,221.01v8M138.68,225.01h6.8M142.76,220.82v8M139.36,224.82h6.8M143.44,220.62v8M140.04,224.62h6.8M144.12,220.42v8M140.72,224.42h6.8M144.80,220.21v8M141.40,224.21h6.8M145.48,220.00v8M142.08,224.00h6.8M146.16,219.78v8M142.76,223.78h6.8M146.84,219.57v8M143.44,223.57h6.8M147.52,219.35v8M144.12,223.35h6.8M148.20,219.14v8M144.80,223.14h6.8M148.88,218.92v8M145.48,222.92h6.8M149.56,218.71v8M146.16,222.71h6.8M150.24,218.50v8M146.84,222.50h6.8M150.92,218.28v8M147.52,222.28h6.8M151.60,218.07v8M148.20,222.07h6.8M152.28,217.85v8M148.88,221.85h6.8M152.96,217.62v8M149.56,221.62h6.8M153.64,217.39v8M150.24,221.39h6.8M154.32,217.15v8M150.92,221.15h6.8M155.00,216.90v8M151.60,220.90h6.8M155.68,216.64v8M152.28,220.64h6.8M156.36,216.37v8M152.96,220.37h6.8M157.04,216.09v8M153.64,220.09h6.8M157.72,215.81v8M154.32,219.81h6.8M158.40,215.51v8M155.00,219.51h6.8M159.08,215.19v8M155.68,219.19h6.8M159.76,214.86v8M156.36,218.86h6.8M160.44,214.50v8M157.04,218.50h6.8M161.12,214.10v8M157.72,218.10h6.8M161.80,213.66v8M158.40,217.66h6.8M162.48,213.15v8M159.08,217.15h6.8M163.16,212.56v8M159.76,216.56h6.8M163.84,211.89v8M160.44,215.89h6.8M164.52,211.15v8M161.12,215.15h6.8M165.20,210.36v8M161.80,214.36h6.8M165.88,209.55v8M162.48,213.55h6.8M166.56,208.71v8M163.16,212.71h6.8M167.24,207.85v8M163.84,211.85h6.8M167.92,206.96v8M164.52,210.96h6.8M168.60,206.04v8M165.20,210.04h6.8M169.28,205.12v8M165.88,209.12h6.8M169.96,204.22v8M166.56,208.22h6.8M170.64,203.34v8M167.24,207.34h6.8M171.32,202.50v8M167.92,206.50h6.8M172.00,201.70v8M168.60,205.70h6.8M172.68,200.93v8M169.28,204.93h6.8M173.36,200.17v8M169.96,204.17h6.8M174.04,199.44v8M170.64,203.44h6.8M174.72,198.72v8M171.32,202.72h6.8M175.40,198.01v8M172.00,202.01h6.8M176.08,197.30v8M172.68,201.30h6.8M176.76,196.59v8M173.36,200.59h6.8M177.44,195.89v8M174.04,199.89h6.8M178.12,195.19v8M174.72,199.19h6.8M178.80,194.50v8M175.40,198.50h6.8M179.48,193.84v8M176.08,197.84h6.8M180.16,193.19v8M176.76,197.19h6.8M180.84,192.58v8M177.44,196.58h6.8M181.52,192.01v8M178.12,196.01h6.8M182.20,191.47v8M178.80,195.47h6.8M182.88,190.96v8M179.48,194.96h6.8M183.56,190.47v8M180.16,194.47h6.8M184.24,189.99v8M180.84,193.99h6.8M184.92,189.51v8M181.52,193.51h6.8M185.60,189.02v8M182.20,193.02h6.8M186.28,188.55v8M182.88,192.55h6.8M186.96,188.16v8M183.56,192.16h6.8" stroke="#1d2f3f" stroke-width="1.5" fill="none"/><polyline points="64.50,271.12 65.00,270.72 65.50,270.27 66.00,269.77 66.50,269.22 67.00,268.65 67.50,268.07 68.00,267.48 68.50,266.89 69.00,266.30 69.50,265.71 70.00,265.13 70.50,264.55 71.00,263.98 71.50,263.41 72.00,262.84 72.50,262.28 73.00,261.72 73.50,261.16 74.00,260.61 74.50,260.06 75.00,259.51 75.50,258.98 76.00,258.45 76.50,257.93 77.00,257.42 77.50,256.92 78.00,256.43 78.50,255.94 79.00,255.46 79.50,254.98 80.00,254.51 80.50,254.04 81.00,253.58 81.50,253.13 82.00,252.67 82.50,252.23 83.00,251.79 83.50,251.35 84.00,250.92 84.50,250.50 85.00,250.07 85.50,249.66 86.00,249.25 86.50,248.84 87.00,248.44 87.50,248.04 88.00,247.66 88.50,247.28 89.00,246.91 89.50,246.54 90.00,246.18 90.50,245.83 91.00,245.48 91.50,245.14 92.00,244.80 92.50,244.48 93.00,244.16 93.50,243.85 94.00,243.55 94.50,243.27 95.00,242.99 95.50,242.71 96.00,242.45 96.50,242.18 97.00,241.93 97.50,241.67 98.00,241.41 98.50,241.16 99.00,240.91 99.50,240.66 100.00,240.40 100.50,240.15 101.00,239.90 101.50,239.65 102.00,239.41 102.50,239.16 103.00,238.92 103.50,238.68 104.00,238.44 104.50,238.21 105.00,237.98 105.50,237.76 106.00,237.55 106.50,237.34 107.00,237.13 107.50,236.92 108.00,236.72 108.50,236.52 109.00,236.33 109.50,236.13 110.00,235.93 110.50,235.74 111.00,235.55 111.50,235.35 112.00,235.16 112.50,234.98 113.00,234.79 113.50,234.60 114.00,234.42 114.50,234.24 115.00,234.05 115.50,233.87 116.00,233.69 116.50,233.51 117.00,233.33 117.50,233.15 118.00,232.97 118.50,232.80 119.00,232.62 119.50,232.44 120.00,232.26 120.50,232.09 121.00,231.91 121.50,231.74 122.00,231.56 122.50,231.39 123.00,231.22 123.50,231.05 124.00,230.87 124.50,230.71 125.00,230.54 125.50,230.37 126.00,230.21 126.50,230.05 127.00,229.90 127.50,229.75 128.00,229.60 128.50,229.45 129.00,229.31 129.50,229.16 130.00,229.02 130.50,228.88 131.00,228.74 131.50,228.60 132.00,228.46 132.50,228.33 133.00,228.19 133.50,228.05 134.00,227.91 134.50,227.77 135.00,227.63 135.50,227.49 136.00,227.34 136.50,227.20 137.00,227.05 137.50,226.90 138.00,226.74 138.50,226.59 139.00,226.43 139.50,226.27 140.00,226.11 140.50,225.94 141.00,225.78 141.50,225.61 142.00,225.45 142.50,225.28 143.00,225.11 143.50,224.94 144.00,224.77 144.50,224.59 145.00,224.41 145.50,224.22 146.00,224.02 146.50,223.82 147.00,223.61 147.50,223.40 148.00,223.19 148.50,222.97 149.00,222.74 149.50,222.52 150.00,222.29 150.50,222.06 151.00,221.83 151.50,221.60 152.00,221.37 152.50,221.12 153.00,220.88 153.50,220.62 154.00,220.35 154.50,220.08 155.00,219.79 155.50,219.50 156.00,219.19 156.50,218.88 157.00,218.56 157.50,218.23 158.00,217.89 158.50,217.55 159.00,217.20 159.50,216.83 160.00,216.45 160.50,216.06 161.00,215.65 161.50,215.22 162.00,214.78 162.50,214.32 163.00,213.85 163.50,213.37 164.00,212.88 164.50,212.39 165.00,211.90 165.50,211.40 166.00,210.90 166.50,210.40 167.00,209.90 167.50,209.40 168.00,208.90 168.50,208.40 169.00,207.90 169.50,207.40 170.00,206.90 170.50,206.40 171.00,205.90 171.50,205.40 172.00,204.90 172.50,204.40 173.00,203.90 173.50,203.40 174.00,202.90 174.50,202.40 175.00,201.90 175.50,201.40 176.00,200.90 176.50,200.40 177.00,199.91 177.50,199.41 178.00,198.93 178.50,198.44 179.00,197.96 179.50,197.49 180.00,197.03 180.50,196.58 181.00,196.14 181.50,195.70 182.00,195.28 182.50,194.86 183.00,194.45 183.50,194.04 184.00,193.64 184.50,193.25 185.00,192.88 185.50,192.51 186.00,192.17 186.50,191.85 187.00,191.57 187.50,191.32 188.00,191.10" fill="none" stroke="#e8604c" stroke-width="3.0" stroke-linejoin="round"/></g>
<path d="M64.90,231.65h1.6M187.30,231.65h-1.6M126.10,272.40v-1.6M126.10,190.90v1.6" stroke="#262626" stroke-width="1"/>
<rect x="64.90" y="190.90" width="122.40" height="81.50" fill="none" stroke="#262626" stroke-width="1.90"/>
<g transform="translate(55.89,195.50) scale(0.9451,1)" fill="#262626" ><text x="0.00" y="0.00" font-size="13.00" font-weight="normal" font-style="normal">1</text></g>
<g transform="translate(51.58,236.15) scale(1.0853,1)" fill="#262626" ><text x="0.00" y="0.00" font-size="13.00" font-weight="normal" font-style="normal">.5</text></g>
<g transform="translate(54.37,276.40) scale(1.2088,1)" fill="#262626" ><text x="0.00" y="0.00" font-size="13.00" font-weight="normal" font-style="normal">0</text></g>
<g transform="translate(61.04,289.40) scale(1.0826,1)" fill="#262626" ><text x="0.00" y="0.00" font-size="13.00" font-weight="normal" font-style="normal">0</text><text x="6.50" y="0.00" font-size="13.00" font-weight="normal" font-style="normal">°</text></g>
<g transform="translate(118.09,289.40) scale(1.0490,1)" fill="#262626" ><text x="0.00" y="0.00" font-size="13.00" font-weight="normal" font-style="normal">90</text><text x="13.00" y="0.00" font-size="13.00" font-weight="normal" font-style="normal">°</text></g>
<g transform="translate(174.88,289.40) scale(1.0446,1)" fill="#262626" ><text x="0.00" y="0.00" font-size="13.00" font-weight="normal" font-style="normal">180</text><text x="19.50" y="0.00" font-size="13.00" font-weight="normal" font-style="normal">°</text></g>
<line x1="287.35" y1="190.95" x2="287.35" y2="272.30" stroke="#dcdcdc" stroke-width="1.6"/>
<line x1="225.80" y1="204.33" x2="348.90" y2="204.33" stroke="#dcdcdc" stroke-width="1.6"/>
<line x1="225.80" y1="259.53" x2="348.90" y2="259.53" stroke="#dcdcdc" stroke-width="1.6"/>
<clipPath id="r225_190"><rect x="225.80" y="190.95" width="123.10" height="81.35"/></clipPath>
<g clip-path="url(#r225_190)" fill="none"><path d="M226.10,220.00v15.20M222.70,220.50h6.80M222.70,234.70h6.80M226.78,221.17v15.20M223.38,221.67h6.80M223.38,235.87h6.80M227.46,222.50v15.20M224.06,223.00h6.80M224.06,237.20h6.80M228.14,223.94v15.20M224.74,224.44h6.80M224.74,238.64h6.80M228.82,225.39v15.20M225.42,225.89h6.80M225.42,240.09h6.80M229.50,226.86v15.20M226.10,227.36h6.80M226.10,241.56h6.80M230.18,228.32v15.20M226.78,228.82h6.80M226.78,243.02h6.80M230.86,229.79v15.20M227.46,230.29h6.80M227.46,244.49h6.80M231.54,231.25v15.20M228.14,231.75h6.80M228.14,245.95h6.80M232.22,232.71v15.20M228.82,233.21h6.80M228.82,247.41h6.80M232.90,234.18v15.20M229.50,234.68h6.80M229.50,248.88h6.80M233.58,235.64v15.20M230.18,236.14h6.80M230.18,250.34h6.80M234.26,237.10v15.20M230.86,237.60h6.80M230.86,251.80h6.80M234.94,238.56v15.20M231.54,239.06h6.80M231.54,253.26h6.80M235.62,240.01v15.20M232.22,240.51h6.80M232.22,254.71h6.80M236.30,241.47v15.20M232.90,241.97h6.80M232.90,256.17h6.80M236.98,242.93v15.20M233.58,243.43h6.80M233.58,257.63h6.80M237.66,244.39v15.20M234.26,244.89h6.80M234.26,259.09h6.80M238.34,245.84v15.20M234.94,246.34h6.80M234.94,260.54h6.80M239.02,247.30v15.20M235.62,247.80h6.80M235.62,262.00h6.80M239.70,248.76v15.20M236.30,249.26h6.80M236.30,263.46h6.80M240.38,250.21v15.20M236.98,250.71h6.80M236.98,264.91h6.80M241.06,251.67v15.20M237.66,252.17h6.80M237.66,266.37h6.80M241.74,253.11v15.20M238.34,253.61h6.80M238.34,267.81h6.80M242.42,254.44v15.20M239.02,254.94h6.80M239.02,269.14h6.80M243.10,255.35v15.20M239.70,255.85h6.80M239.70,270.05h6.80M243.78,255.40v15.20M240.38,255.90h6.80M240.38,270.10h6.80M244.46,254.56v15.20M241.06,255.06h6.80M241.06,269.26h6.80M245.14,253.22v15.20M241.74,253.72h6.80M241.74,267.92h6.80M245.82,251.72v15.20M242.42,252.22h6.80M242.42,266.42h6.80M246.50,250.21v15.20M243.10,250.71h6.80M243.10,264.91h6.80M247.18,248.69v15.20M243.78,249.19h6.80M243.78,263.39h6.80M247.86,247.17v15.20M244.46,247.67h6.80M244.46,261.87h6.80M248.54,245.65v15.20M245.14,246.15h6.80M245.14,260.35h6.80M249.22,244.10v15.20M245.82,244.60h6.80M245.82,258.80h6.80M249.90,242.46v15.20M246.50,242.96h6.80M246.50,257.16h6.80M250.58,240.70v15.20M247.18,241.20h6.80M247.18,255.40h6.80M251.26,238.84v15.20M247.86,239.34h6.80M247.86,253.54h6.80M251.94,236.94v15.20M248.54,237.44h6.80M248.54,251.64h6.80M252.62,234.99v15.20M249.22,235.49h6.80M249.22,249.69h6.80M253.30,232.98v15.20M249.90,233.48h6.80M249.90,247.68h6.80M253.98,230.89v15.20M250.58,231.39h6.80M250.58,245.59h6.80M254.66,228.75v15.20M251.26,229.25h6.80M251.26,243.45h6.80M255.34,226.58v15.20M251.94,227.08h6.80M251.94,241.28h6.80M256.02,224.40v15.20M252.62,224.90h6.80M252.62,239.10h6.80M256.70,222.17v15.20M253.30,222.67h6.80M253.30,236.87h6.80M257.38,219.89v15.20M253.98,220.39h6.80M253.98,234.59h6.80M258.06,217.59v15.20M254.66,218.09h6.80M254.66,232.29h6.80M258.74,215.35v15.20M255.34,215.85h6.80M255.34,230.05h6.80M259.42,213.29v15.20M256.02,213.79h6.80M256.02,227.99h6.80M260.10,211.60v15.20M256.70,212.10h6.80M256.70,226.30h6.80M260.78,210.24v15.20M257.38,210.74h6.80M257.38,224.94h6.80M261.46,209.04v15.20M258.06,209.54h6.80M258.06,223.74h6.80M262.14,207.90v15.20M258.74,208.40h6.80M258.74,222.60h6.80M262.82,206.84v15.20M259.42,207.34h6.80M259.42,221.54h6.80M263.50,206.02v15.20M260.10,206.52h6.80M260.10,220.72h6.80M264.18,205.64v15.20M260.78,206.14h6.80M260.78,220.34h6.80M264.86,205.70v15.20M261.46,206.20h6.80M261.46,220.40h6.80M265.54,205.98v15.20M262.14,206.48h6.80M262.14,220.68h6.80M266.22,206.31v15.20M262.82,206.81h6.80M262.82,221.01h6.80M266.90,206.65v15.20M263.50,207.15h6.80M263.50,221.35h6.80M267.58,206.97v15.20M264.18,207.47h6.80M264.18,221.67h6.80M268.26,207.29v15.20M264.86,207.79h6.80M264.86,221.99h6.80M268.94,207.59v15.20M265.54,208.09h6.80M265.54,222.29h6.80M269.62,207.88v15.20M266.22,208.38h6.80M266.22,222.58h6.80M270.30,208.17v15.20M266.90,208.67h6.80M266.90,222.87h6.80M270.98,208.46v15.20M267.58,208.96h6.80M267.58,223.16h6.80M271.66,208.75v15.20M268.26,209.25h6.80M268.26,223.45h6.80M272.34,209.01v15.20M268.94,209.51h6.80M268.94,223.71h6.80M273.02,209.25v15.20M269.62,209.75h6.80M269.62,223.95h6.80M273.70,209.44v15.20M270.30,209.94h6.80M270.30,224.14h6.80M274.38,209.61v15.20M270.98,210.11h6.80M270.98,224.31h6.80M275.06,209.78v15.20M271.66,210.28h6.80M271.66,224.48h6.80M275.74,209.95v15.20M272.34,210.45h6.80M272.34,224.65h6.80M276.42,210.12v15.20M273.02,210.62h6.80M273.02,224.82h6.80M277.10,210.28v15.20M273.70,210.78h6.80M273.70,224.98h6.80M277.78,210.45v15.20M274.38,210.95h6.80M274.38,225.15h6.80M278.46,210.62v15.20M275.06,211.12h6.80M275.06,225.32h6.80M279.14,210.79v15.20M275.74,211.29h6.80M275.74,225.49h6.80M279.82,210.95v15.20M276.42,211.45h6.80M276.42,225.65h6.80M280.50,211.10v15.20M277.10,211.60h6.80M277.10,225.80h6.80M281.18,211.25v15.20M277.78,211.75h6.80M277.78,225.95h6.80M281.86,211.40v15.20M278.46,211.90h6.80M278.46,226.10h6.80M282.54,211.55v15.20M279.14,212.05h6.80M279.14,226.25h6.80M283.22,211.70v15.20M279.82,212.20h6.80M279.82,226.40h6.80M283.90,211.85v15.20M280.50,212.35h6.80M280.50,226.55h6.80M284.58,211.99v15.20M281.18,212.49h6.80M281.18,226.69h6.80M285.26,212.15v15.20M281.86,212.65h6.80M281.86,226.85h6.80M285.94,212.34v15.20M282.54,212.84h6.80M282.54,227.04h6.80M286.62,212.56v15.20M283.22,213.06h6.80M283.22,227.26h6.80M287.30,212.82v15.20M283.90,213.32h6.80M283.90,227.52h6.80M287.98,213.09v15.20M284.58,213.59h6.80M284.58,227.79h6.80M288.66,213.36v15.20M285.26,213.86h6.80M285.26,228.06h6.80M289.34,213.63v15.20M285.94,214.13h6.80M285.94,228.33h6.80M290.02,213.90v15.20M286.62,214.40h6.80M286.62,228.60h6.80M290.70,214.17v15.20M287.30,214.67h6.80M287.30,228.87h6.80M291.38,214.44v15.20M287.98,214.94h6.80M287.98,229.14h6.80M292.06,214.71v15.20M288.66,215.21h6.80M288.66,229.41h6.80M292.74,214.98v15.20M289.34,215.48h6.80M289.34,229.68h6.80M293.42,215.25v15.20M290.02,215.75h6.80M290.02,229.95h6.80M294.10,215.54v15.20M290.70,216.04h6.80M290.70,230.24h6.80M294.78,215.85v15.20M291.38,216.35h6.80M291.38,230.55h6.80M295.46,216.21v15.20M292.06,216.71h6.80M292.06,230.91h6.80M296.14,216.60v15.20M292.74,217.10h6.80M292.74,231.30h6.80M296.82,217.00v15.20M293.42,217.50h6.80M293.42,231.70h6.80M297.50,217.41v15.20M294.10,217.91h6.80M294.10,232.11h6.80M298.18,217.81v15.20M294.78,218.31h6.80M294.78,232.51h6.80M298.86,218.22v15.20M295.46,218.72h6.80M295.46,232.92h6.80M299.54,218.62v15.20M296.14,219.12h6.80M296.14,233.32h6.80M300.22,219.03v15.20M296.82,219.53h6.80M296.82,233.73h6.80M300.90,219.43v15.20M297.50,219.93h6.80M297.50,234.13h6.80M301.58,219.84v15.20M298.18,220.34h6.80M298.18,234.54h6.80M302.26,220.25v15.20M298.86,220.75h6.80M298.86,234.95h6.80M302.94,220.67v15.20M299.54,221.17h6.80M299.54,235.37h6.80M303.62,221.12v15.20M300.22,221.62h6.80M300.22,235.82h6.80M304.30,221.64v15.20M300.90,222.14h6.80M300.90,236.34h6.80M304.98,222.20v15.20M301.58,222.70h6.80M301.58,236.90h6.80M305.66,222.77v15.20M302.26,223.27h6.80M302.26,237.47h6.80M306.34,223.35v15.20M302.94,223.85h6.80M302.94,238.05h6.80M307.02,223.93v15.20M303.62,224.43h6.80M303.62,238.63h6.80M307.70,224.51v15.20M304.30,225.01h6.80M304.30,239.21h6.80M308.38,225.09v15.20M304.98,225.59h6.80M304.98,239.79h6.80M309.06,225.67v15.20M305.66,226.17h6.80M305.66,240.37h6.80M309.74,226.25v15.20M306.34,226.75h6.80M306.34,240.95h6.80M310.42,226.83v15.20M307.02,227.33h6.80M307.02,241.53h6.80M311.10,227.41v15.20M307.70,227.91h6.80M307.70,242.11h6.80M311.78,228.00v15.20M308.38,228.50h6.80M308.38,242.70h6.80M312.46,228.63v15.20M309.06,229.13h6.80M309.06,243.33h6.80M313.14,229.30v15.20M309.74,229.80h6.80M309.74,244.00h6.80M313.82,230.00v15.20M310.42,230.50h6.80M310.42,244.70h6.80M314.50,230.71v15.20M311.10,231.21h6.80M311.10,245.41h6.80M315.18,231.43v15.20M311.78,231.93h6.80M311.78,246.13h6.80M315.86,232.15v15.20M312.46,232.65h6.80M312.46,246.85h6.80M316.54,232.87v15.20M313.14,233.37h6.80M313.14,247.57h6.80M317.22,233.59v15.20M313.82,234.09h6.80M313.82,248.29h6.80M317.90,234.30v15.20M314.50,234.80h6.80M314.50,249.00h6.80M318.58,235.01v15.20M315.18,235.51h6.80M315.18,249.71h6.80M319.26,235.68v15.20M315.86,236.18h6.80M315.86,250.38h6.80M319.94,236.28v15.20M316.54,236.78h6.80M316.54,250.98h6.80M320.62,236.81v15.20M317.22,237.31h6.80M317.22,251.51h6.80M321.30,237.30v15.20M317.90,237.80h6.80M317.90,252.00h6.80M321.98,237.78v15.20M318.58,238.28h6.80M318.58,252.48h6.80M322.66,238.23v15.20M319.26,238.73h6.80M319.26,252.93h6.80M323.34,238.56v15.20M319.94,239.06h6.80M319.94,253.26h6.80M324.02,238.56v15.20M320.62,239.06h6.80M320.62,253.26h6.80M324.70,238.13v15.20M321.30,238.63h6.80M321.30,252.83h6.80M325.38,237.39v15.20M321.98,237.89h6.80M321.98,252.09h6.80M326.06,236.53v15.20M322.66,237.03h6.80M322.66,251.23h6.80M326.74,235.65v15.20M323.34,236.15h6.80M323.34,250.35h6.80M327.42,234.75v15.20M324.02,235.25h6.80M324.02,249.45h6.80M328.10,233.82v15.20M324.70,234.32h6.80M324.70,248.52h6.80M328.78,232.80v15.20M325.38,233.30h6.80M325.38,247.50h6.80M329.46,231.71v15.20M326.06,232.21h6.80M326.06,246.41h6.80M330.14,230.58v15.20M326.74,231.08h6.80M326.74,245.28h6.80M330.82,229.44v15.20M327.42,229.94h6.80M327.42,244.14h6.80M331.50,228.29v15.20M328.10,228.79h6.80M328.10,242.99h6.80M332.18,227.15v15.20M328.78,227.65h6.80M328.78,241.85h6.80M332.86,226.02v15.20M329.46,226.52h6.80M329.46,240.72h6.80M333.54,224.92v15.20M330.14,225.42h6.80M330.14,239.62h6.80M334.22,223.85v15.20M330.82,224.35h6.80M330.82,238.55h6.80M334.90,222.82v15.20M331.50,223.32h6.80M331.50,237.52h6.80M335.58,221.80v15.20M332.18,222.30h6.80M332.18,236.50h6.80M336.26,220.78v15.20M332.86,221.28h6.80M332.86,235.48h6.80M336.94,219.77v15.20M333.54,220.27h6.80M333.54,234.47h6.80M337.62,218.77v15.20M334.22,219.27h6.80M334.22,233.47h6.80M338.30,217.82v15.20M334.90,218.32h6.80M334.90,232.52h6.80M338.98,217.03v15.20M335.58,217.53h6.80M335.58,231.73h6.80M339.66,216.45v15.20M336.26,216.95h6.80M336.26,231.15h6.80M340.34,216.03v15.20M336.94,216.53h6.80M336.94,230.73h6.80M341.02,215.68v15.20M337.62,216.18h6.80M337.62,230.38h6.80M341.70,215.43v15.20M338.30,215.93h6.80M338.30,230.13h6.80M342.38,215.42v15.20M338.98,215.92h6.80M338.98,230.12h6.80M343.06,215.79v15.20M339.66,216.29h6.80M339.66,230.49h6.80M343.74,216.45v15.20M340.34,216.95h6.80M340.34,231.15h6.80M344.42,217.25v15.20M341.02,217.75h6.80M341.02,231.95h6.80M345.10,218.08v15.20M341.70,218.58h6.80M341.70,232.78h6.80M345.78,218.90v15.20M342.38,219.40h6.80M342.38,233.60h6.80M346.46,219.71v15.20M343.06,220.21h6.80M343.06,234.41h6.80M347.14,220.48v15.20M343.74,220.98h6.80M343.74,235.18h6.80M347.82,221.21v15.20M344.42,221.71h6.80M344.42,235.91h6.80M348.50,221.90v15.20M345.10,222.40h6.80M345.10,236.60h6.80" stroke="#5ab1e3" stroke-width="1.1"/><path d="M226.10,222.28v10.64M223.30,222.78h5.60M223.30,232.42h5.60M226.78,223.45v10.64M223.98,223.95h5.60M223.98,233.59h5.60M227.46,224.78v10.64M224.66,225.28h5.60M224.66,234.92h5.60M228.14,226.22v10.64M225.34,226.72h5.60M225.34,236.36h5.60M228.82,227.67v10.64M226.02,228.17h5.60M226.02,237.81h5.60M229.50,229.14v10.64M226.70,229.64h5.60M226.70,239.28h5.60M230.18,230.60v10.64M227.38,231.10h5.60M227.38,240.74h5.60M230.86,232.07v10.64M228.06,232.57h5.60M228.06,242.21h5.60M231.54,233.53v10.64M228.74,234.03h5.60M228.74,243.67h5.60M232.22,234.99v10.64M229.42,235.49h5.60M229.42,245.13h5.60M232.90,236.46v10.64M230.10,236.96h5.60M230.10,246.60h5.60M233.58,237.92v10.64M230.78,238.42h5.60M230.78,248.06h5.60M234.26,239.38v10.64M231.46,239.88h5.60M231.46,249.52h5.60M234.94,240.84v10.64M232.14,241.34h5.60M232.14,250.98h5.60M235.62,242.29v10.64M232.82,242.79h5.60M232.82,252.43h5.60M236.30,243.75v10.64M233.50,244.25h5.60M233.50,253.89h5.60M236.98,245.21v10.64M234.18,245.71h5.60M234.18,255.35h5.60M237.66,246.67v10.64M234.86,247.17h5.60M234.86,256.81h5.60M238.34,248.12v10.64M235.54,248.62h5.60M235.54,258.26h5.60M239.02,249.58v10.64M236.22,250.08h5.60M236.22,259.72h5.60M239.70,251.04v10.64M236.90,251.54h5.60M236.90,261.18h5.60M240.38,252.49v10.64M237.58,252.99h5.60M237.58,262.63h5.60M241.06,253.95v10.64M238.26,254.45h5.60M238.26,264.09h5.60M241.74,255.39v10.64M238.94,255.89h5.60M238.94,265.53h5.60M242.42,256.72v10.64M239.62,257.22h5.60M239.62,266.86h5.60M243.10,257.63v10.64M240.30,258.13h5.60M240.30,267.77h5.60M243.78,257.68v10.64M240.98,258.18h5.60M240.98,267.82h5.60M244.46,256.84v10.64M241.66,257.34h5.60M241.66,266.98h5.60M245.14,255.50v10.64M242.34,256.00h5.60M242.34,265.64h5.60M245.82,254.00v10.64M243.02,254.50h5.60M243.02,264.14h5.60M246.50,252.49v10.64M243.70,252.99h5.60M243.70,262.63h5.60M247.18,250.97v10.64M244.38,251.47h5.60M244.38,261.11h5.60M247.86,249.45v10.64M245.06,249.95h5.60M245.06,259.59h5.60M248.54,247.93v10.64M245.74,248.43h5.60M245.74,258.07h5.60M249.22,246.38v10.64M246.42,246.88h5.60M246.42,256.52h5.60M249.90,244.74v10.64M247.10,245.24h5.60M247.10,254.88h5.60M250.58,242.98v10.64M247.78,243.48h5.60M247.78,253.12h5.60M251.26,241.12v10.64M248.46,241.62h5.60M248.46,251.26h5.60M251.94,239.22v10.64M249.14,239.72h5.60M249.14,249.36h5.60M252.62,237.27v10.64M249.82,237.77h5.60M249.82,247.41h5.60M253.30,235.26v10.64M250.50,235.76h5.60M250.50,245.40h5.60M253.98,233.17v10.64M251.18,233.67h5.60M251.18,243.31h5.60M254.66,231.03v10.64M251.86,231.53h5.60M251.86,241.17h5.60M255.34,228.86v10.64M252.54,229.36h5.60M252.54,239.00h5.60M256.02,226.68v10.64M253.22,227.18h5.60M253.22,236.82h5.60M256.70,224.45v10.64M253.90,224.95h5.60M253.90,234.59h5.60M257.38,222.17v10.64M254.58,222.67h5.60M254.58,232.31h5.60M258.06,219.87v10.64M255.26,220.37h5.60M255.26,230.01h5.60M258.74,217.63v10.64M255.94,218.13h5.60M255.94,227.77h5.60M259.42,215.57v10.64M256.62,216.07h5.60M256.62,225.71h5.60M260.10,213.88v10.64M257.30,214.38h5.60M257.30,224.02h5.60M260.78,212.52v10.64M257.98,213.02h5.60M257.98,222.66h5.60M261.46,211.32v10.64M258.66,211.82h5.60M258.66,221.46h5.60M262.14,210.18v10.64M259.34,210.68h5.60M259.34,220.32h5.60M262.82,209.12v10.64M260.02,209.62h5.60M260.02,219.26h5.60M263.50,208.30v10.64M260.70,208.80h5.60M260.70,218.44h5.60M264.18,207.92v10.64M261.38,208.42h5.60M261.38,218.06h5.60M264.86,207.98v10.64M262.06,208.48h5.60M262.06,218.12h5.60M265.54,208.26v10.64M262.74,208.76h5.60M262.74,218.40h5.60M266.22,208.59v10.64M263.42,209.09h5.60M263.42,218.73h5.60M266.90,208.93v10.64M264.10,209.43h5.60M264.10,219.07h5.60M267.58,209.25v10.64M264.78,209.75h5.60M264.78,219.39h5.60M268.26,209.57v10.64M265.46,210.07h5.60M265.46,219.71h5.60M268.94,209.87v10.64M266.14,210.37h5.60M266.14,220.01h5.60M269.62,210.16v10.64M266.82,210.66h5.60M266.82,220.30h5.60M270.30,210.45v10.64M267.50,210.95h5.60M267.50,220.59h5.60M270.98,210.74v10.64M268.18,211.24h5.60M268.18,220.88h5.60M271.66,211.03v10.64M268.86,211.53h5.60M268.86,221.17h5.60M272.34,211.29v10.64M269.54,211.79h5.60M269.54,221.43h5.60M273.02,211.53v10.64M270.22,212.03h5.60M270.22,221.67h5.60M273.70,211.72v10.64M270.90,212.22h5.60M270.90,221.86h5.60M274.38,211.89v10.64M271.58,212.39h5.60M271.58,222.03h5.60M275.06,212.06v10.64M272.26,212.56h5.60M272.26,222.20h5.60M275.74,212.23v10.64M272.94,212.73h5.60M272.94,222.37h5.60M276.42,212.40v10.64M273.62,212.90h5.60M273.62,222.54h5.60M277.10,212.56v10.64M274.30,213.06h5.60M274.30,222.70h5.60M277.78,212.73v10.64M274.98,213.23h5.60M274.98,222.87h5.60M278.46,212.90v10.64M275.66,213.40h5.60M275.66,223.04h5.60M279.14,213.07v10.64M276.34,213.57h5.60M276.34,223.21h5.60M279.82,213.23v10.64M277.02,213.73h5.60M277.02,223.37h5.60M280.50,213.38v10.64M277.70,213.88h5.60M277.70,223.52h5.60M281.18,213.53v10.64M278.38,214.03h5.60M278.38,223.67h5.60M281.86,213.68v10.64M279.06,214.18h5.60M279.06,223.82h5.60M282.54,213.83v10.64M279.74,214.33h5.60M279.74,223.97h5.60M283.22,213.98v10.64M280.42,214.48h5.60M280.42,224.12h5.60M283.90,214.13v10.64M281.10,214.63h5.60M281.10,224.27h5.60M284.58,214.27v10.64M281.78,214.77h5.60M281.78,224.41h5.60M285.26,214.43v10.64M282.46,214.93h5.60M282.46,224.57h5.60M285.94,214.62v10.64M283.14,215.12h5.60M283.14,224.76h5.60M286.62,214.84v10.64M283.82,215.34h5.60M283.82,224.98h5.60M287.30,215.10v10.64M284.50,215.60h5.60M284.50,225.24h5.60M287.98,215.37v10.64M285.18,215.87h5.60M285.18,225.51h5.60M288.66,215.64v10.64M285.86,216.14h5.60M285.86,225.78h5.60M289.34,215.91v10.64M286.54,216.41h5.60M286.54,226.05h5.60M290.02,216.18v10.64M287.22,216.68h5.60M287.22,226.32h5.60M290.70,216.45v10.64M287.90,216.95h5.60M287.90,226.59h5.60M291.38,216.72v10.64M288.58,217.22h5.60M288.58,226.86h5.60M292.06,216.99v10.64M289.26,217.49h5.60M289.26,227.13h5.60M292.74,217.26v10.64M289.94,217.76h5.60M289.94,227.40h5.60M293.42,217.53v10.64M290.62,218.03h5.60M290.62,227.67h5.60M294.10,217.82v10.64M291.30,218.32h5.60M291.30,227.96h5.60M294.78,218.13v10.64M291.98,218.63h5.60M291.98,228.27h5.60M295.46,218.49v10.64M292.66,218.99h5.60M292.66,228.63h5.60M296.14,218.88v10.64M293.34,219.38h5.60M293.34,229.02h5.60M296.82,219.28v10.64M294.02,219.78h5.60M294.02,229.42h5.60M297.50,219.69v10.64M294.70,220.19h5.60M294.70,229.83h5.60M298.18,220.09v10.64M295.38,220.59h5.60M295.38,230.23h5.60M298.86,220.50v10.64M296.06,221.00h5.60M296.06,230.64h5.60M299.54,220.90v10.64M296.74,221.40h5.60M296.74,231.04h5.60M300.22,221.31v10.64M297.42,221.81h5.60M297.42,231.45h5.60M300.90,221.71v10.64M298.10,222.21h5.60M298.10,231.85h5.60M301.58,222.12v10.64M298.78,222.62h5.60M298.78,232.26h5.60M302.26,222.53v10.64M299.46,223.03h5.60M299.46,232.67h5.60M302.94,222.95v10.64M300.14,223.45h5.60M300.14,233.09h5.60M303.62,223.40v10.64M300.82,223.90h5.60M300.82,233.54h5.60M304.30,223.92v10.64M301.50,224.42h5.60M301.50,234.06h5.60M304.98,224.48v10.64M302.18,224.98h5.60M302.18,234.62h5.60M305.66,225.05v10.64M302.86,225.55h5.60M302.86,235.19h5.60M306.34,225.63v10.64M303.54,226.13h5.60M303.54,235.77h5.60M307.02,226.21v10.64M304.22,226.71h5.60M304.22,236.35h5.60M307.70,226.79v10.64M304.90,227.29h5.60M304.90,236.93h5.60M308.38,227.37v10.64M305.58,227.87h5.60M305.58,237.51h5.60M309.06,227.95v10.64M306.26,228.45h5.60M306.26,238.09h5.60M309.74,228.53v10.64M306.94,229.03h5.60M306.94,238.67h5.60M310.42,229.11v10.64M307.62,229.61h5.60M307.62,239.25h5.60M311.10,229.69v10.64M308.30,230.19h5.60M308.30,239.83h5.60M311.78,230.28v10.64M308.98,230.78h5.60M308.98,240.42h5.60M312.46,230.91v10.64M309.66,231.41h5.60M309.66,241.05h5.60M313.14,231.58v10.64M310.34,232.08h5.60M310.34,241.72h5.60M313.82,232.28v10.64M311.02,232.78h5.60M311.02,242.42h5.60M314.50,232.99v10.64M311.70,233.49h5.60M311.70,243.13h5.60M315.18,233.71v10.64M312.38,234.21h5.60M312.38,243.85h5.60M315.86,234.43v10.64M313.06,234.93h5.60M313.06,244.57h5.60M316.54,235.15v10.64M313.74,235.65h5.60M313.74,245.29h5.60M317.22,235.87v10.64M314.42,236.37h5.60M314.42,246.01h5.60M317.90,236.58v10.64M315.10,237.08h5.60M315.10,246.72h5.60M318.58,237.29v10.64M315.78,237.79h5.60M315.78,247.43h5.60M319.26,237.96v10.64M316.46,238.46h5.60M316.46,248.10h5.60M319.94,238.56v10.64M317.14,239.06h5.60M317.14,248.70h5.60M320.62,239.09v10.64M317.82,239.59h5.60M317.82,249.23h5.60M321.30,239.58v10.64M318.50,240.08h5.60M318.50,249.72h5.60M321.98,240.06v10.64M319.18,240.56h5.60M319.18,250.20h5.60M322.66,240.51v10.64M319.86,241.01h5.60M319.86,250.65h5.60M323.34,240.84v10.64M320.54,241.34h5.60M320.54,250.98h5.60M324.02,240.84v10.64M321.22,241.34h5.60M321.22,250.98h5.60M324.70,240.41v10.64M321.90,240.91h5.60M321.90,250.55h5.60M325.38,239.67v10.64M322.58,240.17h5.60M322.58,249.81h5.60M326.06,238.81v10.64M323.26,239.31h5.60M323.26,248.95h5.60M326.74,237.93v10.64M323.94,238.43h5.60M323.94,248.07h5.60M327.42,237.03v10.64M324.62,237.53h5.60M324.62,247.17h5.60M328.10,236.10v10.64M325.30,236.60h5.60M325.30,246.24h5.60M328.78,235.08v10.64M325.98,235.58h5.60M325.98,245.22h5.60M329.46,233.99v10.64M326.66,234.49h5.60M326.66,244.13h5.60M330.14,232.86v10.64M327.34,233.36h5.60M327.34,243.00h5.60M330.82,231.72v10.64M328.02,232.22h5.60M328.02,241.86h5.60M331.50,230.57v10.64M328.70,231.07h5.60M328.70,240.71h5.60M332.18,229.43v10.64M329.38,229.93h5.60M329.38,239.57h5.60M332.86,228.30v10.64M330.06,228.80h5.60M330.06,238.44h5.60M333.54,227.20v10.64M330.74,227.70h5.60M330.74,237.34h5.60M334.22,226.13v10.64M331.42,226.63h5.60M331.42,236.27h5.60M334.90,225.10v10.64M332.10,225.60h5.60M332.10,235.24h5.60M335.58,224.08v10.64M332.78,224.58h5.60M332.78,234.22h5.60M336.26,223.06v10.64M333.46,223.56h5.60M333.46,233.20h5.60M336.94,222.05v10.64M334.14,222.55h5.60M334.14,232.19h5.60M337.62,221.05v10.64M334.82,221.55h5.60M334.82,231.19h5.60M338.30,220.10v10.64M335.50,220.60h5.60M335.50,230.24h5.60M338.98,219.31v10.64M336.18,219.81h5.60M336.18,229.45h5.60M339.66,218.73v10.64M336.86,219.23h5.60M336.86,228.87h5.60M340.34,218.31v10.64M337.54,218.81h5.60M337.54,228.45h5.60M341.02,217.96v10.64M338.22,218.46h5.60M338.22,228.10h5.60M341.70,217.71v10.64M338.90,218.21h5.60M338.90,227.85h5.60M342.38,217.70v10.64M339.58,218.20h5.60M339.58,227.84h5.60M343.06,218.07v10.64M340.26,218.57h5.60M340.26,228.21h5.60M343.74,218.73v10.64M340.94,219.23h5.60M340.94,228.87h5.60M344.42,219.53v10.64M341.62,220.03h5.60M341.62,229.67h5.60M345.10,220.36v10.64M342.30,220.86h5.60M342.30,230.50h5.60M345.78,221.18v10.64M342.98,221.68h5.60M342.98,231.32h5.60M346.46,221.99v10.64M343.66,222.49h5.60M343.66,232.13h5.60M347.14,222.76v10.64M344.34,223.26h5.60M344.34,232.90h5.60M347.82,223.49v10.64M345.02,223.99h5.60M345.02,233.63h5.60M348.50,224.18v10.64M345.70,224.68h5.60M345.70,234.32h5.60" stroke="#2f5d80" stroke-width="1.1"/><path d="M226.10,223.49v8.21M223.90,223.99h4.40M223.90,231.20h4.40M226.78,224.66v8.21M224.58,225.16h4.40M224.58,232.37h4.40M227.46,226.00v8.21M225.26,226.50h4.40M225.26,233.71h4.40M228.14,227.43v8.21M225.94,227.93h4.40M225.94,235.14h4.40M228.82,228.89v8.21M226.62,229.39h4.40M226.62,236.60h4.40M229.50,230.35v8.21M227.30,230.85h4.40M227.30,238.06h4.40M230.18,231.82v8.21M227.98,232.32h4.40M227.98,239.53h4.40M230.86,233.28v8.21M228.66,233.78h4.40M228.66,240.99h4.40M231.54,234.75v8.21M229.34,235.25h4.40M229.34,242.45h4.40M232.22,236.21v8.21M230.02,236.71h4.40M230.02,243.92h4.40M232.90,237.67v8.21M230.70,238.17h4.40M230.70,245.38h4.40M233.58,239.14v8.21M231.38,239.64h4.40M231.38,246.84h4.40M234.26,240.59v8.21M232.06,241.09h4.40M232.06,248.30h4.40M234.94,242.05v8.21M232.74,242.55h4.40M232.74,249.76h4.40M235.62,243.51v8.21M233.42,244.01h4.40M233.42,251.22h4.40M236.30,244.97v8.21M234.10,245.47h4.40M234.10,252.68h4.40M236.98,246.42v8.21M234.78,246.92h4.40M234.78,254.13h4.40M237.66,247.88v8.21M235.46,248.38h4.40M235.46,255.59h4.40M238.34,249.34v8.21M236.14,249.84h4.40M236.14,257.05h4.40M239.02,250.80v8.21M236.82,251.30h4.40M236.82,258.50h4.40M239.70,252.25v8.21M237.50,252.75h4.40M237.50,259.96h4.40M240.38,253.71v8.21M238.18,254.21h4.40M238.18,261.42h4.40M241.06,255.17v8.21M238.86,255.67h4.40M238.86,262.88h4.40M241.74,256.61v8.21M239.54,257.11h4.40M239.54,264.32h4.40M242.42,257.94v8.21M240.22,258.44h4.40M240.22,265.65h4.40M243.10,258.85v8.21M240.90,259.35h4.40M240.90,266.55h4.40M243.78,258.90v8.21M241.58,259.40h4.40M241.58,266.61h4.40M244.46,258.06v8.21M242.26,258.56h4.40M242.26,265.77h4.40M245.14,256.71v8.21M242.94,257.21h4.40M242.94,264.42h4.40M245.82,255.22v8.21M243.62,255.72h4.40M243.62,262.93h4.40M246.50,253.70v8.21M244.30,254.20h4.40M244.30,261.41h4.40M247.18,252.19v8.21M244.98,252.69h4.40M244.98,259.89h4.40M247.86,250.67v8.21M245.66,251.17h4.40M245.66,258.38h4.40M248.54,249.15v8.21M246.34,249.65h4.40M246.34,256.85h4.40M249.22,247.59v8.21M247.02,248.09h4.40M247.02,255.30h4.40M249.90,245.96v8.21M247.70,246.46h4.40M247.70,253.67h4.40M250.58,244.20v8.21M248.38,244.70h4.40M248.38,251.91h4.40M251.26,242.34v8.21M249.06,242.84h4.40M249.06,250.05h4.40M251.94,240.43v8.21M249.74,240.93h4.40M249.74,248.14h4.40M252.62,238.49v8.21M250.42,238.99h4.40M250.42,246.19h4.40M253.30,236.48v8.21M251.10,236.98h4.40M251.10,244.19h4.40M253.98,234.39v8.21M251.78,234.89h4.40M251.78,242.10h4.40M254.66,232.25v8.21M252.46,232.75h4.40M252.46,239.95h4.40M255.34,230.08v8.21M253.14,230.58h4.40M253.14,237.79h4.40M256.02,227.89v8.21M253.82,228.39h4.40M253.82,235.60h4.40M256.70,225.66v8.21M254.50,226.16h4.40M254.50,233.37h4.40M257.38,223.39v8.21M255.18,223.89h4.40M255.18,231.09h4.40M258.06,221.09v8.21M255.86,221.59h4.40M255.86,228.80h4.40M258.74,218.84v8.21M256.54,219.34h4.40M256.54,226.55h4.40M259.42,216.79v8.21M257.22,217.29h4.40M257.22,224.50h4.40M260.10,215.09v8.21M257.90,215.59h4.40M257.90,222.80h4.40M260.78,213.73v8.21M258.58,214.23h4.40M258.58,221.44h4.40M261.46,212.54v8.21M259.26,213.04h4.40M259.26,220.25h4.40M262.14,211.40v8.21M259.94,211.90h4.40M259.94,219.11h4.40M262.82,210.33v8.21M260.62,210.83h4.40M260.62,218.04h4.40M263.50,209.51v8.21M261.30,210.01h4.40M261.30,217.22h4.40M264.18,209.14v8.21M261.98,209.64h4.40M261.98,216.85h4.40M264.86,209.20v8.21M262.66,209.70h4.40M262.66,216.91h4.40M265.54,209.47v8.21M263.34,209.97h4.40M263.34,217.18h4.40M266.22,209.81v8.21M264.02,210.31h4.40M264.02,217.51h4.40M266.90,210.14v8.21M264.70,210.64h4.40M264.70,217.85h4.40M267.58,210.47v8.21M265.38,210.97h4.40M265.38,218.18h4.40M268.26,210.78v8.21M266.06,211.28h4.40M266.06,218.49h4.40M268.94,211.08v8.21M266.74,211.58h4.40M266.74,218.79h4.40M269.62,211.38v8.21M267.42,211.88h4.40M267.42,219.08h4.40M270.30,211.67v8.21M268.10,212.17h4.40M268.10,219.38h4.40M270.98,211.96v8.21M268.78,212.46h4.40M268.78,219.67h4.40M271.66,212.24v8.21M269.46,212.74h4.40M269.46,219.95h4.40M272.34,212.51v8.21M270.14,213.01h4.40M270.14,220.22h4.40M273.02,212.74v8.21M270.82,213.24h4.40M270.82,220.45h4.40M273.70,212.94v8.21M271.50,213.44h4.40M271.50,220.64h4.40M274.38,213.11v8.21M272.18,213.61h4.40M272.18,220.82h4.40M275.06,213.28v8.21M272.86,213.78h4.40M272.86,220.99h4.40M275.74,213.45v8.21M273.54,213.95h4.40M273.54,221.15h4.40M276.42,213.61v8.21M274.22,214.11h4.40M274.22,221.32h4.40M277.10,213.78v8.21M274.90,214.28h4.40M274.90,221.49h4.40M277.78,213.95v8.21M275.58,214.45h4.40M275.58,221.66h4.40M278.46,214.12v8.21M276.26,214.62h4.40M276.26,221.82h4.40M279.14,214.28v8.21M276.94,214.78h4.40M276.94,221.99h4.40M279.82,214.44v8.21M277.62,214.94h4.40M277.62,222.15h4.40M280.50,214.60v8.21M278.30,215.10h4.40M278.30,222.31h4.40M281.18,214.75v8.21M278.98,215.25h4.40M278.98,222.46h4.40M281.86,214.90v8.21M279.66,215.40h4.40M279.66,222.61h4.40M282.54,215.05v8.21M280.34,215.55h4.40M280.34,222.75h4.40M283.22,215.19v8.21M281.02,215.69h4.40M281.02,222.90h4.40M283.90,215.34v8.21M281.70,215.84h4.40M281.70,223.05h4.40M284.58,215.49v8.21M282.38,215.99h4.40M282.38,223.20h4.40M285.26,215.65v8.21M283.06,216.15h4.40M283.06,223.36h4.40M285.94,215.84v8.21M283.74,216.34h4.40M283.74,223.54h4.40M286.62,216.06v8.21M284.42,216.56h4.40M284.42,223.77h4.40M287.30,216.32v8.21M285.10,216.82h4.40M285.10,224.02h4.40M287.98,216.58v8.21M285.78,217.08h4.40M285.78,224.29h4.40M288.66,216.85v8.21M286.46,217.35h4.40M286.46,224.56h4.40M289.34,217.12v8.21M287.14,217.62h4.40M287.14,224.83h4.40M290.02,217.39v8.21M287.82,217.89h4.40M287.82,225.10h4.40M290.70,217.67v8.21M288.50,218.17h4.40M288.50,225.37h4.40M291.38,217.94v8.21M289.18,218.44h4.40M289.18,225.64h4.40M292.06,218.21v8.21M289.86,218.71h4.40M289.86,225.91h4.40M292.74,218.48v8.21M290.54,218.98h4.40M290.54,226.18h4.40M293.42,218.75v8.21M291.22,219.25h4.40M291.22,226.46h4.40M294.10,219.03v8.21M291.90,219.53h4.40M291.90,226.74h4.40M294.78,219.35v8.21M292.58,219.85h4.40M292.58,227.06h4.40M295.46,219.71v8.21M293.26,220.21h4.40M293.26,227.41h4.40M296.14,220.10v8.21M293.94,220.60h4.40M293.94,227.80h4.40M296.82,220.50v8.21M294.62,221.00h4.40M294.62,228.21h4.40M297.50,220.90v8.21M295.30,221.40h4.40M295.30,228.61h4.40M298.18,221.31v8.21M295.98,221.81h4.40M295.98,229.02h4.40M298.86,221.71v8.21M296.66,222.21h4.40M296.66,229.42h4.40M299.54,222.12v8.21M297.34,222.62h4.40M297.34,229.83h4.40M300.22,222.52v8.21M298.02,223.02h4.40M298.02,230.23h4.40M300.90,222.93v8.21M298.70,223.43h4.40M298.70,230.64h4.40M301.58,223.33v8.21M299.38,223.83h4.40M299.38,231.04h4.40M302.26,223.74v8.21M300.06,224.24h4.40M300.06,231.45h4.40M302.94,224.16v8.21M300.74,224.66h4.40M300.74,231.87h4.40M303.62,224.62v8.21M301.42,225.12h4.40M301.42,232.33h4.40M304.30,225.13v8.21M302.10,225.63h4.40M302.10,232.84h4.40M304.98,225.69v8.21M302.78,226.19h4.40M302.78,233.40h4.40M305.66,226.27v8.21M303.46,226.77h4.40M303.46,233.97h4.40M306.34,226.85v8.21M304.14,227.35h4.40M304.14,234.55h4.40M307.02,227.43v8.21M304.82,227.93h4.40M304.82,235.13h4.40M307.70,228.01v8.21M305.50,228.51h4.40M305.50,235.71h4.40M308.38,228.58v8.21M306.18,229.08h4.40M306.18,236.29h4.40M309.06,229.16v8.21M306.86,229.66h4.40M306.86,236.87h4.40M309.74,229.74v8.21M307.54,230.24h4.40M307.54,237.45h4.40M310.42,230.32v8.21M308.22,230.82h4.40M308.22,238.03h4.40M311.10,230.91v8.21M308.90,231.41h4.40M308.90,238.61h4.40M311.78,231.50v8.21M309.58,232.00h4.40M309.58,239.21h4.40M312.46,232.12v8.21M310.26,232.62h4.40M310.26,239.83h4.40M313.14,232.79v8.21M310.94,233.29h4.40M310.94,240.50h4.40M313.82,233.49v8.21M311.62,233.99h4.40M311.62,241.20h4.40M314.50,234.21v8.21M312.30,234.71h4.40M312.30,241.92h4.40M315.18,234.93v8.21M312.98,235.43h4.40M312.98,242.63h4.40M315.86,235.65v8.21M313.66,236.15h4.40M313.66,243.35h4.40M316.54,236.36v8.21M314.34,236.86h4.40M314.34,244.07h4.40M317.22,237.08v8.21M315.02,237.58h4.40M315.02,244.79h4.40M317.90,237.80v8.21M315.70,238.30h4.40M315.70,245.51h4.40M318.58,238.51v8.21M316.38,239.01h4.40M316.38,246.21h4.40M319.26,239.18v8.21M317.06,239.68h4.40M317.06,246.88h4.40M319.94,239.77v8.21M317.74,240.27h4.40M317.74,247.48h4.40M320.62,240.30v8.21M318.42,240.80h4.40M318.42,248.01h4.40M321.30,240.79v8.21M319.10,241.29h4.40M319.10,248.50h4.40M321.98,241.27v8.21M319.78,241.77h4.40M319.78,248.98h4.40M322.66,241.72v8.21M320.46,242.22h4.40M320.46,249.43h4.40M323.34,242.05v8.21M321.14,242.55h4.40M321.14,249.76h4.40M324.02,242.06v8.21M321.82,242.56h4.40M321.82,249.77h4.40M324.70,241.63v8.21M322.50,242.13h4.40M322.50,249.34h4.40M325.38,240.88v8.21M323.18,241.38h4.40M323.18,248.59h4.40M326.06,240.03v8.21M323.86,240.53h4.40M323.86,247.73h4.40M326.74,239.14v8.21M324.54,239.64h4.40M324.54,246.85h4.40M327.42,238.25v8.21M325.22,238.75h4.40M325.22,245.96h4.40M328.10,237.31v8.21M325.90,237.81h4.40M325.90,245.02h4.40M328.78,236.30v8.21M326.58,236.80h4.40M326.58,244.00h4.40M329.46,235.20v8.21M327.26,235.70h4.40M327.26,242.91h4.40M330.14,234.07v8.21M327.94,234.57h4.40M327.94,241.78h4.40M330.82,232.93v8.21M328.62,233.43h4.40M328.62,240.64h4.40M331.50,231.79v8.21M329.30,232.29h4.40M329.30,239.50h4.40M332.18,230.65v8.21M329.98,231.15h4.40M329.98,238.36h4.40M332.86,229.52v8.21M330.66,230.02h4.40M330.66,237.23h4.40M333.54,228.41v8.21M331.34,228.91h4.40M331.34,236.12h4.40M334.22,227.34v8.21M332.02,227.84h4.40M332.02,235.05h4.40M334.90,226.31v8.21M332.70,226.81h4.40M332.70,234.02h4.40M335.58,225.29v8.21M333.38,225.79h4.40M333.38,233.00h4.40M336.26,224.28v8.21M334.06,224.78h4.40M334.06,231.99h4.40M336.94,223.27v8.21M334.74,223.77h4.40M334.74,230.98h4.40M337.62,222.27v8.21M335.42,222.77h4.40M335.42,229.97h4.40M338.30,221.32v8.21M336.10,221.82h4.40M336.10,229.03h4.40M338.98,220.53v8.21M336.78,221.03h4.40M336.78,228.23h4.40M339.66,219.95v8.21M337.46,220.45h4.40M337.46,227.65h4.40M340.34,219.52v8.21M338.14,220.02h4.40M338.14,227.23h4.40M341.02,219.18v8.21M338.82,219.68h4.40M338.82,226.88h4.40M341.70,218.93v8.21M339.50,219.43h4.40M339.50,226.63h4.40M342.38,218.92v8.21M340.18,219.42h4.40M340.18,226.63h4.40M343.06,219.28v8.21M340.86,219.78h4.40M340.86,226.99h4.40M343.74,219.95v8.21M341.54,220.45h4.40M341.54,227.66h4.40M344.42,220.75v8.21M342.22,221.25h4.40M342.22,228.45h4.40M345.10,221.57v8.21M342.90,222.07h4.40M342.90,229.28h4.40M345.78,222.40v8.21M343.58,222.90h4.40M343.58,230.11h4.40M346.46,223.21v8.21M344.26,223.71h4.40M344.26,230.92h4.40M347.14,223.98v8.21M344.94,224.48h4.40M344.94,231.69h4.40M347.82,224.70v8.21M345.62,225.20h4.40M345.62,232.41h4.40M348.50,225.39v8.21M346.30,225.89h4.40M346.30,233.10h4.40" stroke="#1d2f3f" stroke-width="1.1"/><line x1="225.80" y1="231.93" x2="348.90" y2="231.93" stroke="#000" stroke-width="2.5"/></g>
<path d="M225.80,204.33h1.6M348.90,204.33h-1.6M225.80,231.93h1.6M348.90,231.93h-1.6M225.80,259.53h1.6M348.90,259.53h-1.6M287.35,272.30v-1.6M287.35,190.95v1.6" stroke="#262626" stroke-width="1"/>
<rect x="225.80" y="190.95" width="123.10" height="81.35" fill="none" stroke="#262626" stroke-width="1.90"/>
<g transform="translate(213.61,209.33) scale(1.0585,1)" fill="#262626" ><text x="0.00" y="0.00" font-size="13.00" font-weight="normal" font-style="normal">.1</text></g>
<g transform="translate(216.31,236.33) scale(1.1355,1)" fill="#262626" ><text x="0.00" y="0.00" font-size="13.00" font-weight="normal" font-style="normal">0</text></g>
<g transform="translate(208.81,264.53) scale(1.0723,1)" fill="#262626" ><text x="0.00" y="0.00" font-size="13.00" font-weight="normal" font-style="normal">-.1</text></g>
<g transform="translate(221.94,289.30) scale(1.0826,1)" fill="#262626" ><text x="0.00" y="0.00" font-size="13.00" font-weight="normal" font-style="normal">0</text><text x="6.50" y="0.00" font-size="13.00" font-weight="normal" font-style="normal">°</text></g>
<g transform="translate(279.34,289.30) scale(1.0490,1)" fill="#262626" ><text x="0.00" y="0.00" font-size="13.00" font-weight="normal" font-style="normal">90</text><text x="13.00" y="0.00" font-size="13.00" font-weight="normal" font-style="normal">°</text></g>
<g transform="translate(336.48,289.30) scale(1.0446,1)" fill="#262626" ><text x="0.00" y="0.00" font-size="13.00" font-weight="normal" font-style="normal">180</text><text x="19.50" y="0.00" font-size="13.00" font-weight="normal" font-style="normal">°</text></g>
<path d="M260.40,257.50h7.6M260.40,263.00h7.6M260.40,268.50h7.6M264.20,257.40v11.2" stroke="#2c4558" stroke-width="1.3" fill="none"/>
<g transform="translate(270.21,266.10) scale(1.0202,1)" fill="#262626" ><text x="0.00" y="0.00" font-size="13.00" font-weight="normal" font-style="normal">1</text><text x="6.50" y="0.00" font-size="13.00" font-weight="normal" font-style="italic">σ</text></g>
<path d="M290.00,257.50h7.6M290.00,263.00h7.6M290.00,268.50h7.6M293.80,257.40v11.2" stroke="#3b6f92" stroke-width="1.3" fill="none"/>
<g transform="translate(300.43,266.10) scale(0.9733,1)" fill="#262626" ><text x="0.00" y="0.00" font-size="13.00" font-weight="normal" font-style="normal">2</text><text x="6.50" y="0.00" font-size="13.00" font-weight="normal" font-style="italic">σ</text></g>
<path d="M320.10,257.50h7.6M320.10,263.00h7.6M320.10,268.50h7.6M323.90,257.40v11.2" stroke="#5ab1e3" stroke-width="1.3" fill="none"/>
<g transform="translate(330.46,266.10) scale(0.9783,1)" fill="#262626" ><text x="0.00" y="0.00" font-size="13.00" font-weight="normal" font-style="normal">3</text><text x="6.50" y="0.00" font-size="13.00" font-weight="normal" font-style="italic">σ</text></g>
<g transform="translate(228.04,203.55) scale(0.9934,1)" fill="#262626" ><text x="0.00" y="0.00" font-size="14.00" font-weight="normal" font-style="normal">COD-S</text><text x="42.01" y="3.08" font-size="9.52" font-weight="normal" font-style="normal">1</text><text x="46.77" y="0.00" font-size="14.00" font-weight="normal" font-style="normal">(θ)</text></g>
<line x1="449.10" y1="191.90" x2="449.10" y2="272.90" stroke="#dcdcdc" stroke-width="1.6"/>
<line x1="387.70" y1="232.40" x2="510.50" y2="232.40" stroke="#dcdcdc" stroke-width="1.6"/>
<clipPath id="c387_191"><rect x="387.70" y="191.90" width="122.80" height="81.00"/></clipPath>
<g clip-path="url(#c387_191)"><path d="M388.04,266.46v8M384.64,270.46h6.8M388.72,266.43v8M385.32,270.43h6.8M389.41,266.40v8M386.01,270.40h6.8M390.09,266.35v8M386.69,270.35h6.8M390.77,266.28v8M387.37,270.28h6.8M391.45,266.21v8M388.05,270.21h6.8M392.13,266.12v8M388.73,270.12h6.8M392.82,266.03v8M389.42,270.03h6.8M393.50,265.93v8M390.10,269.93h6.8M394.18,265.82v8M390.78,269.82h6.8M394.86,265.68v8M391.46,269.68h6.8M395.55,265.52v8M392.15,269.52h6.8M396.23,265.33v8M392.83,269.33h6.8M396.91,265.10v8M393.51,269.10h6.8M397.59,264.83v8M394.19,268.83h6.8M398.27,264.52v8M394.87,268.52h6.8M398.96,264.17v8M395.56,268.17h6.8M399.64,263.79v8M396.24,267.79h6.8M400.32,263.40v8M396.92,267.40h6.8M401.00,263.00v8M397.60,267.00h6.8M401.69,262.61v8M398.29,266.61h6.8M402.37,262.19v8M398.97,266.19h6.8M403.05,261.74v8M399.65,265.74h6.8M403.73,261.23v8M400.33,265.23h6.8M404.41,260.64v8M401.01,264.64h6.8M405.10,259.96v8M401.70,263.96h6.8M405.78,259.17v8M402.38,263.17h6.8M406.46,258.27v8M403.06,262.27h6.8M407.14,257.24v8M403.74,261.24h6.8M407.83,256.08v8M404.43,260.08h6.8M408.51,254.79v8M405.11,258.79h6.8M409.19,253.40v8M405.79,257.40h6.8M409.87,251.95v8M406.47,255.95h6.8M410.55,250.47v8M407.15,254.47h6.8M411.24,248.97v8M407.84,252.97h6.8M411.92,247.49v8M408.52,251.49h6.8M412.60,246.05v8M409.20,250.05h6.8M413.28,244.69v8M409.88,248.69h6.8M413.97,243.42v8M410.57,247.42h6.8M414.65,242.23v8M411.25,246.23h6.8M415.33,241.10v8M411.93,245.10h6.8M416.01,240.04v8M412.61,244.04h6.8M416.69,239.02v8M413.29,243.02h6.8M417.38,238.06v8M413.98,242.06h6.8M418.06,237.15v8M414.66,241.15h6.8M418.74,236.28v8M415.34,240.28h6.8M419.42,235.45v8M416.02,239.45h6.8M420.11,234.67v8M416.71,238.67h6.8M420.79,233.96v8M417.39,237.96h6.8M421.47,233.31v8M418.07,237.31h6.8M422.15,232.71v8M418.75,236.71h6.8M422.83,232.15v8M419.43,236.15h6.8M423.52,231.63v8M420.12,235.63h6.8M424.20,231.14v8M420.80,235.14h6.8M424.88,230.70v8M421.48,234.70h6.8M425.56,230.31v8M422.16,234.31h6.8M426.25,229.96v8M422.85,233.96h6.8M426.93,229.65v8M423.53,233.65h6.8M427.61,229.38v8M424.21,233.38h6.8M428.29,229.14v8M424.89,233.14h6.8M428.97,228.91v8M425.57,232.91h6.8M429.66,228.70v8M426.26,232.70h6.8M430.34,228.51v8M426.94,232.51h6.8M431.02,228.32v8M427.62,232.32h6.8M431.70,228.13v8M428.30,232.13h6.8M432.39,227.95v8M428.99,231.95h6.8M433.07,227.77v8M429.67,231.77h6.8M433.75,227.60v8M430.35,231.60h6.8M434.43,227.43v8M431.03,231.43h6.8M435.11,227.27v8M431.71,231.27h6.8M435.80,227.11v8M432.40,231.11h6.8M436.48,226.96v8M433.08,230.96h6.8M437.16,226.81v8M433.76,230.81h6.8M437.84,226.66v8M434.44,230.66h6.8M438.53,226.52v8M435.13,230.52h6.8M439.21,226.38v8M435.81,230.38h6.8M439.89,226.24v8M436.49,230.24h6.8M440.57,226.11v8M437.17,230.11h6.8M441.25,225.99v8M437.85,229.99h6.8M441.94,225.87v8M438.54,229.87h6.8M442.62,225.75v8M439.22,229.75h6.8M443.30,225.64v8M439.90,229.64h6.8M443.98,225.53v8M440.58,229.53h6.8M444.67,225.43v8M441.27,229.43h6.8M445.35,225.32v8M441.95,229.32h6.8M446.03,225.22v8M442.63,229.22h6.8M446.71,225.12v8M443.31,229.12h6.8M447.39,225.02v8M443.99,229.02h6.8M448.08,224.92v8M444.68,228.92h6.8M448.76,224.81v8M445.36,228.81h6.8M449.44,224.70v8M446.04,228.70h6.8M450.12,224.59v8M446.72,228.59h6.8M450.81,224.48v8M447.41,228.48h6.8M451.49,224.37v8M448.09,228.37h6.8M452.17,224.26v8M448.77,228.26h6.8M452.85,224.15v8M449.45,228.15h6.8M453.53,224.04v8M450.13,228.04h6.8M454.22,223.93v8M450.82,227.93h6.8M454.90,223.82v8M451.50,227.82h6.8M455.58,223.71v8M452.18,227.71h6.8M456.26,223.60v8M452.86,227.60h6.8M456.95,223.48v8M453.55,227.48h6.8M457.63,223.37v8M454.23,227.37h6.8M458.31,223.25v8M454.91,227.25h6.8M458.99,223.12v8M455.59,227.12h6.8M459.67,223.00v8M456.27,227.00h6.8M460.36,222.87v8M456.96,226.87h6.8M461.04,222.73v8M457.64,226.73h6.8M461.72,222.59v8M458.32,226.59h6.8M462.40,222.45v8M459.00,226.45h6.8M463.09,222.30v8M459.69,226.30h6.8M463.77,222.14v8M460.37,226.14h6.8M464.45,221.97v8M461.05,225.97h6.8M465.13,221.80v8M461.73,225.80h6.8M465.81,221.61v8M462.41,225.61h6.8M466.50,221.42v8M463.10,225.42h6.8M467.18,221.21v8M463.78,225.21h6.8M467.86,221.01v8M464.46,225.01h6.8M468.54,220.80v8M465.14,224.80h6.8M469.23,220.58v8M465.83,224.58h6.8M469.91,220.37v8M466.51,224.37h6.8M470.59,220.15v8M467.19,224.15h6.8M471.27,219.94v8M467.87,223.94h6.8M471.95,219.73v8M468.55,223.73h6.8M472.64,219.52v8M469.24,223.52h6.8M473.32,219.30v8M469.92,223.30h6.8M474.00,219.09v8M470.60,223.09h6.8M474.68,218.88v8M471.28,222.88h6.8M475.37,218.66v8M471.97,222.66h6.8M476.05,218.43v8M472.65,222.43h6.8M476.73,218.20v8M473.33,222.20h6.8M477.41,217.96v8M474.01,221.96h6.8M478.09,217.71v8M474.69,221.71h6.8M478.78,217.46v8M475.38,221.46h6.8M479.46,217.19v8M476.06,221.19h6.8M480.14,216.91v8M476.74,220.91h6.8M480.82,216.63v8M477.42,220.63h6.8M481.51,216.33v8M478.11,220.33h6.8M482.19,216.02v8M478.79,220.02h6.8M482.87,215.69v8M479.47,219.69h6.8M483.55,215.33v8M480.15,219.33h6.8M484.23,214.94v8M480.83,218.94h6.8M484.92,214.50v8M481.52,218.50h6.8M485.60,213.99v8M482.20,217.99h6.8M486.28,213.41v8M482.88,217.41h6.8M486.96,212.74v8M483.56,216.74h6.8M487.65,212.00v8M484.25,216.00h6.8M488.33,211.22v8M484.93,215.22h6.8M489.01,210.41v8M485.61,214.41h6.8M489.69,209.58v8M486.29,213.58h6.8M490.37,208.72v8M486.97,212.72h6.8M491.06,207.83v8M487.66,211.83h6.8M491.74,206.93v8M488.34,210.93h6.8M492.42,206.01v8M489.02,210.01h6.8M493.10,205.11v8M489.70,209.11h6.8M493.79,204.24v8M490.39,208.24h6.8M494.47,203.41v8M491.07,207.41h6.8M495.15,202.61v8M491.75,206.61h6.8M495.83,201.84v8M492.43,205.84h6.8M496.51,201.09v8M493.11,205.09h6.8M497.20,200.36v8M493.80,204.36h6.8M497.88,199.65v8M494.48,203.65h6.8M498.56,198.94v8M495.16,202.94h6.8M499.24,198.23v8M495.84,202.23h6.8M499.93,197.53v8M496.53,201.53h6.8M500.61,196.83v8M497.21,200.83h6.8M501.29,196.14v8M497.89,200.14h6.8M501.97,195.46v8M498.57,199.46h6.8M502.65,194.79v8M499.25,198.79h6.8M503.34,194.15v8M499.94,198.15h6.8M504.02,193.55v8M500.62,197.55h6.8M504.70,192.98v8M501.30,196.98h6.8M505.38,192.44v8M501.98,196.44h6.8M506.07,191.93v8M502.67,195.93h6.8M506.75,191.45v8M503.35,195.45h6.8M507.43,190.97v8M504.03,194.97h6.8M508.11,190.49v8M504.71,194.49h6.8M508.79,190.01v8M505.39,194.01h6.8M509.48,189.54v8M506.08,193.54h6.8M510.16,189.15v8M506.76,193.15h6.8" stroke="#1d2f3f" stroke-width="1.5" fill="none"/><polyline points="387.50,270.85 388.00,270.67 388.50,270.46 389.00,270.24 389.50,270.02 390.00,269.80 390.50,269.59 391.00,269.37 391.50,269.17 392.00,268.97 392.50,268.77 393.00,268.57 393.50,268.37 394.00,268.16 394.50,267.95 395.00,267.73 395.50,267.49 396.00,267.25 396.50,266.99 397.00,266.72 397.50,266.44 398.00,266.14 398.50,265.85 399.00,265.54 399.50,265.23 400.00,264.92 400.50,264.60 401.00,264.28 401.50,263.94 402.00,263.60 402.50,263.24 403.00,262.86 403.50,262.45 404.00,262.01 404.50,261.54 405.00,261.02 405.50,260.48 406.00,259.90 406.50,259.30 407.00,258.67 407.50,258.02 408.00,257.37 408.50,256.70 409.00,256.02 409.50,255.34 410.00,254.64 410.50,253.94 411.00,253.23 411.50,252.52 412.00,251.79 412.50,251.06 413.00,250.33 413.50,249.59 414.00,248.85 414.50,248.11 415.00,247.37 415.50,246.63 416.00,245.90 416.50,245.18 417.00,244.47 417.50,243.76 418.00,243.06 418.50,242.37 419.00,241.69 419.50,241.02 420.00,240.35 420.50,239.70 421.00,239.05 421.50,238.42 422.00,237.81 422.50,237.22 423.00,236.66 423.50,236.12 424.00,235.62 424.50,235.15 425.00,234.71 425.50,234.30 426.00,233.91 426.50,233.55 427.00,233.20 427.50,232.86 428.00,232.54 428.50,232.24 429.00,231.95 429.50,231.68 430.00,231.43 430.50,231.20 431.00,230.99 431.50,230.80 432.00,230.62 432.50,230.46 433.00,230.31 433.50,230.17 434.00,230.04 434.50,229.90 435.00,229.78 435.50,229.65 436.00,229.52 436.50,229.40 437.00,229.28 437.50,229.17 438.00,229.06 438.50,228.95 439.00,228.85 439.50,228.76 440.00,228.67 440.50,228.59 441.00,228.51 441.50,228.43 442.00,228.36 442.50,228.28 443.00,228.21 443.50,228.14 444.00,228.07 444.50,228.00 445.00,227.93 445.50,227.86 446.00,227.79 446.50,227.72 447.00,227.65 447.50,227.58 448.00,227.51 448.50,227.43 449.00,227.36 449.50,227.29 450.00,227.21 450.50,227.14 451.00,227.06 451.50,226.98 452.00,226.90 452.50,226.83 453.00,226.75 453.50,226.67 454.00,226.59 454.50,226.51 455.00,226.43 455.50,226.36 456.00,226.28 456.50,226.20 457.00,226.12 457.50,226.04 458.00,225.96 458.50,225.88 459.00,225.80 459.50,225.72 460.00,225.64 460.50,225.56 461.00,225.48 461.50,225.40 462.00,225.32 462.50,225.24 463.00,225.16 463.50,225.07 464.00,224.99 464.50,224.91 465.00,224.83 465.50,224.75 466.00,224.66 466.50,224.58 467.00,224.50 467.50,224.42 468.00,224.34 468.50,224.25 469.00,224.17 469.50,224.09 470.00,224.00 470.50,223.92 471.00,223.83 471.50,223.74 472.00,223.65 472.50,223.55 473.00,223.45 473.50,223.34 474.00,223.23 474.50,223.12 475.00,223.00 475.50,222.88 476.00,222.75 476.50,222.63 477.00,222.50 477.50,222.37 478.00,222.23 478.50,222.09 479.00,221.95 479.50,221.79 480.00,221.61 480.50,221.42 481.00,221.20 481.50,220.96 482.00,220.69 482.50,220.39 483.00,220.07 483.50,219.72 484.00,219.35 484.50,218.97 485.00,218.57 485.50,218.16 486.00,217.74 486.50,217.31 487.00,216.86 487.50,216.39 488.00,215.91 488.50,215.42 489.00,214.90 489.50,214.37 490.00,213.82 490.50,213.26 491.00,212.69 491.50,212.11 492.00,211.52 492.50,210.93 493.00,210.33 493.50,209.73 494.00,209.11 494.50,208.49 495.00,207.86 495.50,207.22 496.00,206.57 496.50,205.92 497.00,205.26 497.50,204.61 498.00,203.95 498.50,203.31 499.00,202.67 499.50,202.05 500.00,201.44 500.50,200.86 501.00,200.30 501.50,199.77 502.00,199.27 502.50,198.78 503.00,198.32 503.50,197.87 504.00,197.43 504.50,197.01 505.00,196.58 505.50,196.16 506.00,195.74 506.50,195.33 507.00,194.91 507.50,194.50 508.00,194.10 508.50,193.71 509.00,193.34 509.50,193.00 510.00,192.69 510.50,192.41 511.00,192.18" fill="none" stroke="#e8604c" stroke-width="3.0" stroke-linejoin="round"/></g>
<path d="M387.70,232.40h1.6M510.50,232.40h-1.6M449.10,272.90v-1.6M449.10,191.90v1.6" stroke="#262626" stroke-width="1"/>
<rect x="387.70" y="191.90" width="122.80" height="81.00" fill="none" stroke="#262626" stroke-width="1.90"/>
<g transform="translate(378.69,196.50) scale(0.9451,1)" fill="#262626" ><text x="0.00" y="0.00" font-size="13.00" font-weight="normal" font-style="normal">1</text></g>
<g transform="translate(374.38,236.90) scale(1.0853,1)" fill="#262626" ><text x="0.00" y="0.00" font-size="13.00" font-weight="normal" font-style="normal">.5</text></g>
<g transform="translate(377.17,276.90) scale(1.2088,1)" fill="#262626" ><text x="0.00" y="0.00" font-size="13.00" font-weight="normal" font-style="normal">0</text></g>
<g transform="translate(383.84,289.90) scale(1.0826,1)" fill="#262626" ><text x="0.00" y="0.00" font-size="13.00" font-weight="normal" font-style="normal">0</text><text x="6.50" y="0.00" font-size="13.00" font-weight="normal" font-style="normal">°</text></g>
<g transform="translate(441.09,289.90) scale(1.0490,1)" fill="#262626" ><text x="0.00" y="0.00" font-size="13.00" font-weight="normal" font-style="normal">90</text><text x="13.00" y="0.00" font-size="13.00" font-weight="normal" font-style="normal">°</text></g>
<g transform="translate(498.08,289.90) scale(1.0446,1)" fill="#262626" ><text x="0.00" y="0.00" font-size="13.00" font-weight="normal" font-style="normal">180</text><text x="19.50" y="0.00" font-size="13.00" font-weight="normal" font-style="normal">°</text></g>
<line x1="610.85" y1="191.85" x2="610.85" y2="272.90" stroke="#dcdcdc" stroke-width="1.6"/>
<line x1="549.70" y1="205.08" x2="672.00" y2="205.08" stroke="#dcdcdc" stroke-width="1.6"/>
<line x1="549.70" y1="260.28" x2="672.00" y2="260.28" stroke="#dcdcdc" stroke-width="1.6"/>
<clipPath id="r549_191"><rect x="549.70" y="191.85" width="122.30" height="81.05"/></clipPath>
<g clip-path="url(#r549_191)" fill="none"><path d="M550.00,224.92v16.00M546.60,225.42h6.80M546.60,240.42h6.80M550.68,225.27v16.00M547.28,225.77h6.80M547.28,240.77h6.80M551.36,225.64v16.00M547.96,226.14h6.80M547.96,241.14h6.80M552.04,226.02v16.00M548.64,226.52h6.80M548.64,241.52h6.80M552.72,226.40v16.00M549.32,226.90h6.80M549.32,241.90h6.80M553.40,226.78v16.00M550.00,227.28h6.80M550.00,242.28h6.80M554.08,227.17v16.00M550.68,227.67h6.80M550.68,242.67h6.80M554.76,227.54v16.00M551.36,228.04h6.80M551.36,243.04h6.80M555.44,227.88v16.00M552.04,228.38h6.80M552.04,243.38h6.80M556.12,228.13v16.00M552.72,228.63h6.80M552.72,243.63h6.80M556.80,228.30v16.00M553.40,228.80h6.80M553.40,243.80h6.80M557.48,228.41v16.00M554.08,228.91h6.80M554.08,243.91h6.80M558.16,228.50v16.00M554.76,229.00h6.80M554.76,244.00h6.80M558.84,228.60v16.00M555.44,229.10h6.80M555.44,244.10h6.80M559.52,228.69v16.00M556.12,229.19h6.80M556.12,244.19h6.80M560.20,228.78v16.00M556.80,229.28h6.80M556.80,244.28h6.80M560.88,228.88v16.00M557.48,229.38h6.80M557.48,244.38h6.80M561.56,228.98v16.00M558.16,229.48h6.80M558.16,244.48h6.80M562.24,229.09v16.00M558.84,229.59h6.80M558.84,244.59h6.80M562.92,229.21v16.00M559.52,229.71h6.80M559.52,244.71h6.80M563.60,229.32v16.00M560.20,229.82h6.80M560.20,244.82h6.80M564.28,229.44v16.00M560.88,229.94h6.80M560.88,244.94h6.80M564.96,229.54v16.00M561.56,230.04h6.80M561.56,245.04h6.80M565.64,229.60v16.00M562.24,230.10h6.80M562.24,245.10h6.80M566.32,229.50v16.00M562.92,230.00h6.80M562.92,245.00h6.80M567.00,229.19v16.00M563.60,229.69h6.80M563.60,244.69h6.80M567.68,228.70v16.00M564.28,229.20h6.80M564.28,244.20h6.80M568.36,228.14v16.00M564.96,228.64h6.80M564.96,243.64h6.80M569.04,227.54v16.00M565.64,228.04h6.80M565.64,243.04h6.80M569.72,226.83v16.00M566.32,227.33h6.80M566.32,242.33h6.80M570.40,225.88v16.00M567.00,226.38h6.80M567.00,241.38h6.80M571.08,224.63v16.00M567.68,225.13h6.80M567.68,240.13h6.80M571.76,223.21v16.00M568.36,223.71h6.80M568.36,238.71h6.80M572.44,221.85v16.00M569.04,222.35h6.80M569.04,237.35h6.80M573.12,220.76v16.00M569.72,221.26h6.80M569.72,236.26h6.80M573.80,219.97v16.00M570.40,220.47h6.80M570.40,235.47h6.80M574.48,219.37v16.00M571.08,219.87h6.80M571.08,234.87h6.80M575.16,218.85v16.00M571.76,219.35h6.80M571.76,234.35h6.80M575.84,218.43v16.00M572.44,218.93h6.80M572.44,233.93h6.80M576.52,218.19v16.00M573.12,218.69h6.80M573.12,233.69h6.80M577.20,218.11v16.00M573.80,218.61h6.80M573.80,233.61h6.80M577.88,218.13v16.00M574.48,218.63h6.80M574.48,233.63h6.80M578.56,218.18v16.00M575.16,218.68h6.80M575.16,233.68h6.80M579.24,218.26v16.00M575.84,218.76h6.80M575.84,233.76h6.80M579.92,218.43v16.00M576.52,218.93h6.80M576.52,233.93h6.80M580.60,218.75v16.00M577.20,219.25h6.80M577.20,234.25h6.80M581.28,219.21v16.00M577.88,219.71h6.80M577.88,234.71h6.80M581.96,219.75v16.00M578.56,220.25h6.80M578.56,235.25h6.80M582.64,220.31v16.00M579.24,220.81h6.80M579.24,235.81h6.80M583.32,220.87v16.00M579.92,221.37h6.80M579.92,236.37h6.80M584.00,221.44v16.00M580.60,221.94h6.80M580.60,236.94h6.80M584.68,222.03v16.00M581.28,222.53h6.80M581.28,237.53h6.80M585.36,222.66v16.00M581.96,223.16h6.80M581.96,238.16h6.80M586.04,223.31v16.00M582.64,223.81h6.80M582.64,238.81h6.80M586.72,223.97v16.00M583.32,224.47h6.80M583.32,239.47h6.80M587.40,224.63v16.00M584.00,225.13h6.80M584.00,240.13h6.80M588.08,225.29v16.00M584.68,225.79h6.80M584.68,240.79h6.80M588.76,225.94v16.00M585.36,226.44h6.80M585.36,241.44h6.80M589.44,226.58v16.00M586.04,227.08h6.80M586.04,242.08h6.80M590.12,227.21v16.00M586.72,227.71h6.80M586.72,242.71h6.80M590.80,227.84v16.00M587.40,228.34h6.80M587.40,243.34h6.80M591.48,228.45v16.00M588.08,228.95h6.80M588.08,243.95h6.80M592.16,229.01v16.00M588.76,229.51h6.80M588.76,244.51h6.80M592.84,229.47v16.00M589.44,229.97h6.80M589.44,244.97h6.80M593.52,229.82v16.00M590.12,230.32h6.80M590.12,245.32h6.80M594.20,230.10v16.00M590.80,230.60h6.80M590.80,245.60h6.80M594.88,230.36v16.00M591.48,230.86h6.80M591.48,245.86h6.80M595.56,230.62v16.00M592.16,231.12h6.80M592.16,246.12h6.80M596.24,230.87v16.00M592.84,231.37h6.80M592.84,246.37h6.80M596.92,231.10v16.00M593.52,231.60h6.80M593.52,246.60h6.80M597.60,231.25v16.00M594.20,231.75h6.80M594.20,246.75h6.80M598.28,231.26v16.00M594.88,231.76h6.80M594.88,246.76h6.80M598.96,231.13v16.00M595.56,231.63h6.80M595.56,246.63h6.80M599.64,230.93v16.00M596.24,231.43h6.80M596.24,246.43h6.80M600.32,230.71v16.00M596.92,231.21h6.80M596.92,246.21h6.80M601.00,230.49v16.00M597.60,230.99h6.80M597.60,245.99h6.80M601.68,230.26v16.00M598.28,230.76h6.80M598.28,245.76h6.80M602.36,230.03v16.00M598.96,230.53h6.80M598.96,245.53h6.80M603.04,229.76v16.00M599.64,230.26h6.80M599.64,245.26h6.80M603.72,229.44v16.00M600.32,229.94h6.80M600.32,244.94h6.80M604.40,229.08v16.00M601.00,229.58h6.80M601.00,244.58h6.80M605.08,228.72v16.00M601.68,229.22h6.80M601.68,244.22h6.80M605.76,228.34v16.00M602.36,228.84h6.80M602.36,243.84h6.80M606.44,227.97v16.00M603.04,228.47h6.80M603.04,243.47h6.80M607.12,227.60v16.00M603.72,228.10h6.80M603.72,243.10h6.80M607.80,227.22v16.00M604.40,227.72h6.80M604.40,242.72h6.80M608.48,226.83v16.00M605.08,227.33h6.80M605.08,242.33h6.80M609.16,226.42v16.00M605.76,226.92h6.80M605.76,241.92h6.80M609.84,226.00v16.00M606.44,226.50h6.80M606.44,241.50h6.80M610.52,225.58v16.00M607.12,226.08h6.80M607.12,241.08h6.80M611.20,225.18v16.00M607.80,225.68h6.80M607.80,240.68h6.80M611.88,224.80v16.00M608.48,225.30h6.80M608.48,240.30h6.80M612.56,224.47v16.00M609.16,224.97h6.80M609.16,239.97h6.80M613.24,224.15v16.00M609.84,224.65h6.80M609.84,239.65h6.80M613.92,223.83v16.00M610.52,224.33h6.80M610.52,239.33h6.80M614.60,223.52v16.00M611.20,224.02h6.80M611.20,239.02h6.80M615.28,223.21v16.00M611.88,223.71h6.80M611.88,238.71h6.80M615.96,222.90v16.00M612.56,223.40h6.80M612.56,238.40h6.80M616.64,222.60v16.00M613.24,223.10h6.80M613.24,238.10h6.80M617.32,222.32v16.00M613.92,222.82h6.80M613.92,237.82h6.80M618.00,222.04v16.00M614.60,222.54h6.80M614.60,237.54h6.80M618.68,221.77v16.00M615.28,222.27h6.80M615.28,237.27h6.80M619.36,221.50v16.00M615.96,222.00h6.80M615.96,237.00h6.80M620.04,221.22v16.00M616.64,221.72h6.80M616.64,236.72h6.80M620.72,220.95v16.00M617.32,221.45h6.80M617.32,236.45h6.80M621.40,220.68v16.00M618.00,221.18h6.80M618.00,236.18h6.80M622.08,220.41v16.00M618.68,220.91h6.80M618.68,235.91h6.80M622.76,220.14v16.00M619.36,220.64h6.80M619.36,235.64h6.80M623.44,219.88v16.00M620.04,220.38h6.80M620.04,235.38h6.80M624.12,219.61v16.00M620.72,220.11h6.80M620.72,235.11h6.80M624.80,219.36v16.00M621.40,219.86h6.80M621.40,234.86h6.80M625.48,219.10v16.00M622.08,219.60h6.80M622.08,234.60h6.80M626.16,218.84v16.00M622.76,219.34h6.80M622.76,234.34h6.80M626.84,218.58v16.00M623.44,219.08h6.80M623.44,234.08h6.80M627.52,218.33v16.00M624.12,218.83h6.80M624.12,233.83h6.80M628.20,218.07v16.00M624.80,218.57h6.80M624.80,233.57h6.80M628.88,217.83v16.00M625.48,218.33h6.80M625.48,233.33h6.80M629.56,217.65v16.00M626.16,218.15h6.80M626.16,233.15h6.80M630.24,217.53v16.00M626.84,218.03h6.80M626.84,233.03h6.80M630.92,217.48v16.00M627.52,217.98h6.80M627.52,232.98h6.80M631.60,217.46v16.00M628.20,217.96h6.80M628.20,232.96h6.80M632.28,217.45v16.00M628.88,217.95h6.80M628.88,232.95h6.80M632.96,217.44v16.00M629.56,217.94h6.80M629.56,232.94h6.80M633.64,217.44v16.00M630.24,217.94h6.80M630.24,232.94h6.80M634.32,217.48v16.00M630.92,217.98h6.80M630.92,232.98h6.80M635.00,217.61v16.00M631.60,218.11h6.80M631.60,233.11h6.80M635.68,217.87v16.00M632.28,218.37h6.80M632.28,233.37h6.80M636.36,218.21v16.00M632.96,218.71h6.80M632.96,233.71h6.80M637.04,218.57v16.00M633.64,219.07h6.80M633.64,234.07h6.80M637.72,218.94v16.00M634.32,219.44h6.80M634.32,234.44h6.80M638.40,219.32v16.00M635.00,219.82h6.80M635.00,234.82h6.80M639.08,219.71v16.00M635.68,220.21h6.80M635.68,235.21h6.80M639.76,220.16v16.00M636.36,220.66h6.80M636.36,235.66h6.80M640.44,220.76v16.00M637.04,221.26h6.80M637.04,236.26h6.80M641.12,221.50v16.00M637.72,222.00h6.80M637.72,237.00h6.80M641.80,222.34v16.00M638.40,222.84h6.80M638.40,237.84h6.80M642.48,223.19v16.00M639.08,223.69h6.80M639.08,238.69h6.80M643.16,224.06v16.00M639.76,224.56h6.80M639.76,239.56h6.80M643.84,224.91v16.00M640.44,225.41h6.80M640.44,240.41h6.80M644.52,225.73v16.00M641.12,226.23h6.80M641.12,241.23h6.80M645.20,226.44v16.00M641.80,226.94h6.80M641.80,241.94h6.80M645.88,226.97v16.00M642.48,227.47h6.80M642.48,242.47h6.80M646.56,227.34v16.00M643.16,227.84h6.80M643.16,242.84h6.80M647.24,227.63v16.00M643.84,228.13h6.80M643.84,243.13h6.80M647.92,227.90v16.00M644.52,228.40h6.80M644.52,243.40h6.80M648.60,228.15v16.00M645.20,228.65h6.80M645.20,243.65h6.80M649.28,228.35v16.00M645.88,228.85h6.80M645.88,243.85h6.80M649.96,228.45v16.00M646.56,228.95h6.80M646.56,243.95h6.80M650.64,228.49v16.00M647.24,228.99h6.80M647.24,243.99h6.80M651.32,228.50v16.00M647.92,229.00h6.80M647.92,244.00h6.80M652.00,228.50v16.00M648.60,229.00h6.80M648.60,244.00h6.80M652.68,228.50v16.00M649.28,229.00h6.80M649.28,244.00h6.80M653.36,228.49v16.00M649.96,228.99h6.80M649.96,243.99h6.80M654.04,228.46v16.00M650.64,228.96h6.80M650.64,243.96h6.80M654.72,228.38v16.00M651.32,228.88h6.80M651.32,243.88h6.80M655.40,228.24v16.00M652.00,228.74h6.80M652.00,243.74h6.80M656.08,228.05v16.00M652.68,228.55h6.80M652.68,243.55h6.80M656.76,227.85v16.00M653.36,228.35h6.80M653.36,243.35h6.80M657.44,227.64v16.00M654.04,228.14h6.80M654.04,243.14h6.80M658.12,227.43v16.00M654.72,227.93h6.80M654.72,242.93h6.80M658.80,227.20v16.00M655.40,227.70h6.80M655.40,242.70h6.80M659.48,226.86v16.00M656.08,227.36h6.80M656.08,242.36h6.80M660.16,226.29v16.00M656.76,226.79h6.80M656.76,241.79h6.80M660.84,225.50v16.00M657.44,226.00h6.80M657.44,241.00h6.80M661.52,224.57v16.00M658.12,225.07h6.80M658.12,240.07h6.80M662.20,223.61v16.00M658.80,224.11h6.80M658.80,239.11h6.80M662.88,222.68v16.00M659.48,223.18h6.80M659.48,238.18h6.80M663.56,221.91v16.00M660.16,222.41h6.80M660.16,237.41h6.80M664.24,221.39v16.00M660.84,221.89h6.80M660.84,236.89h6.80M664.92,221.10v16.00M661.52,221.60h6.80M661.52,236.60h6.80M665.60,220.92v16.00M662.20,221.42h6.80M662.20,236.42h6.80M666.28,220.78v16.00M662.88,221.28h6.80M662.88,236.28h6.80M666.96,220.63v16.00M663.56,221.13h6.80M663.56,236.13h6.80M667.64,220.49v16.00M664.24,220.99h6.80M664.24,235.99h6.80M668.32,220.36v16.00M664.92,220.86h6.80M664.92,235.86h6.80M669.00,220.26v16.00M665.60,220.76h6.80M665.60,235.76h6.80M669.68,220.19v16.00M666.28,220.69h6.80M666.28,235.69h6.80M670.36,220.16v16.00M666.96,220.66h6.80M666.96,235.66h6.80M671.04,220.13v16.00M667.64,220.63h6.80M667.64,235.63h6.80M671.72,220.11v16.00M668.32,220.61h6.80M668.32,235.61h6.80" stroke="#5ab1e3" stroke-width="1.1"/><path d="M550.00,227.32v11.20M547.20,227.82h5.60M547.20,238.02h5.60M550.68,227.67v11.20M547.88,228.17h5.60M547.88,238.37h5.60M551.36,228.04v11.20M548.56,228.54h5.60M548.56,238.74h5.60M552.04,228.42v11.20M549.24,228.92h5.60M549.24,239.12h5.60M552.72,228.80v11.20M549.92,229.30h5.60M549.92,239.50h5.60M553.40,229.18v11.20M550.60,229.68h5.60M550.60,239.88h5.60M554.08,229.57v11.20M551.28,230.07h5.60M551.28,240.27h5.60M554.76,229.94v11.20M551.96,230.44h5.60M551.96,240.64h5.60M555.44,230.28v11.20M552.64,230.78h5.60M552.64,240.98h5.60M556.12,230.53v11.20M553.32,231.03h5.60M553.32,241.23h5.60M556.80,230.70v11.20M554.00,231.20h5.60M554.00,241.40h5.60M557.48,230.81v11.20M554.68,231.31h5.60M554.68,241.51h5.60M558.16,230.90v11.20M555.36,231.40h5.60M555.36,241.60h5.60M558.84,231.00v11.20M556.04,231.50h5.60M556.04,241.70h5.60M559.52,231.09v11.20M556.72,231.59h5.60M556.72,241.79h5.60M560.20,231.18v11.20M557.40,231.68h5.60M557.40,241.88h5.60M560.88,231.28v11.20M558.08,231.78h5.60M558.08,241.98h5.60M561.56,231.38v11.20M558.76,231.88h5.60M558.76,242.08h5.60M562.24,231.49v11.20M559.44,231.99h5.60M559.44,242.19h5.60M562.92,231.61v11.20M560.12,232.11h5.60M560.12,242.31h5.60M563.60,231.72v11.20M560.80,232.22h5.60M560.80,242.42h5.60M564.28,231.84v11.20M561.48,232.34h5.60M561.48,242.54h5.60M564.96,231.94v11.20M562.16,232.44h5.60M562.16,242.64h5.60M565.64,232.00v11.20M562.84,232.50h5.60M562.84,242.70h5.60M566.32,231.90v11.20M563.52,232.40h5.60M563.52,242.60h5.60M567.00,231.59v11.20M564.20,232.09h5.60M564.20,242.29h5.60M567.68,231.10v11.20M564.88,231.60h5.60M564.88,241.80h5.60M568.36,230.54v11.20M565.56,231.04h5.60M565.56,241.24h5.60M569.04,229.94v11.20M566.24,230.44h5.60M566.24,240.64h5.60M569.72,229.23v11.20M566.92,229.73h5.60M566.92,239.93h5.60M570.40,228.28v11.20M567.60,228.78h5.60M567.60,238.98h5.60M571.08,227.03v11.20M568.28,227.53h5.60M568.28,237.73h5.60M571.76,225.61v11.20M568.96,226.11h5.60M568.96,236.31h5.60M572.44,224.25v11.20M569.64,224.75h5.60M569.64,234.95h5.60M573.12,223.16v11.20M570.32,223.66h5.60M570.32,233.86h5.60M573.80,222.37v11.20M571.00,222.87h5.60M571.00,233.07h5.60M574.48,221.77v11.20M571.68,222.27h5.60M571.68,232.47h5.60M575.16,221.25v11.20M572.36,221.75h5.60M572.36,231.95h5.60M575.84,220.83v11.20M573.04,221.33h5.60M573.04,231.53h5.60M576.52,220.59v11.20M573.72,221.09h5.60M573.72,231.29h5.60M577.20,220.51v11.20M574.40,221.01h5.60M574.40,231.21h5.60M577.88,220.53v11.20M575.08,221.03h5.60M575.08,231.23h5.60M578.56,220.58v11.20M575.76,221.08h5.60M575.76,231.28h5.60M579.24,220.66v11.20M576.44,221.16h5.60M576.44,231.36h5.60M579.92,220.83v11.20M577.12,221.33h5.60M577.12,231.53h5.60M580.60,221.15v11.20M577.80,221.65h5.60M577.80,231.85h5.60M581.28,221.61v11.20M578.48,222.11h5.60M578.48,232.31h5.60M581.96,222.15v11.20M579.16,222.65h5.60M579.16,232.85h5.60M582.64,222.71v11.20M579.84,223.21h5.60M579.84,233.41h5.60M583.32,223.27v11.20M580.52,223.77h5.60M580.52,233.97h5.60M584.00,223.84v11.20M581.20,224.34h5.60M581.20,234.54h5.60M584.68,224.43v11.20M581.88,224.93h5.60M581.88,235.13h5.60M585.36,225.06v11.20M582.56,225.56h5.60M582.56,235.76h5.60M586.04,225.71v11.20M583.24,226.21h5.60M583.24,236.41h5.60M586.72,226.37v11.20M583.92,226.87h5.60M583.92,237.07h5.60M587.40,227.03v11.20M584.60,227.53h5.60M584.60,237.73h5.60M588.08,227.69v11.20M585.28,228.19h5.60M585.28,238.39h5.60M588.76,228.34v11.20M585.96,228.84h5.60M585.96,239.04h5.60M589.44,228.98v11.20M586.64,229.48h5.60M586.64,239.68h5.60M590.12,229.61v11.20M587.32,230.11h5.60M587.32,240.31h5.60M590.80,230.24v11.20M588.00,230.74h5.60M588.00,240.94h5.60M591.48,230.85v11.20M588.68,231.35h5.60M588.68,241.55h5.60M592.16,231.41v11.20M589.36,231.91h5.60M589.36,242.11h5.60M592.84,231.87v11.20M590.04,232.37h5.60M590.04,242.57h5.60M593.52,232.22v11.20M590.72,232.72h5.60M590.72,242.92h5.60M594.20,232.50v11.20M591.40,233.00h5.60M591.40,243.20h5.60M594.88,232.76v11.20M592.08,233.26h5.60M592.08,243.46h5.60M595.56,233.02v11.20M592.76,233.52h5.60M592.76,243.72h5.60M596.24,233.27v11.20M593.44,233.77h5.60M593.44,243.97h5.60M596.92,233.50v11.20M594.12,234.00h5.60M594.12,244.20h5.60M597.60,233.65v11.20M594.80,234.15h5.60M594.80,244.35h5.60M598.28,233.66v11.20M595.48,234.16h5.60M595.48,244.36h5.60M598.96,233.53v11.20M596.16,234.03h5.60M596.16,244.23h5.60M599.64,233.33v11.20M596.84,233.83h5.60M596.84,244.03h5.60M600.32,233.11v11.20M597.52,233.61h5.60M597.52,243.81h5.60M601.00,232.89v11.20M598.20,233.39h5.60M598.20,243.59h5.60M601.68,232.66v11.20M598.88,233.16h5.60M598.88,243.36h5.60M602.36,232.43v11.20M599.56,232.93h5.60M599.56,243.13h5.60M603.04,232.16v11.20M600.24,232.66h5.60M600.24,242.86h5.60M603.72,231.84v11.20M600.92,232.34h5.60M600.92,242.54h5.60M604.40,231.48v11.20M601.60,231.98h5.60M601.60,242.18h5.60M605.08,231.12v11.20M602.28,231.62h5.60M602.28,241.82h5.60M605.76,230.74v11.20M602.96,231.24h5.60M602.96,241.44h5.60M606.44,230.37v11.20M603.64,230.87h5.60M603.64,241.07h5.60M607.12,230.00v11.20M604.32,230.50h5.60M604.32,240.70h5.60M607.80,229.62v11.20M605.00,230.12h5.60M605.00,240.32h5.60M608.48,229.23v11.20M605.68,229.73h5.60M605.68,239.93h5.60M609.16,228.82v11.20M606.36,229.32h5.60M606.36,239.52h5.60M609.84,228.40v11.20M607.04,228.90h5.60M607.04,239.10h5.60M610.52,227.98v11.20M607.72,228.48h5.60M607.72,238.68h5.60M611.20,227.58v11.20M608.40,228.08h5.60M608.40,238.28h5.60M611.88,227.20v11.20M609.08,227.70h5.60M609.08,237.90h5.60M612.56,226.87v11.20M609.76,227.37h5.60M609.76,237.57h5.60M613.24,226.55v11.20M610.44,227.05h5.60M610.44,237.25h5.60M613.92,226.23v11.20M611.12,226.73h5.60M611.12,236.93h5.60M614.60,225.92v11.20M611.80,226.42h5.60M611.80,236.62h5.60M615.28,225.61v11.20M612.48,226.11h5.60M612.48,236.31h5.60M615.96,225.30v11.20M613.16,225.80h5.60M613.16,236.00h5.60M616.64,225.00v11.20M613.84,225.50h5.60M613.84,235.70h5.60M617.32,224.72v11.20M614.52,225.22h5.60M614.52,235.42h5.60M618.00,224.44v11.20M615.20,224.94h5.60M615.20,235.14h5.60M618.68,224.17v11.20M615.88,224.67h5.60M615.88,234.87h5.60M619.36,223.90v11.20M616.56,224.40h5.60M616.56,234.60h5.60M620.04,223.62v11.20M617.24,224.12h5.60M617.24,234.32h5.60M620.72,223.35v11.20M617.92,223.85h5.60M617.92,234.05h5.60M621.40,223.08v11.20M618.60,223.58h5.60M618.60,233.78h5.60M622.08,222.81v11.20M619.28,223.31h5.60M619.28,233.51h5.60M622.76,222.54v11.20M619.96,223.04h5.60M619.96,233.24h5.60M623.44,222.28v11.20M620.64,222.78h5.60M620.64,232.98h5.60M624.12,222.01v11.20M621.32,222.51h5.60M621.32,232.71h5.60M624.80,221.76v11.20M622.00,222.26h5.60M622.00,232.46h5.60M625.48,221.50v11.20M622.68,222.00h5.60M622.68,232.20h5.60M626.16,221.24v11.20M623.36,221.74h5.60M623.36,231.94h5.60M626.84,220.98v11.20M624.04,221.48h5.60M624.04,231.68h5.60M627.52,220.73v11.20M624.72,221.23h5.60M624.72,231.43h5.60M628.20,220.47v11.20M625.40,220.97h5.60M625.40,231.17h5.60M628.88,220.23v11.20M626.08,220.73h5.60M626.08,230.93h5.60M629.56,220.05v11.20M626.76,220.55h5.60M626.76,230.75h5.60M630.24,219.93v11.20M627.44,220.43h5.60M627.44,230.63h5.60M630.92,219.88v11.20M628.12,220.38h5.60M628.12,230.58h5.60M631.60,219.86v11.20M628.80,220.36h5.60M628.80,230.56h5.60M632.28,219.85v11.20M629.48,220.35h5.60M629.48,230.55h5.60M632.96,219.84v11.20M630.16,220.34h5.60M630.16,230.54h5.60M633.64,219.84v11.20M630.84,220.34h5.60M630.84,230.54h5.60M634.32,219.88v11.20M631.52,220.38h5.60M631.52,230.58h5.60M635.00,220.01v11.20M632.20,220.51h5.60M632.20,230.71h5.60M635.68,220.27v11.20M632.88,220.77h5.60M632.88,230.97h5.60M636.36,220.61v11.20M633.56,221.11h5.60M633.56,231.31h5.60M637.04,220.97v11.20M634.24,221.47h5.60M634.24,231.67h5.60M637.72,221.34v11.20M634.92,221.84h5.60M634.92,232.04h5.60M638.40,221.72v11.20M635.60,222.22h5.60M635.60,232.42h5.60M639.08,222.11v11.20M636.28,222.61h5.60M636.28,232.81h5.60M639.76,222.56v11.20M636.96,223.06h5.60M636.96,233.26h5.60M640.44,223.16v11.20M637.64,223.66h5.60M637.64,233.86h5.60M641.12,223.90v11.20M638.32,224.40h5.60M638.32,234.60h5.60M641.80,224.74v11.20M639.00,225.24h5.60M639.00,235.44h5.60M642.48,225.59v11.20M639.68,226.09h5.60M639.68,236.29h5.60M643.16,226.46v11.20M640.36,226.96h5.60M640.36,237.16h5.60M643.84,227.31v11.20M641.04,227.81h5.60M641.04,238.01h5.60M644.52,228.13v11.20M641.72,228.63h5.60M641.72,238.83h5.60M645.20,228.84v11.20M642.40,229.34h5.60M642.40,239.54h5.60M645.88,229.37v11.20M643.08,229.87h5.60M643.08,240.07h5.60M646.56,229.74v11.20M643.76,230.24h5.60M643.76,240.44h5.60M647.24,230.03v11.20M644.44,230.53h5.60M644.44,240.73h5.60M647.92,230.30v11.20M645.12,230.80h5.60M645.12,241.00h5.60M648.60,230.55v11.20M645.80,231.05h5.60M645.80,241.25h5.60M649.28,230.75v11.20M646.48,231.25h5.60M646.48,241.45h5.60M649.96,230.85v11.20M647.16,231.35h5.60M647.16,241.55h5.60M650.64,230.89v11.20M647.84,231.39h5.60M647.84,241.59h5.60M651.32,230.90v11.20M648.52,231.40h5.60M648.52,241.60h5.60M652.00,230.90v11.20M649.20,231.40h5.60M649.20,241.60h5.60M652.68,230.90v11.20M649.88,231.40h5.60M649.88,241.60h5.60M653.36,230.89v11.20M650.56,231.39h5.60M650.56,241.59h5.60M654.04,230.86v11.20M651.24,231.36h5.60M651.24,241.56h5.60M654.72,230.78v11.20M651.92,231.28h5.60M651.92,241.48h5.60M655.40,230.64v11.20M652.60,231.14h5.60M652.60,241.34h5.60M656.08,230.45v11.20M653.28,230.95h5.60M653.28,241.15h5.60M656.76,230.25v11.20M653.96,230.75h5.60M653.96,240.95h5.60M657.44,230.04v11.20M654.64,230.54h5.60M654.64,240.74h5.60M658.12,229.83v11.20M655.32,230.33h5.60M655.32,240.53h5.60M658.80,229.60v11.20M656.00,230.10h5.60M656.00,240.30h5.60M659.48,229.26v11.20M656.68,229.76h5.60M656.68,239.96h5.60M660.16,228.69v11.20M657.36,229.19h5.60M657.36,239.39h5.60M660.84,227.90v11.20M658.04,228.40h5.60M658.04,238.60h5.60M661.52,226.97v11.20M658.72,227.47h5.60M658.72,237.67h5.60M662.20,226.01v11.20M659.40,226.51h5.60M659.40,236.71h5.60M662.88,225.08v11.20M660.08,225.58h5.60M660.08,235.78h5.60M663.56,224.31v11.20M660.76,224.81h5.60M660.76,235.01h5.60M664.24,223.79v11.20M661.44,224.29h5.60M661.44,234.49h5.60M664.92,223.50v11.20M662.12,224.00h5.60M662.12,234.20h5.60M665.60,223.32v11.20M662.80,223.82h5.60M662.80,234.02h5.60M666.28,223.18v11.20M663.48,223.68h5.60M663.48,233.88h5.60M666.96,223.03v11.20M664.16,223.53h5.60M664.16,233.73h5.60M667.64,222.89v11.20M664.84,223.39h5.60M664.84,233.59h5.60M668.32,222.76v11.20M665.52,223.26h5.60M665.52,233.46h5.60M669.00,222.66v11.20M666.20,223.16h5.60M666.20,233.36h5.60M669.68,222.59v11.20M666.88,223.09h5.60M666.88,233.29h5.60M670.36,222.56v11.20M667.56,223.06h5.60M667.56,233.26h5.60M671.04,222.53v11.20M668.24,223.03h5.60M668.24,233.23h5.60M671.72,222.51v11.20M668.92,223.01h5.60M668.92,233.21h5.60" stroke="#2f5d80" stroke-width="1.1"/><path d="M550.00,228.60v8.64M547.80,229.10h4.40M547.80,236.74h4.40M550.68,228.95v8.64M548.48,229.45h4.40M548.48,237.09h4.40M551.36,229.32v8.64M549.16,229.82h4.40M549.16,237.46h4.40M552.04,229.70v8.64M549.84,230.20h4.40M549.84,237.84h4.40M552.72,230.08v8.64M550.52,230.58h4.40M550.52,238.22h4.40M553.40,230.46v8.64M551.20,230.96h4.40M551.20,238.60h4.40M554.08,230.85v8.64M551.88,231.35h4.40M551.88,238.99h4.40M554.76,231.22v8.64M552.56,231.72h4.40M552.56,239.36h4.40M555.44,231.56v8.64M553.24,232.06h4.40M553.24,239.70h4.40M556.12,231.81v8.64M553.92,232.31h4.40M553.92,239.95h4.40M556.80,231.98v8.64M554.60,232.48h4.40M554.60,240.12h4.40M557.48,232.09v8.64M555.28,232.59h4.40M555.28,240.23h4.40M558.16,232.18v8.64M555.96,232.68h4.40M555.96,240.32h4.40M558.84,232.28v8.64M556.64,232.78h4.40M556.64,240.42h4.40M559.52,232.37v8.64M557.32,232.87h4.40M557.32,240.51h4.40M560.20,232.46v8.64M558.00,232.96h4.40M558.00,240.60h4.40M560.88,232.56v8.64M558.68,233.06h4.40M558.68,240.70h4.40M561.56,232.66v8.64M559.36,233.16h4.40M559.36,240.80h4.40M562.24,232.77v8.64M560.04,233.27h4.40M560.04,240.91h4.40M562.92,232.89v8.64M560.72,233.39h4.40M560.72,241.03h4.40M563.60,233.00v8.64M561.40,233.50h4.40M561.40,241.14h4.40M564.28,233.12v8.64M562.08,233.62h4.40M562.08,241.26h4.40M564.96,233.22v8.64M562.76,233.72h4.40M562.76,241.36h4.40M565.64,233.28v8.64M563.44,233.78h4.40M563.44,241.42h4.40M566.32,233.18v8.64M564.12,233.68h4.40M564.12,241.32h4.40M567.00,232.87v8.64M564.80,233.37h4.40M564.80,241.01h4.40M567.68,232.38v8.64M565.48,232.88h4.40M565.48,240.52h4.40M568.36,231.82v8.64M566.16,232.32h4.40M566.16,239.96h4.40M569.04,231.22v8.64M566.84,231.72h4.40M566.84,239.36h4.40M569.72,230.51v8.64M567.52,231.01h4.40M567.52,238.65h4.40M570.40,229.56v8.64M568.20,230.06h4.40M568.20,237.70h4.40M571.08,228.31v8.64M568.88,228.81h4.40M568.88,236.45h4.40M571.76,226.89v8.64M569.56,227.39h4.40M569.56,235.03h4.40M572.44,225.53v8.64M570.24,226.03h4.40M570.24,233.67h4.40M573.12,224.44v8.64M570.92,224.94h4.40M570.92,232.58h4.40M573.80,223.65v8.64M571.60,224.15h4.40M571.60,231.79h4.40M574.48,223.05v8.64M572.28,223.55h4.40M572.28,231.19h4.40M575.16,222.53v8.64M572.96,223.03h4.40M572.96,230.67h4.40M575.84,222.11v8.64M573.64,222.61h4.40M573.64,230.25h4.40M576.52,221.87v8.64M574.32,222.37h4.40M574.32,230.01h4.40M577.20,221.79v8.64M575.00,222.29h4.40M575.00,229.93h4.40M577.88,221.81v8.64M575.68,222.31h4.40M575.68,229.95h4.40M578.56,221.86v8.64M576.36,222.36h4.40M576.36,230.00h4.40M579.24,221.94v8.64M577.04,222.44h4.40M577.04,230.08h4.40M579.92,222.11v8.64M577.72,222.61h4.40M577.72,230.25h4.40M580.60,222.43v8.64M578.40,222.93h4.40M578.40,230.57h4.40M581.28,222.89v8.64M579.08,223.39h4.40M579.08,231.03h4.40M581.96,223.43v8.64M579.76,223.93h4.40M579.76,231.57h4.40M582.64,223.99v8.64M580.44,224.49h4.40M580.44,232.13h4.40M583.32,224.55v8.64M581.12,225.05h4.40M581.12,232.69h4.40M584.00,225.12v8.64M581.80,225.62h4.40M581.80,233.26h4.40M584.68,225.71v8.64M582.48,226.21h4.40M582.48,233.85h4.40M585.36,226.34v8.64M583.16,226.84h4.40M583.16,234.48h4.40M586.04,226.99v8.64M583.84,227.49h4.40M583.84,235.13h4.40M586.72,227.65v8.64M584.52,228.15h4.40M584.52,235.79h4.40M587.40,228.31v8.64M585.20,228.81h4.40M585.20,236.45h4.40M588.08,228.97v8.64M585.88,229.47h4.40M585.88,237.11h4.40M588.76,229.62v8.64M586.56,230.12h4.40M586.56,237.76h4.40M589.44,230.26v8.64M587.24,230.76h4.40M587.24,238.40h4.40M590.12,230.89v8.64M587.92,231.39h4.40M587.92,239.03h4.40M590.80,231.52v8.64M588.60,232.02h4.40M588.60,239.66h4.40M591.48,232.13v8.64M589.28,232.63h4.40M589.28,240.27h4.40M592.16,232.69v8.64M589.96,233.19h4.40M589.96,240.83h4.40M592.84,233.15v8.64M590.64,233.65h4.40M590.64,241.29h4.40M593.52,233.50v8.64M591.32,234.00h4.40M591.32,241.64h4.40M594.20,233.78v8.64M592.00,234.28h4.40M592.00,241.92h4.40M594.88,234.04v8.64M592.68,234.54h4.40M592.68,242.18h4.40M595.56,234.30v8.64M593.36,234.80h4.40M593.36,242.44h4.40M596.24,234.55v8.64M594.04,235.05h4.40M594.04,242.69h4.40M596.92,234.78v8.64M594.72,235.28h4.40M594.72,242.92h4.40M597.60,234.93v8.64M595.40,235.43h4.40M595.40,243.07h4.40M598.28,234.94v8.64M596.08,235.44h4.40M596.08,243.08h4.40M598.96,234.81v8.64M596.76,235.31h4.40M596.76,242.95h4.40M599.64,234.61v8.64M597.44,235.11h4.40M597.44,242.75h4.40M600.32,234.39v8.64M598.12,234.89h4.40M598.12,242.53h4.40M601.00,234.17v8.64M598.80,234.67h4.40M598.80,242.31h4.40M601.68,233.94v8.64M599.48,234.44h4.40M599.48,242.08h4.40M602.36,233.71v8.64M600.16,234.21h4.40M600.16,241.85h4.40M603.04,233.44v8.64M600.84,233.94h4.40M600.84,241.58h4.40M603.72,233.12v8.64M601.52,233.62h4.40M601.52,241.26h4.40M604.40,232.76v8.64M602.20,233.26h4.40M602.20,240.90h4.40M605.08,232.40v8.64M602.88,232.90h4.40M602.88,240.54h4.40M605.76,232.02v8.64M603.56,232.52h4.40M603.56,240.16h4.40M606.44,231.65v8.64M604.24,232.15h4.40M604.24,239.79h4.40M607.12,231.28v8.64M604.92,231.78h4.40M604.92,239.42h4.40M607.80,230.90v8.64M605.60,231.40h4.40M605.60,239.04h4.40M608.48,230.51v8.64M606.28,231.01h4.40M606.28,238.65h4.40M609.16,230.10v8.64M606.96,230.60h4.40M606.96,238.24h4.40M609.84,229.68v8.64M607.64,230.18h4.40M607.64,237.82h4.40M610.52,229.26v8.64M608.32,229.76h4.40M608.32,237.40h4.40M611.20,228.86v8.64M609.00,229.36h4.40M609.00,237.00h4.40M611.88,228.48v8.64M609.68,228.98h4.40M609.68,236.62h4.40M612.56,228.15v8.64M610.36,228.65h4.40M610.36,236.29h4.40M613.24,227.83v8.64M611.04,228.33h4.40M611.04,235.97h4.40M613.92,227.51v8.64M611.72,228.01h4.40M611.72,235.65h4.40M614.60,227.20v8.64M612.40,227.70h4.40M612.40,235.34h4.40M615.28,226.89v8.64M613.08,227.39h4.40M613.08,235.03h4.40M615.96,226.58v8.64M613.76,227.08h4.40M613.76,234.72h4.40M616.64,226.28v8.64M614.44,226.78h4.40M614.44,234.42h4.40M617.32,226.00v8.64M615.12,226.50h4.40M615.12,234.14h4.40M618.00,225.72v8.64M615.80,226.22h4.40M615.80,233.86h4.40M618.68,225.45v8.64M616.48,225.95h4.40M616.48,233.59h4.40M619.36,225.18v8.64M617.16,225.68h4.40M617.16,233.32h4.40M620.04,224.90v8.64M617.84,225.40h4.40M617.84,233.04h4.40M620.72,224.63v8.64M618.52,225.13h4.40M618.52,232.77h4.40M621.40,224.36v8.64M619.20,224.86h4.40M619.20,232.50h4.40M622.08,224.09v8.64M619.88,224.59h4.40M619.88,232.23h4.40M622.76,223.82v8.64M620.56,224.32h4.40M620.56,231.96h4.40M623.44,223.56v8.64M621.24,224.06h4.40M621.24,231.70h4.40M624.12,223.29v8.64M621.92,223.79h4.40M621.92,231.43h4.40M624.80,223.04v8.64M622.60,223.54h4.40M622.60,231.18h4.40M625.48,222.78v8.64M623.28,223.28h4.40M623.28,230.92h4.40M626.16,222.52v8.64M623.96,223.02h4.40M623.96,230.66h4.40M626.84,222.26v8.64M624.64,222.76h4.40M624.64,230.40h4.40M627.52,222.01v8.64M625.32,222.51h4.40M625.32,230.15h4.40M628.20,221.75v8.64M626.00,222.25h4.40M626.00,229.89h4.40M628.88,221.51v8.64M626.68,222.01h4.40M626.68,229.65h4.40M629.56,221.33v8.64M627.36,221.83h4.40M627.36,229.47h4.40M630.24,221.21v8.64M628.04,221.71h4.40M628.04,229.35h4.40M630.92,221.16v8.64M628.72,221.66h4.40M628.72,229.30h4.40M631.60,221.14v8.64M629.40,221.64h4.40M629.40,229.28h4.40M632.28,221.13v8.64M630.08,221.63h4.40M630.08,229.27h4.40M632.96,221.12v8.64M630.76,221.62h4.40M630.76,229.26h4.40M633.64,221.12v8.64M631.44,221.62h4.40M631.44,229.26h4.40M634.32,221.16v8.64M632.12,221.66h4.40M632.12,229.30h4.40M635.00,221.29v8.64M632.80,221.79h4.40M632.80,229.43h4.40M635.68,221.55v8.64M633.48,222.05h4.40M633.48,229.69h4.40M636.36,221.89v8.64M634.16,222.39h4.40M634.16,230.03h4.40M637.04,222.25v8.64M634.84,222.75h4.40M634.84,230.39h4.40M637.72,222.62v8.64M635.52,223.12h4.40M635.52,230.76h4.40M638.40,223.00v8.64M636.20,223.50h4.40M636.20,231.14h4.40M639.08,223.39v8.64M636.88,223.89h4.40M636.88,231.53h4.40M639.76,223.84v8.64M637.56,224.34h4.40M637.56,231.98h4.40M640.44,224.44v8.64M638.24,224.94h4.40M638.24,232.58h4.40M641.12,225.18v8.64M638.92,225.68h4.40M638.92,233.32h4.40M641.80,226.02v8.64M639.60,226.52h4.40M639.60,234.16h4.40M642.48,226.87v8.64M640.28,227.37h4.40M640.28,235.01h4.40M643.16,227.74v8.64M640.96,228.24h4.40M640.96,235.88h4.40M643.84,228.59v8.64M641.64,229.09h4.40M641.64,236.73h4.40M644.52,229.41v8.64M642.32,229.91h4.40M642.32,237.55h4.40M645.20,230.12v8.64M643.00,230.62h4.40M643.00,238.26h4.40M645.88,230.65v8.64M643.68,231.15h4.40M643.68,238.79h4.40M646.56,231.02v8.64M644.36,231.52h4.40M644.36,239.16h4.40M647.24,231.31v8.64M645.04,231.81h4.40M645.04,239.45h4.40M647.92,231.58v8.64M645.72,232.08h4.40M645.72,239.72h4.40M648.60,231.83v8.64M646.40,232.33h4.40M646.40,239.97h4.40M649.28,232.03v8.64M647.08,232.53h4.40M647.08,240.17h4.40M649.96,232.13v8.64M647.76,232.63h4.40M647.76,240.27h4.40M650.64,232.17v8.64M648.44,232.67h4.40M648.44,240.31h4.40M651.32,232.18v8.64M649.12,232.68h4.40M649.12,240.32h4.40M652.00,232.18v8.64M649.80,232.68h4.40M649.80,240.32h4.40M652.68,232.18v8.64M650.48,232.68h4.40M650.48,240.32h4.40M653.36,232.17v8.64M651.16,232.67h4.40M651.16,240.31h4.40M654.04,232.14v8.64M651.84,232.64h4.40M651.84,240.28h4.40M654.72,232.06v8.64M652.52,232.56h4.40M652.52,240.20h4.40M655.40,231.92v8.64M653.20,232.42h4.40M653.20,240.06h4.40M656.08,231.73v8.64M653.88,232.23h4.40M653.88,239.87h4.40M656.76,231.53v8.64M654.56,232.03h4.40M654.56,239.67h4.40M657.44,231.32v8.64M655.24,231.82h4.40M655.24,239.46h4.40M658.12,231.11v8.64M655.92,231.61h4.40M655.92,239.25h4.40M658.80,230.88v8.64M656.60,231.38h4.40M656.60,239.02h4.40M659.48,230.54v8.64M657.28,231.04h4.40M657.28,238.68h4.40M660.16,229.97v8.64M657.96,230.47h4.40M657.96,238.11h4.40M660.84,229.18v8.64M658.64,229.68h4.40M658.64,237.32h4.40M661.52,228.25v8.64M659.32,228.75h4.40M659.32,236.39h4.40M662.20,227.29v8.64M660.00,227.79h4.40M660.00,235.43h4.40M662.88,226.36v8.64M660.68,226.86h4.40M660.68,234.50h4.40M663.56,225.59v8.64M661.36,226.09h4.40M661.36,233.73h4.40M664.24,225.07v8.64M662.04,225.57h4.40M662.04,233.21h4.40M664.92,224.78v8.64M662.72,225.28h4.40M662.72,232.92h4.40M665.60,224.60v8.64M663.40,225.10h4.40M663.40,232.74h4.40M666.28,224.46v8.64M664.08,224.96h4.40M664.08,232.60h4.40M666.96,224.31v8.64M664.76,224.81h4.40M664.76,232.45h4.40M667.64,224.17v8.64M665.44,224.67h4.40M665.44,232.31h4.40M668.32,224.04v8.64M666.12,224.54h4.40M666.12,232.18h4.40M669.00,223.94v8.64M666.80,224.44h4.40M666.80,232.08h4.40M669.68,223.87v8.64M667.48,224.37h4.40M667.48,232.01h4.40M670.36,223.84v8.64M668.16,224.34h4.40M668.16,231.98h4.40M671.04,223.81v8.64M668.84,224.31h4.40M668.84,231.95h4.40M671.72,223.79v8.64M669.52,224.29h4.40M669.52,231.93h4.40" stroke="#1d2f3f" stroke-width="1.1"/><line x1="549.70" y1="232.68" x2="672.00" y2="232.68" stroke="#000" stroke-width="2.5"/></g>
<path d="M549.70,205.08h1.6M672.00,205.08h-1.6M549.70,232.68h1.6M672.00,232.68h-1.6M549.70,260.28h1.6M672.00,260.28h-1.6M610.85,272.90v-1.6M610.85,191.85v1.6" stroke="#262626" stroke-width="1"/>
<rect x="549.70" y="191.85" width="122.30" height="81.05" fill="none" stroke="#262626" stroke-width="1.90"/>
<g transform="translate(537.51,210.08) scale(1.0585,1)" fill="#262626" ><text x="0.00" y="0.00" font-size="13.00" font-weight="normal" font-style="normal">.1</text></g>
<g transform="translate(540.21,237.08) scale(1.1355,1)" fill="#262626" ><text x="0.00" y="0.00" font-size="13.00" font-weight="normal" font-style="normal">0</text></g>
<g transform="translate(532.71,265.28) scale(1.0723,1)" fill="#262626" ><text x="0.00" y="0.00" font-size="13.00" font-weight="normal" font-style="normal">-.1</text></g>
<g transform="translate(545.84,289.90) scale(1.0826,1)" fill="#262626" ><text x="0.00" y="0.00" font-size="13.00" font-weight="normal" font-style="normal">0</text><text x="6.50" y="0.00" font-size="13.00" font-weight="normal" font-style="normal">°</text></g>
<g transform="translate(602.84,289.90) scale(1.0490,1)" fill="#262626" ><text x="0.00" y="0.00" font-size="13.00" font-weight="normal" font-style="normal">90</text><text x="13.00" y="0.00" font-size="13.00" font-weight="normal" font-style="normal">°</text></g>
<g transform="translate(659.58,289.90) scale(1.0446,1)" fill="#262626" ><text x="0.00" y="0.00" font-size="13.00" font-weight="normal" font-style="normal">180</text><text x="19.50" y="0.00" font-size="13.00" font-weight="normal" font-style="normal">°</text></g>
<path d="M584.30,258.10h7.6M584.30,263.60h7.6M584.30,269.10h7.6M588.10,258.00v11.2" stroke="#2c4558" stroke-width="1.3" fill="none"/>
<g transform="translate(594.11,266.70) scale(1.0202,1)" fill="#262626" ><text x="0.00" y="0.00" font-size="13.00" font-weight="normal" font-style="normal">1</text><text x="6.50" y="0.00" font-size="13.00" font-weight="normal" font-style="italic">σ</text></g>
<path d="M613.90,258.10h7.6M613.90,263.60h7.6M613.90,269.10h7.6M617.70,258.00v11.2" stroke="#3b6f92" stroke-width="1.3" fill="none"/>
<g transform="translate(624.33,266.70) scale(0.9733,1)" fill="#262626" ><text x="0.00" y="0.00" font-size="13.00" font-weight="normal" font-style="normal">2</text><text x="6.50" y="0.00" font-size="13.00" font-weight="normal" font-style="italic">σ</text></g>
<path d="M644.00,258.10h7.6M644.00,263.60h7.6M644.00,269.10h7.6M647.80,258.00v11.2" stroke="#5ab1e3" stroke-width="1.3" fill="none"/>
<g transform="translate(654.36,266.70) scale(0.9783,1)" fill="#262626" ><text x="0.00" y="0.00" font-size="13.00" font-weight="normal" font-style="normal">3</text><text x="6.50" y="0.00" font-size="13.00" font-weight="normal" font-style="italic">σ</text></g>
<g transform="translate(551.94,204.45) scale(0.9934,1)" fill="#262626" ><text x="0.00" y="0.00" font-size="14.00" font-weight="normal" font-style="normal">COD-S</text><text x="42.01" y="3.08" font-size="9.52" font-weight="normal" font-style="normal">2</text><text x="46.77" y="0.00" font-size="14.00" font-weight="normal" font-style="normal">(θ)</text></g>
<line x1="125.85" y1="320.90" x2="125.85" y2="401.90" stroke="#dcdcdc" stroke-width="1.6"/>
<line x1="64.70" y1="361.40" x2="187.00" y2="361.40" stroke="#dcdcdc" stroke-width="1.6"/>
<clipPath id="c64_320"><rect x="64.70" y="320.90" width="122.30" height="81.00"/></clipPath>
<g clip-path="url(#c64_320)"><path d="M65.04,395.46v8M61.64,399.46h6.8M65.72,395.43v8M62.32,399.43h6.8M66.40,395.40v8M63.00,399.40h6.8M67.08,395.35v8M63.68,399.35h6.8M67.76,395.28v8M64.36,399.28h6.8M68.44,395.21v8M65.04,399.21h6.8M69.12,395.12v8M65.72,399.12h6.8M69.80,395.03v8M66.40,399.03h6.8M70.48,394.93v8M67.08,398.93h6.8M71.15,394.82v8M67.75,398.82h6.8M71.83,394.68v8M68.43,398.68h6.8M72.51,394.52v8M69.11,398.52h6.8M73.19,394.33v8M69.79,398.33h6.8M73.87,394.10v8M70.47,398.10h6.8M74.55,393.83v8M71.15,397.83h6.8M75.23,393.52v8M71.83,397.52h6.8M75.91,393.17v8M72.51,397.17h6.8M76.59,392.79v8M73.19,396.79h6.8M77.27,392.40v8M73.87,396.40h6.8M77.95,392.00v8M74.55,396.00h6.8M78.63,391.61v8M75.23,395.61h6.8M79.31,391.19v8M75.91,395.19h6.8M79.99,390.74v8M76.59,394.74h6.8M80.67,390.23v8M77.27,394.23h6.8M81.35,389.64v8M77.95,393.64h6.8M82.03,388.96v8M78.63,392.96h6.8M82.71,388.17v8M79.31,392.17h6.8M83.38,387.27v8M79.98,391.27h6.8M84.06,386.24v8M80.66,390.24h6.8M84.74,385.08v8M81.34,389.08h6.8M85.42,383.79v8M82.02,387.79h6.8M86.10,382.40v8M82.70,386.40h6.8M86.78,380.95v8M83.38,384.95h6.8M87.46,379.47v8M84.06,383.47h6.8M88.14,377.97v8M84.74,381.97h6.8M88.82,376.49v8M85.42,380.49h6.8M89.50,375.05v8M86.10,379.05h6.8M90.18,373.69v8M86.78,377.69h6.8M90.86,372.42v8M87.46,376.42h6.8M91.54,371.23v8M88.14,375.23h6.8M92.22,370.10v8M88.82,374.10h6.8M92.90,369.04v8M89.50,373.04h6.8M93.58,368.02v8M90.18,372.02h6.8M94.26,367.06v8M90.86,371.06h6.8M94.94,366.15v8M91.54,370.15h6.8M95.61,365.28v8M92.21,369.28h6.8M96.29,364.45v8M92.89,368.45h6.8M96.97,363.67v8M93.57,367.67h6.8M97.65,362.96v8M94.25,366.96h6.8M98.33,362.31v8M94.93,366.31h6.8M99.01,361.71v8M95.61,365.71h6.8M99.69,361.15v8M96.29,365.15h6.8M100.37,360.63v8M96.97,364.63h6.8M101.05,360.14v8M97.65,364.14h6.8M101.73,359.70v8M98.33,363.70h6.8M102.41,359.31v8M99.01,363.31h6.8M103.09,358.96v8M99.69,362.96h6.8M103.77,358.65v8M100.37,362.65h6.8M104.45,358.38v8M101.05,362.38h6.8M105.13,358.14v8M101.73,362.14h6.8M105.81,357.91v8M102.41,361.91h6.8M106.49,357.70v8M103.09,361.70h6.8M107.17,357.51v8M103.77,361.51h6.8M107.84,357.32v8M104.44,361.32h6.8M108.52,357.13v8M105.12,361.13h6.8M109.20,356.95v8M105.80,360.95h6.8M109.88,356.77v8M106.48,360.77h6.8M110.56,356.60v8M107.16,360.60h6.8M111.24,356.43v8M107.84,360.43h6.8M111.92,356.27v8M108.52,360.27h6.8M112.60,356.11v8M109.20,360.11h6.8M113.28,355.96v8M109.88,359.96h6.8M113.96,355.81v8M110.56,359.81h6.8M114.64,355.66v8M111.24,359.66h6.8M115.32,355.52v8M111.92,359.52h6.8M116.00,355.38v8M112.60,359.38h6.8M116.68,355.24v8M113.28,359.24h6.8M117.36,355.11v8M113.96,359.11h6.8M118.04,354.99v8M114.64,358.99h6.8M118.72,354.87v8M115.32,358.87h6.8M119.40,354.75v8M116.00,358.75h6.8M120.07,354.64v8M116.67,358.64h6.8M120.75,354.53v8M117.35,358.53h6.8M121.43,354.43v8M118.03,358.43h6.8M122.11,354.32v8M118.71,358.32h6.8M122.79,354.22v8M119.39,358.22h6.8M123.47,354.12v8M120.07,358.12h6.8M124.15,354.02v8M120.75,358.02h6.8M124.83,353.92v8M121.43,357.92h6.8M125.51,353.81v8M122.11,357.81h6.8M126.19,353.70v8M122.79,357.70h6.8M126.87,353.59v8M123.47,357.59h6.8M127.55,353.48v8M124.15,357.48h6.8M128.23,353.37v8M124.83,357.37h6.8M128.91,353.26v8M125.51,357.26h6.8M129.59,353.15v8M126.19,357.15h6.8M130.27,353.04v8M126.87,357.04h6.8M130.95,352.93v8M127.55,356.93h6.8M131.63,352.82v8M128.23,356.82h6.8M132.30,352.71v8M128.90,356.71h6.8M132.98,352.60v8M129.58,356.60h6.8M133.66,352.48v8M130.26,356.48h6.8M134.34,352.37v8M130.94,356.37h6.8M135.02,352.25v8M131.62,356.25h6.8M135.70,352.12v8M132.30,356.12h6.8M136.38,352.00v8M132.98,356.00h6.8M137.06,351.87v8M133.66,355.87h6.8M137.74,351.73v8M134.34,355.73h6.8M138.42,351.59v8M135.02,355.59h6.8M139.10,351.45v8M135.70,355.45h6.8M139.78,351.30v8M136.38,355.30h6.8M140.46,351.14v8M137.06,355.14h6.8M141.14,350.97v8M137.74,354.97h6.8M141.82,350.80v8M138.42,354.80h6.8M142.50,350.61v8M139.10,354.61h6.8M143.18,350.42v8M139.78,354.42h6.8M143.86,350.21v8M140.46,354.21h6.8M144.53,350.01v8M141.13,354.01h6.8M145.21,349.80v8M141.81,353.80h6.8M145.89,349.58v8M142.49,353.58h6.8M146.57,349.37v8M143.17,353.37h6.8M147.25,349.15v8M143.85,353.15h6.8M147.93,348.94v8M144.53,352.94h6.8M148.61,348.73v8M145.21,352.73h6.8M149.29,348.52v8M145.89,352.52h6.8M149.97,348.30v8M146.57,352.30h6.8M150.65,348.09v8M147.25,352.09h6.8M151.33,347.88v8M147.93,351.88h6.8M152.01,347.66v8M148.61,351.66h6.8M152.69,347.43v8M149.29,351.43h6.8M153.37,347.20v8M149.97,351.20h6.8M154.05,346.96v8M150.65,350.96h6.8M154.73,346.71v8M151.33,350.71h6.8M155.41,346.46v8M152.01,350.46h6.8M156.09,346.19v8M152.69,350.19h6.8M156.76,345.91v8M153.36,349.91h6.8M157.44,345.63v8M154.04,349.63h6.8M158.12,345.33v8M154.72,349.33h6.8M158.80,345.02v8M155.40,349.02h6.8M159.48,344.69v8M156.08,348.69h6.8M160.16,344.33v8M156.76,348.33h6.8M160.84,343.94v8M157.44,347.94h6.8M161.52,343.50v8M158.12,347.50h6.8M162.20,342.99v8M158.80,346.99h6.8M162.88,342.41v8M159.48,346.41h6.8M163.56,341.74v8M160.16,345.74h6.8M164.24,341.00v8M160.84,345.00h6.8M164.92,340.22v8M161.52,344.22h6.8M165.60,339.41v8M162.20,343.41h6.8M166.28,338.58v8M162.88,342.58h6.8M166.96,337.72v8M163.56,341.72h6.8M167.64,336.83v8M164.24,340.83h6.8M168.32,335.93v8M164.92,339.93h6.8M168.99,335.01v8M165.59,339.01h6.8M169.67,334.11v8M166.27,338.11h6.8M170.35,333.24v8M166.95,337.24h6.8M171.03,332.41v8M167.63,336.41h6.8M171.71,331.61v8M168.31,335.61h6.8M172.39,330.84v8M168.99,334.84h6.8M173.07,330.09v8M169.67,334.09h6.8M173.75,329.36v8M170.35,333.36h6.8M174.43,328.65v8M171.03,332.65h6.8M175.11,327.94v8M171.71,331.94h6.8M175.79,327.23v8M172.39,331.23h6.8M176.47,326.53v8M173.07,330.53h6.8M177.15,325.83v8M173.75,329.83h6.8M177.83,325.14v8M174.43,329.14h6.8M178.51,324.46v8M175.11,328.46h6.8M179.19,323.79v8M175.79,327.79h6.8M179.87,323.15v8M176.47,327.15h6.8M180.55,322.55v8M177.15,326.55h6.8M181.22,321.98v8M177.82,325.98h6.8M181.90,321.44v8M178.50,325.44h6.8M182.58,320.93v8M179.18,324.93h6.8M183.26,320.45v8M179.86,324.45h6.8M183.94,319.97v8M180.54,323.97h6.8M184.62,319.49v8M181.22,323.49h6.8M185.30,319.01v8M181.90,323.01h6.8M185.98,318.54v8M182.58,322.54h6.8M186.66,318.15v8M183.26,322.15h6.8" stroke="#1d2f3f" stroke-width="1.5" fill="none"/><polyline points="64.70,399.46 65.04,399.46 65.38,399.45 65.72,399.43 66.06,399.42 66.40,399.40 66.74,399.37 67.08,399.35 67.42,399.32 67.76,399.28 68.10,399.25 68.44,399.21 68.78,399.17 69.12,399.12 69.46,399.08 69.80,399.03 70.14,398.98 70.48,398.93 70.81,398.87 71.15,398.82 71.49,398.75 71.83,398.68 72.17,398.60 72.51,398.52 72.85,398.43 73.19,398.33 73.53,398.22 73.87,398.10 74.21,397.97 74.55,397.83 74.89,397.68 75.23,397.52 75.57,397.35 75.91,397.17 76.25,396.98 76.59,396.79 76.93,396.59 77.27,396.40 77.61,396.20 77.95,396.00 78.29,395.81 78.63,395.61 78.97,395.40 79.31,395.19 79.65,394.97 79.99,394.74 80.33,394.49 80.67,394.23 81.01,393.95 81.35,393.64 81.69,393.32 82.03,392.96 82.37,392.58 82.71,392.17 83.05,391.74 83.38,391.27 83.72,390.77 84.06,390.24 84.40,389.68 84.74,389.08 85.08,388.45 85.42,387.79 85.76,387.11 86.10,386.40 86.44,385.68 86.78,384.95 87.12,384.21 87.46,383.47 87.80,382.72 88.14,381.97 88.48,381.23 88.82,380.49 89.16,379.76 89.50,379.05 89.84,378.36 90.18,377.69 90.52,377.05 90.86,376.42 91.20,375.82 91.54,375.23 91.88,374.66 92.22,374.10 92.56,373.56 92.90,373.04 93.24,372.52 93.58,372.02 93.92,371.54 94.26,371.06 94.60,370.60 94.94,370.15 95.28,369.71 95.61,369.28 95.95,368.86 96.29,368.45 96.63,368.05 96.97,367.67 97.31,367.31 97.65,366.96 97.99,366.63 98.33,366.31 98.67,366.00 99.01,365.71 99.35,365.42 99.69,365.15 100.03,364.88 100.37,364.63 100.71,364.38 101.05,364.14 101.39,363.92 101.73,363.70 102.07,363.50 102.41,363.31 102.75,363.13 103.09,362.96 103.43,362.80 103.77,362.65 104.11,362.51 104.45,362.38 104.79,362.26 105.13,362.14 105.47,362.02 105.81,361.91 106.15,361.81 106.49,361.70 106.83,361.60 107.17,361.51 107.50,361.41 107.84,361.32 108.18,361.22 108.52,361.13 108.86,361.04 109.20,360.95 109.54,360.86 109.88,360.77 110.22,360.69 110.56,360.60 110.90,360.52 111.24,360.43 111.58,360.35 111.92,360.27 112.26,360.19 112.60,360.11 112.94,360.03 113.28,359.96 113.62,359.88 113.96,359.81 114.30,359.73 114.64,359.66 114.98,359.59 115.32,359.52 115.66,359.45 116.00,359.38 116.34,359.31 116.68,359.24 117.02,359.18 117.36,359.11 117.70,359.05 118.04,358.99 118.38,358.93 118.72,358.87 119.06,358.81 119.40,358.75 119.73,358.69 120.07,358.64 120.41,358.58 120.75,358.53 121.09,358.48 121.43,358.43 121.77,358.38 122.11,358.32 122.45,358.27 122.79,358.22 123.13,358.17 123.47,358.12 123.81,358.07 124.15,358.02 124.49,357.97 124.83,357.92 125.17,357.86 125.51,357.81 125.85,357.75 126.19,357.70 126.53,357.64 126.87,357.59 127.21,357.53 127.55,357.48 127.89,357.42 128.23,357.37 128.57,357.32 128.91,357.26 129.25,357.21 129.59,357.15 129.93,357.10 130.27,357.04 130.61,356.99 130.95,356.93 131.29,356.88 131.63,356.82 131.97,356.77 132.30,356.71 132.64,356.66 132.98,356.60 133.32,356.54 133.66,356.48 134.00,356.43 134.34,356.37 134.68,356.31 135.02,356.25 135.36,356.18 135.70,356.12 136.04,356.06 136.38,356.00 136.72,355.93 137.06,355.87 137.40,355.80 137.74,355.73 138.08,355.66 138.42,355.59 138.76,355.52 139.10,355.45 139.44,355.37 139.78,355.30 140.12,355.22 140.46,355.14 140.80,355.06 141.14,354.97 141.48,354.89 141.82,354.80 142.16,354.70 142.50,354.61 142.84,354.51 143.18,354.42 143.52,354.32 143.86,354.21 144.19,354.11 144.53,354.01 144.87,353.90 145.21,353.80 145.55,353.69 145.89,353.58 146.23,353.48 146.57,353.37 146.91,353.26 147.25,353.15 147.59,353.05 147.93,352.94 148.27,352.83 148.61,352.73 148.95,352.62 149.29,352.52 149.63,352.41 149.97,352.30 150.31,352.20 150.65,352.09 150.99,351.98 151.33,351.88 151.67,351.77 152.01,351.66 152.35,351.55 152.69,351.43 153.03,351.32 153.37,351.20 153.71,351.08 154.05,350.96 154.39,350.84 154.73,350.71 155.07,350.59 155.41,350.46 155.75,350.32 156.09,350.19 156.43,350.05 156.76,349.91 157.10,349.77 157.44,349.63 157.78,349.48 158.12,349.33 158.46,349.18 158.80,349.02 159.14,348.86 159.48,348.69 159.82,348.51 160.16,348.33 160.50,348.14 160.84,347.94 161.18,347.72 161.52,347.50 161.86,347.25 162.20,346.99 162.54,346.71 162.88,346.41 163.22,346.08 163.56,345.74 163.90,345.38 164.24,345.00 164.58,344.62 164.92,344.22 165.26,343.82 165.60,343.41 165.94,343.00 166.28,342.58 166.62,342.15 166.96,341.72 167.30,341.28 167.64,340.83 167.98,340.38 168.32,339.93 168.66,339.47 168.99,339.01 169.33,338.56 169.67,338.11 170.01,337.67 170.35,337.24 170.69,336.82 171.03,336.41 171.37,336.00 171.71,335.61 172.05,335.22 172.39,334.84 172.73,334.46 173.07,334.09 173.41,333.73 173.75,333.36 174.09,333.00 174.43,332.65 174.77,332.29 175.11,331.94 175.45,331.59 175.79,331.23 176.13,330.88 176.47,330.53 176.81,330.18 177.15,329.83 177.49,329.49 177.83,329.14 178.17,328.80 178.51,328.46 178.85,328.12 179.19,327.79 179.53,327.47 179.87,327.15 180.21,326.85 180.55,326.55 180.88,326.26 181.22,325.98 181.56,325.70 181.90,325.44 182.24,325.18 182.58,324.93 182.92,324.69 183.26,324.45 183.60,324.21 183.94,323.97 184.28,323.73 184.62,323.49 184.96,323.25 185.30,323.01 185.64,322.77 185.98,322.54 186.32,322.34 186.66,322.15 187.00,322.00" fill="none" stroke="#e8604c" stroke-width="3.0" stroke-linejoin="round"/></g>
<path d="M64.70,361.40h1.6M187.00,361.40h-1.6M125.85,401.90v-1.6M125.85,320.90v1.6" stroke="#262626" stroke-width="1"/>
<rect x="64.70" y="320.90" width="122.30" height="81.00" fill="none" stroke="#262626" stroke-width="1.90"/>
<g transform="translate(55.69,325.50) scale(0.9451,1)" fill="#262626" ><text x="0.00" y="0.00" font-size="13.00" font-weight="normal" font-style="normal">1</text></g>
<g transform="translate(51.38,365.90) scale(1.0853,1)" fill="#262626" ><text x="0.00" y="0.00" font-size="13.00" font-weight="normal" font-style="normal">.5</text></g>
<g transform="translate(54.17,405.90) scale(1.2088,1)" fill="#262626" ><text x="0.00" y="0.00" font-size="13.00" font-weight="normal" font-style="normal">0</text></g>
<g transform="translate(60.84,418.90) scale(1.0826,1)" fill="#262626" ><text x="0.00" y="0.00" font-size="13.00" font-weight="normal" font-style="normal">0</text><text x="6.50" y="0.00" font-size="13.00" font-weight="normal" font-style="normal">°</text></g>
<g transform="translate(117.84,418.90) scale(1.0490,1)" fill="#262626" ><text x="0.00" y="0.00" font-size="13.00" font-weight="normal" font-style="normal">90</text><text x="13.00" y="0.00" font-size="13.00" font-weight="normal" font-style="normal">°</text></g>
<g transform="translate(174.58,418.90) scale(1.0446,1)" fill="#262626" ><text x="0.00" y="0.00" font-size="13.00" font-weight="normal" font-style="normal">180</text><text x="19.50" y="0.00" font-size="13.00" font-weight="normal" font-style="normal">°</text></g>
<line x1="287.50" y1="320.90" x2="287.50" y2="401.80" stroke="#dcdcdc" stroke-width="1.6"/>
<line x1="226.10" y1="334.05" x2="348.90" y2="334.05" stroke="#dcdcdc" stroke-width="1.6"/>
<line x1="226.10" y1="389.25" x2="348.90" y2="389.25" stroke="#dcdcdc" stroke-width="1.6"/>
<clipPath id="r226_320"><rect x="226.10" y="320.90" width="122.80" height="80.90"/></clipPath>
<g clip-path="url(#r226_320)" fill="none"><path d="M226.40,354.04v15.80M223.00,354.54h6.80M223.00,369.34h6.80M227.08,354.03v15.80M223.68,354.53h6.80M223.68,369.33h6.80M227.76,354.03v15.80M224.36,354.53h6.80M224.36,369.33h6.80M228.44,354.05v15.80M225.04,354.55h6.80M225.04,369.35h6.80M229.12,354.09v15.80M225.72,354.59h6.80M225.72,369.39h6.80M229.80,354.14v15.80M226.40,354.64h6.80M226.40,369.44h6.80M230.48,354.18v15.80M227.08,354.68h6.80M227.08,369.48h6.80M231.16,354.23v15.80M227.76,354.73h6.80M227.76,369.53h6.80M231.84,354.28v15.80M228.44,354.78h6.80M228.44,369.58h6.80M232.52,354.31v15.80M229.12,354.81h6.80M229.12,369.61h6.80M233.20,354.30v15.80M229.80,354.80h6.80M229.80,369.60h6.80M233.88,354.21v15.80M230.48,354.71h6.80M230.48,369.51h6.80M234.56,354.04v15.80M231.16,354.54h6.80M231.16,369.34h6.80M235.24,353.84v15.80M231.84,354.34h6.80M231.84,369.14h6.80M235.92,353.62v15.80M232.52,354.12h6.80M232.52,368.92h6.80M236.60,353.40v15.80M233.20,353.90h6.80M233.20,368.70h6.80M237.28,353.18v15.80M233.88,353.68h6.80M233.88,368.48h6.80M237.96,352.96v15.80M234.56,353.46h6.80M234.56,368.26h6.80M238.64,352.75v15.80M235.24,353.25h6.80M235.24,368.05h6.80M239.32,352.58v15.80M235.92,353.08h6.80M235.92,367.88h6.80M240.00,352.53v15.80M236.60,353.03h6.80M236.60,367.83h6.80M240.68,352.64v15.80M237.28,353.14h6.80M237.28,367.94h6.80M241.36,352.87v15.80M237.96,353.37h6.80M237.96,368.17h6.80M242.04,353.14v15.80M238.64,353.64h6.80M238.64,368.44h6.80M242.72,353.42v15.80M239.32,353.92h6.80M239.32,368.72h6.80M243.40,353.70v15.80M240.00,354.20h6.80M240.00,369.00h6.80M244.08,353.97v15.80M240.68,354.47h6.80M240.68,369.27h6.80M244.76,354.20v15.80M241.36,354.70h6.80M241.36,369.50h6.80M245.44,354.33v15.80M242.04,354.83h6.80M242.04,369.63h6.80M246.12,354.27v15.80M242.72,354.77h6.80M242.72,369.57h6.80M246.80,354.07v15.80M243.40,354.57h6.80M243.40,369.37h6.80M247.48,353.80v15.80M244.08,354.30h6.80M244.08,369.10h6.80M248.16,353.51v15.80M244.76,354.01h6.80M244.76,368.81h6.80M248.84,353.23v15.80M245.44,353.73h6.80M245.44,368.53h6.80M249.52,352.94v15.80M246.12,353.44h6.80M246.12,368.24h6.80M250.20,352.65v15.80M246.80,353.15h6.80M246.80,367.95h6.80M250.88,352.37v15.80M247.48,352.87h6.80M247.48,367.67h6.80M251.56,352.16v15.80M248.16,352.66h6.80M248.16,367.46h6.80M252.24,352.11v15.80M248.84,352.61h6.80M248.84,367.41h6.80M252.92,352.26v15.80M249.52,352.76h6.80M249.52,367.56h6.80M253.60,352.56v15.80M250.20,353.06h6.80M250.20,367.86h6.80M254.28,352.91v15.80M250.88,353.41h6.80M250.88,368.21h6.80M254.96,353.28v15.80M251.56,353.78h6.80M251.56,368.58h6.80M255.64,353.64v15.80M252.24,354.14h6.80M252.24,368.94h6.80M256.32,354.00v15.80M252.92,354.50h6.80M252.92,369.30h6.80M257.00,354.32v15.80M253.60,354.82h6.80M253.60,369.62h6.80M257.68,354.53v15.80M254.28,355.03h6.80M254.28,369.83h6.80M258.36,354.57v15.80M254.96,355.07h6.80M254.96,369.87h6.80M259.04,354.47v15.80M255.64,354.97h6.80M255.64,369.77h6.80M259.72,354.32v15.80M256.32,354.82h6.80M256.32,369.62h6.80M260.40,354.15v15.80M257.00,354.65h6.80M257.00,369.45h6.80M261.08,353.98v15.80M257.68,354.48h6.80M257.68,369.28h6.80M261.76,353.81v15.80M258.36,354.31h6.80M258.36,369.11h6.80M262.44,353.65v15.80M259.04,354.15h6.80M259.04,368.95h6.80M263.12,353.51v15.80M259.72,354.01h6.80M259.72,368.81h6.80M263.80,353.42v15.80M260.40,353.92h6.80M260.40,368.72h6.80M264.48,353.37v15.80M261.08,353.87h6.80M261.08,368.67h6.80M265.16,353.34v15.80M261.76,353.84h6.80M261.76,368.64h6.80M265.84,353.32v15.80M262.44,353.82h6.80M262.44,368.62h6.80M266.52,353.30v15.80M263.12,353.80h6.80M263.12,368.60h6.80M267.20,353.28v15.80M263.80,353.78h6.80M263.80,368.58h6.80M267.88,353.26v15.80M264.48,353.76h6.80M264.48,368.56h6.80M268.56,353.23v15.80M265.16,353.73h6.80M265.16,368.53h6.80M269.24,353.21v15.80M265.84,353.71h6.80M265.84,368.51h6.80M269.92,353.19v15.80M266.52,353.69h6.80M266.52,368.49h6.80M270.60,353.17v15.80M267.20,353.67h6.80M267.20,368.47h6.80M271.28,353.15v15.80M267.88,353.65h6.80M267.88,368.45h6.80M271.96,353.12v15.80M268.56,353.62h6.80M268.56,368.42h6.80M272.64,353.09v15.80M269.24,353.59h6.80M269.24,368.39h6.80M273.32,353.04v15.80M269.92,353.54h6.80M269.92,368.34h6.80M274.00,352.99v15.80M270.60,353.49h6.80M270.60,368.29h6.80M274.68,352.93v15.80M271.28,353.43h6.80M271.28,368.23h6.80M275.36,352.87v15.80M271.96,353.37h6.80M271.96,368.17h6.80M276.04,352.82v15.80M272.64,353.32h6.80M272.64,368.12h6.80M276.72,352.76v15.80M273.32,353.26h6.80M273.32,368.06h6.80M277.40,352.70v15.80M274.00,353.20h6.80M274.00,368.00h6.80M278.08,352.64v15.80M274.68,353.14h6.80M274.68,367.94h6.80M278.76,352.58v15.80M275.36,353.08h6.80M275.36,367.88h6.80M279.44,352.53v15.80M276.04,353.03h6.80M276.04,367.83h6.80M280.12,352.47v15.80M276.72,352.97h6.80M276.72,367.77h6.80M280.80,352.41v15.80M277.40,352.91h6.80M277.40,367.71h6.80M281.48,352.36v15.80M278.08,352.86h6.80M278.08,367.66h6.80M282.16,352.32v15.80M278.76,352.82h6.80M278.76,367.62h6.80M282.84,352.28v15.80M279.44,352.78h6.80M279.44,367.58h6.80M283.52,352.26v15.80M280.12,352.76h6.80M280.12,367.56h6.80M284.20,352.24v15.80M280.80,352.74h6.80M280.80,367.54h6.80M284.88,352.23v15.80M281.48,352.73h6.80M281.48,367.53h6.80M285.56,352.21v15.80M282.16,352.71h6.80M282.16,367.51h6.80M286.24,352.19v15.80M282.84,352.69h6.80M282.84,367.49h6.80M286.92,352.17v15.80M283.52,352.67h6.80M283.52,367.47h6.80M287.60,352.15v15.80M284.20,352.65h6.80M284.20,367.45h6.80M288.28,352.14v15.80M284.88,352.64h6.80M284.88,367.44h6.80M288.96,352.14v15.80M285.56,352.64h6.80M285.56,367.44h6.80M289.64,352.17v15.80M286.24,352.67h6.80M286.24,367.47h6.80M290.32,352.26v15.80M286.92,352.76h6.80M286.92,367.56h6.80M291.00,352.37v15.80M287.60,352.87h6.80M287.60,367.67h6.80M291.68,352.50v15.80M288.28,353.00h6.80M288.28,367.80h6.80M292.36,352.61v15.80M288.96,353.11h6.80M288.96,367.91h6.80M293.04,352.70v15.80M289.64,353.20h6.80M289.64,368.00h6.80M293.72,352.77v15.80M290.32,353.27h6.80M290.32,368.07h6.80M294.40,352.83v15.80M291.00,353.33h6.80M291.00,368.13h6.80M295.08,352.88v15.80M291.68,353.38h6.80M291.68,368.18h6.80M295.76,352.93v15.80M292.36,353.43h6.80M292.36,368.23h6.80M296.44,352.98v15.80M293.04,353.48h6.80M293.04,368.28h6.80M297.12,353.03v15.80M293.72,353.53h6.80M293.72,368.33h6.80M297.80,353.08v15.80M294.40,353.58h6.80M294.40,368.38h6.80M298.48,353.14v15.80M295.08,353.64h6.80M295.08,368.44h6.80M299.16,353.19v15.80M295.76,353.69h6.80M295.76,368.49h6.80M299.84,353.24v15.80M296.44,353.74h6.80M296.44,368.54h6.80M300.52,353.29v15.80M297.12,353.79h6.80M297.12,368.59h6.80M301.20,353.33v15.80M297.80,353.83h6.80M297.80,368.63h6.80M301.88,353.36v15.80M298.48,353.86h6.80M298.48,368.66h6.80M302.56,353.36v15.80M299.16,353.86h6.80M299.16,368.66h6.80M303.24,353.34v15.80M299.84,353.84h6.80M299.84,368.64h6.80M303.92,353.32v15.80M300.52,353.82h6.80M300.52,368.62h6.80M304.60,353.29v15.80M301.20,353.79h6.80M301.20,368.59h6.80M305.28,353.26v15.80M301.88,353.76h6.80M301.88,368.56h6.80M305.96,353.23v15.80M302.56,353.73h6.80M302.56,368.53h6.80M306.64,353.20v15.80M303.24,353.70h6.80M303.24,368.50h6.80M307.32,353.17v15.80M303.92,353.67h6.80M303.92,368.47h6.80M308.00,353.14v15.80M304.60,353.64h6.80M304.60,368.44h6.80M308.68,353.12v15.80M305.28,353.62h6.80M305.28,368.42h6.80M309.36,353.09v15.80M305.96,353.59h6.80M305.96,368.39h6.80M310.04,353.06v15.80M306.64,353.56h6.80M306.64,368.36h6.80M310.72,353.04v15.80M307.32,353.54h6.80M307.32,368.34h6.80M311.40,353.04v15.80M308.00,353.54h6.80M308.00,368.34h6.80M312.08,353.08v15.80M308.68,353.58h6.80M308.68,368.38h6.80M312.76,353.13v15.80M309.36,353.63h6.80M309.36,368.43h6.80M313.44,353.20v15.80M310.04,353.70h6.80M310.04,368.50h6.80M314.12,353.26v15.80M310.72,353.76h6.80M310.72,368.56h6.80M314.80,353.33v15.80M311.40,353.83h6.80M311.40,368.63h6.80M315.48,353.39v15.80M312.08,353.89h6.80M312.08,368.69h6.80M316.16,353.46v15.80M312.76,353.96h6.80M312.76,368.76h6.80M316.84,353.53v15.80M313.44,354.03h6.80M313.44,368.83h6.80M317.52,353.59v15.80M314.12,354.09h6.80M314.12,368.89h6.80M318.20,353.66v15.80M314.80,354.16h6.80M314.80,368.96h6.80M318.88,353.72v15.80M315.48,354.22h6.80M315.48,369.02h6.80M319.56,353.78v15.80M316.16,354.28h6.80M316.16,369.08h6.80M320.24,353.80v15.80M316.84,354.30h6.80M316.84,369.10h6.80M320.92,353.74v15.80M317.52,354.24h6.80M317.52,369.04h6.80M321.60,353.60v15.80M318.20,354.10h6.80M318.20,368.90h6.80M322.28,353.41v15.80M318.88,353.91h6.80M318.88,368.71h6.80M322.96,353.20v15.80M319.56,353.70h6.80M319.56,368.50h6.80M323.64,352.99v15.80M320.24,353.49h6.80M320.24,368.29h6.80M324.32,352.78v15.80M320.92,353.28h6.80M320.92,368.08h6.80M325.00,352.57v15.80M321.60,353.07h6.80M321.60,367.87h6.80M325.68,352.36v15.80M322.28,352.86h6.80M322.28,367.66h6.80M326.36,352.15v15.80M322.96,352.65h6.80M322.96,367.45h6.80M327.04,351.94v15.80M323.64,352.44h6.80M323.64,367.24h6.80M327.72,351.74v15.80M324.32,352.24h6.80M324.32,367.04h6.80M328.40,351.59v15.80M325.00,352.09h6.80M325.00,366.89h6.80M329.08,351.58v15.80M325.68,352.08h6.80M325.68,366.88h6.80M329.76,351.76v15.80M326.36,352.26h6.80M326.36,367.06h6.80M330.44,352.08v15.80M327.04,352.58h6.80M327.04,367.38h6.80M331.12,352.46v15.80M327.72,352.96h6.80M327.72,367.76h6.80M331.80,352.85v15.80M328.40,353.35h6.80M328.40,368.15h6.80M332.48,353.25v15.80M329.08,353.75h6.80M329.08,368.55h6.80M333.16,353.64v15.80M329.76,354.14h6.80M329.76,368.94h6.80M333.84,354.03v15.80M330.44,354.53h6.80M330.44,369.33h6.80M334.52,354.40v15.80M331.12,354.90h6.80M331.12,369.70h6.80M335.20,354.69v15.80M331.80,355.19h6.80M331.80,369.99h6.80M335.88,354.81v15.80M332.48,355.31h6.80M332.48,370.11h6.80M336.56,354.73v15.80M333.16,355.23h6.80M333.16,370.03h6.80M337.24,354.52v15.80M333.84,355.02h6.80M333.84,369.82h6.80M337.92,354.28v15.80M334.52,354.78h6.80M334.52,369.58h6.80M338.60,354.03v15.80M335.20,354.53h6.80M335.20,369.33h6.80M339.28,353.78v15.80M335.88,354.28h6.80M335.88,369.08h6.80M339.96,353.53v15.80M336.56,354.03h6.80M336.56,368.83h6.80M340.64,353.28v15.80M337.24,353.78h6.80M337.24,368.58h6.80M341.32,353.05v15.80M337.92,353.55h6.80M337.92,368.35h6.80M342.00,352.86v15.80M338.60,353.36h6.80M338.60,368.16h6.80M342.68,352.75v15.80M339.28,353.25h6.80M339.28,368.05h6.80M343.36,352.71v15.80M339.96,353.21h6.80M339.96,368.01h6.80M344.04,352.70v15.80M340.64,353.20h6.80M340.64,368.00h6.80M344.72,352.70v15.80M341.32,353.20h6.80M341.32,368.00h6.80M345.40,352.70v15.80M342.00,353.20h6.80M342.00,368.00h6.80M346.08,352.71v15.80M342.68,353.21h6.80M342.68,368.01h6.80M346.76,352.72v15.80M343.36,353.22h6.80M343.36,368.02h6.80M347.44,352.75v15.80M344.04,353.25h6.80M344.04,368.05h6.80M348.12,352.80v15.80M344.72,353.30h6.80M344.72,368.10h6.80M348.80,352.85v15.80M345.40,353.35h6.80M345.40,368.15h6.80" stroke="#5ab1e3" stroke-width="1.1"/><path d="M226.40,356.41v11.06M223.60,356.91h5.60M223.60,366.97h5.60M227.08,356.40v11.06M224.28,356.90h5.60M224.28,366.96h5.60M227.76,356.40v11.06M224.96,356.90h5.60M224.96,366.96h5.60M228.44,356.42v11.06M225.64,356.92h5.60M225.64,366.98h5.60M229.12,356.46v11.06M226.32,356.96h5.60M226.32,367.02h5.60M229.80,356.51v11.06M227.00,357.01h5.60M227.00,367.07h5.60M230.48,356.55v11.06M227.68,357.05h5.60M227.68,367.11h5.60M231.16,356.60v11.06M228.36,357.10h5.60M228.36,367.16h5.60M231.84,356.65v11.06M229.04,357.15h5.60M229.04,367.21h5.60M232.52,356.68v11.06M229.72,357.18h5.60M229.72,367.24h5.60M233.20,356.67v11.06M230.40,357.17h5.60M230.40,367.23h5.60M233.88,356.58v11.06M231.08,357.08h5.60M231.08,367.14h5.60M234.56,356.41v11.06M231.76,356.91h5.60M231.76,366.97h5.60M235.24,356.21v11.06M232.44,356.71h5.60M232.44,366.77h5.60M235.92,355.99v11.06M233.12,356.49h5.60M233.12,366.55h5.60M236.60,355.77v11.06M233.80,356.27h5.60M233.80,366.33h5.60M237.28,355.55v11.06M234.48,356.05h5.60M234.48,366.11h5.60M237.96,355.33v11.06M235.16,355.83h5.60M235.16,365.89h5.60M238.64,355.12v11.06M235.84,355.62h5.60M235.84,365.68h5.60M239.32,354.95v11.06M236.52,355.45h5.60M236.52,365.51h5.60M240.00,354.90v11.06M237.20,355.40h5.60M237.20,365.46h5.60M240.68,355.01v11.06M237.88,355.51h5.60M237.88,365.57h5.60M241.36,355.24v11.06M238.56,355.74h5.60M238.56,365.80h5.60M242.04,355.51v11.06M239.24,356.01h5.60M239.24,366.07h5.60M242.72,355.79v11.06M239.92,356.29h5.60M239.92,366.35h5.60M243.40,356.07v11.06M240.60,356.57h5.60M240.60,366.63h5.60M244.08,356.34v11.06M241.28,356.84h5.60M241.28,366.90h5.60M244.76,356.57v11.06M241.96,357.07h5.60M241.96,367.13h5.60M245.44,356.70v11.06M242.64,357.20h5.60M242.64,367.26h5.60M246.12,356.64v11.06M243.32,357.14h5.60M243.32,367.20h5.60M246.80,356.44v11.06M244.00,356.94h5.60M244.00,367.00h5.60M247.48,356.17v11.06M244.68,356.67h5.60M244.68,366.73h5.60M248.16,355.88v11.06M245.36,356.38h5.60M245.36,366.44h5.60M248.84,355.60v11.06M246.04,356.10h5.60M246.04,366.16h5.60M249.52,355.31v11.06M246.72,355.81h5.60M246.72,365.87h5.60M250.20,355.02v11.06M247.40,355.52h5.60M247.40,365.58h5.60M250.88,354.74v11.06M248.08,355.24h5.60M248.08,365.30h5.60M251.56,354.53v11.06M248.76,355.03h5.60M248.76,365.09h5.60M252.24,354.48v11.06M249.44,354.98h5.60M249.44,365.04h5.60M252.92,354.63v11.06M250.12,355.13h5.60M250.12,365.19h5.60M253.60,354.93v11.06M250.80,355.43h5.60M250.80,365.49h5.60M254.28,355.28v11.06M251.48,355.78h5.60M251.48,365.84h5.60M254.96,355.65v11.06M252.16,356.15h5.60M252.16,366.21h5.60M255.64,356.01v11.06M252.84,356.51h5.60M252.84,366.57h5.60M256.32,356.37v11.06M253.52,356.87h5.60M253.52,366.93h5.60M257.00,356.69v11.06M254.20,357.19h5.60M254.20,367.25h5.60M257.68,356.90v11.06M254.88,357.40h5.60M254.88,367.46h5.60M258.36,356.94v11.06M255.56,357.44h5.60M255.56,367.50h5.60M259.04,356.84v11.06M256.24,357.34h5.60M256.24,367.40h5.60M259.72,356.69v11.06M256.92,357.19h5.60M256.92,367.25h5.60M260.40,356.52v11.06M257.60,357.02h5.60M257.60,367.08h5.60M261.08,356.35v11.06M258.28,356.85h5.60M258.28,366.91h5.60M261.76,356.18v11.06M258.96,356.68h5.60M258.96,366.74h5.60M262.44,356.02v11.06M259.64,356.52h5.60M259.64,366.58h5.60M263.12,355.88v11.06M260.32,356.38h5.60M260.32,366.44h5.60M263.80,355.79v11.06M261.00,356.29h5.60M261.00,366.35h5.60M264.48,355.74v11.06M261.68,356.24h5.60M261.68,366.30h5.60M265.16,355.71v11.06M262.36,356.21h5.60M262.36,366.27h5.60M265.84,355.69v11.06M263.04,356.19h5.60M263.04,366.25h5.60M266.52,355.67v11.06M263.72,356.17h5.60M263.72,366.23h5.60M267.20,355.65v11.06M264.40,356.15h5.60M264.40,366.21h5.60M267.88,355.63v11.06M265.08,356.13h5.60M265.08,366.19h5.60M268.56,355.60v11.06M265.76,356.10h5.60M265.76,366.16h5.60M269.24,355.58v11.06M266.44,356.08h5.60M266.44,366.14h5.60M269.92,355.56v11.06M267.12,356.06h5.60M267.12,366.12h5.60M270.60,355.54v11.06M267.80,356.04h5.60M267.80,366.10h5.60M271.28,355.52v11.06M268.48,356.02h5.60M268.48,366.08h5.60M271.96,355.49v11.06M269.16,355.99h5.60M269.16,366.05h5.60M272.64,355.46v11.06M269.84,355.96h5.60M269.84,366.02h5.60M273.32,355.41v11.06M270.52,355.91h5.60M270.52,365.97h5.60M274.00,355.36v11.06M271.20,355.86h5.60M271.20,365.92h5.60M274.68,355.30v11.06M271.88,355.80h5.60M271.88,365.86h5.60M275.36,355.24v11.06M272.56,355.74h5.60M272.56,365.80h5.60M276.04,355.19v11.06M273.24,355.69h5.60M273.24,365.75h5.60M276.72,355.13v11.06M273.92,355.63h5.60M273.92,365.69h5.60M277.40,355.07v11.06M274.60,355.57h5.60M274.60,365.63h5.60M278.08,355.01v11.06M275.28,355.51h5.60M275.28,365.57h5.60M278.76,354.95v11.06M275.96,355.45h5.60M275.96,365.51h5.60M279.44,354.90v11.06M276.64,355.40h5.60M276.64,365.46h5.60M280.12,354.84v11.06M277.32,355.34h5.60M277.32,365.40h5.60M280.80,354.78v11.06M278.00,355.28h5.60M278.00,365.34h5.60M281.48,354.73v11.06M278.68,355.23h5.60M278.68,365.29h5.60M282.16,354.69v11.06M279.36,355.19h5.60M279.36,365.25h5.60M282.84,354.65v11.06M280.04,355.15h5.60M280.04,365.21h5.60M283.52,354.63v11.06M280.72,355.13h5.60M280.72,365.19h5.60M284.20,354.61v11.06M281.40,355.11h5.60M281.40,365.17h5.60M284.88,354.60v11.06M282.08,355.10h5.60M282.08,365.16h5.60M285.56,354.58v11.06M282.76,355.08h5.60M282.76,365.14h5.60M286.24,354.56v11.06M283.44,355.06h5.60M283.44,365.12h5.60M286.92,354.54v11.06M284.12,355.04h5.60M284.12,365.10h5.60M287.60,354.52v11.06M284.80,355.02h5.60M284.80,365.08h5.60M288.28,354.51v11.06M285.48,355.01h5.60M285.48,365.07h5.60M288.96,354.51v11.06M286.16,355.01h5.60M286.16,365.07h5.60M289.64,354.54v11.06M286.84,355.04h5.60M286.84,365.10h5.60M290.32,354.63v11.06M287.52,355.13h5.60M287.52,365.19h5.60M291.00,354.74v11.06M288.20,355.24h5.60M288.20,365.30h5.60M291.68,354.87v11.06M288.88,355.37h5.60M288.88,365.43h5.60M292.36,354.98v11.06M289.56,355.48h5.60M289.56,365.54h5.60M293.04,355.07v11.06M290.24,355.57h5.60M290.24,365.63h5.60M293.72,355.14v11.06M290.92,355.64h5.60M290.92,365.70h5.60M294.40,355.20v11.06M291.60,355.70h5.60M291.60,365.76h5.60M295.08,355.25v11.06M292.28,355.75h5.60M292.28,365.81h5.60M295.76,355.30v11.06M292.96,355.80h5.60M292.96,365.86h5.60M296.44,355.35v11.06M293.64,355.85h5.60M293.64,365.91h5.60M297.12,355.40v11.06M294.32,355.90h5.60M294.32,365.96h5.60M297.80,355.45v11.06M295.00,355.95h5.60M295.00,366.01h5.60M298.48,355.51v11.06M295.68,356.01h5.60M295.68,366.07h5.60M299.16,355.56v11.06M296.36,356.06h5.60M296.36,366.12h5.60M299.84,355.61v11.06M297.04,356.11h5.60M297.04,366.17h5.60M300.52,355.66v11.06M297.72,356.16h5.60M297.72,366.22h5.60M301.20,355.70v11.06M298.40,356.20h5.60M298.40,366.26h5.60M301.88,355.73v11.06M299.08,356.23h5.60M299.08,366.29h5.60M302.56,355.73v11.06M299.76,356.23h5.60M299.76,366.29h5.60M303.24,355.71v11.06M300.44,356.21h5.60M300.44,366.27h5.60M303.92,355.69v11.06M301.12,356.19h5.60M301.12,366.25h5.60M304.60,355.66v11.06M301.80,356.16h5.60M301.80,366.22h5.60M305.28,355.63v11.06M302.48,356.13h5.60M302.48,366.19h5.60M305.96,355.60v11.06M303.16,356.10h5.60M303.16,366.16h5.60M306.64,355.57v11.06M303.84,356.07h5.60M303.84,366.13h5.60M307.32,355.54v11.06M304.52,356.04h5.60M304.52,366.10h5.60M308.00,355.51v11.06M305.20,356.01h5.60M305.20,366.07h5.60M308.68,355.49v11.06M305.88,355.99h5.60M305.88,366.05h5.60M309.36,355.46v11.06M306.56,355.96h5.60M306.56,366.02h5.60M310.04,355.43v11.06M307.24,355.93h5.60M307.24,365.99h5.60M310.72,355.41v11.06M307.92,355.91h5.60M307.92,365.97h5.60M311.40,355.41v11.06M308.60,355.91h5.60M308.60,365.97h5.60M312.08,355.45v11.06M309.28,355.95h5.60M309.28,366.01h5.60M312.76,355.50v11.06M309.96,356.00h5.60M309.96,366.06h5.60M313.44,355.57v11.06M310.64,356.07h5.60M310.64,366.13h5.60M314.12,355.63v11.06M311.32,356.13h5.60M311.32,366.19h5.60M314.80,355.70v11.06M312.00,356.20h5.60M312.00,366.26h5.60M315.48,355.76v11.06M312.68,356.26h5.60M312.68,366.32h5.60M316.16,355.83v11.06M313.36,356.33h5.60M313.36,366.39h5.60M316.84,355.90v11.06M314.04,356.40h5.60M314.04,366.46h5.60M317.52,355.96v11.06M314.72,356.46h5.60M314.72,366.52h5.60M318.20,356.03v11.06M315.40,356.53h5.60M315.40,366.59h5.60M318.88,356.09v11.06M316.08,356.59h5.60M316.08,366.65h5.60M319.56,356.15v11.06M316.76,356.65h5.60M316.76,366.71h5.60M320.24,356.17v11.06M317.44,356.67h5.60M317.44,366.73h5.60M320.92,356.11v11.06M318.12,356.61h5.60M318.12,366.67h5.60M321.60,355.97v11.06M318.80,356.47h5.60M318.80,366.53h5.60M322.28,355.78v11.06M319.48,356.28h5.60M319.48,366.34h5.60M322.96,355.57v11.06M320.16,356.07h5.60M320.16,366.13h5.60M323.64,355.36v11.06M320.84,355.86h5.60M320.84,365.92h5.60M324.32,355.15v11.06M321.52,355.65h5.60M321.52,365.71h5.60M325.00,354.94v11.06M322.20,355.44h5.60M322.20,365.50h5.60M325.68,354.73v11.06M322.88,355.23h5.60M322.88,365.29h5.60M326.36,354.52v11.06M323.56,355.02h5.60M323.56,365.08h5.60M327.04,354.31v11.06M324.24,354.81h5.60M324.24,364.87h5.60M327.72,354.11v11.06M324.92,354.61h5.60M324.92,364.67h5.60M328.40,353.96v11.06M325.60,354.46h5.60M325.60,364.52h5.60M329.08,353.95v11.06M326.28,354.45h5.60M326.28,364.51h5.60M329.76,354.13v11.06M326.96,354.63h5.60M326.96,364.69h5.60M330.44,354.45v11.06M327.64,354.95h5.60M327.64,365.01h5.60M331.12,354.83v11.06M328.32,355.33h5.60M328.32,365.39h5.60M331.80,355.22v11.06M329.00,355.72h5.60M329.00,365.78h5.60M332.48,355.62v11.06M329.68,356.12h5.60M329.68,366.18h5.60M333.16,356.01v11.06M330.36,356.51h5.60M330.36,366.57h5.60M333.84,356.40v11.06M331.04,356.90h5.60M331.04,366.96h5.60M334.52,356.77v11.06M331.72,357.27h5.60M331.72,367.33h5.60M335.20,357.06v11.06M332.40,357.56h5.60M332.40,367.62h5.60M335.88,357.18v11.06M333.08,357.68h5.60M333.08,367.74h5.60M336.56,357.10v11.06M333.76,357.60h5.60M333.76,367.66h5.60M337.24,356.89v11.06M334.44,357.39h5.60M334.44,367.45h5.60M337.92,356.65v11.06M335.12,357.15h5.60M335.12,367.21h5.60M338.60,356.40v11.06M335.80,356.90h5.60M335.80,366.96h5.60M339.28,356.15v11.06M336.48,356.65h5.60M336.48,366.71h5.60M339.96,355.90v11.06M337.16,356.40h5.60M337.16,366.46h5.60M340.64,355.65v11.06M337.84,356.15h5.60M337.84,366.21h5.60M341.32,355.42v11.06M338.52,355.92h5.60M338.52,365.98h5.60M342.00,355.23v11.06M339.20,355.73h5.60M339.20,365.79h5.60M342.68,355.12v11.06M339.88,355.62h5.60M339.88,365.68h5.60M343.36,355.08v11.06M340.56,355.58h5.60M340.56,365.64h5.60M344.04,355.07v11.06M341.24,355.57h5.60M341.24,365.63h5.60M344.72,355.07v11.06M341.92,355.57h5.60M341.92,365.63h5.60M345.40,355.07v11.06M342.60,355.57h5.60M342.60,365.63h5.60M346.08,355.08v11.06M343.28,355.58h5.60M343.28,365.64h5.60M346.76,355.09v11.06M343.96,355.59h5.60M343.96,365.65h5.60M347.44,355.12v11.06M344.64,355.62h5.60M344.64,365.68h5.60M348.12,355.17v11.06M345.32,355.67h5.60M345.32,365.73h5.60M348.80,355.22v11.06M346.00,355.72h5.60M346.00,365.78h5.60" stroke="#2f5d80" stroke-width="1.1"/><path d="M226.40,357.67v8.53M224.20,358.17h4.40M224.20,365.71h4.40M227.08,357.66v8.53M224.88,358.16h4.40M224.88,365.69h4.40M227.76,357.66v8.53M225.56,358.16h4.40M225.56,365.69h4.40M228.44,357.68v8.53M226.24,358.18h4.40M226.24,365.72h4.40M229.12,357.72v8.53M226.92,358.22h4.40M226.92,365.76h4.40M229.80,357.77v8.53M227.60,358.27h4.40M227.60,365.80h4.40M230.48,357.82v8.53M228.28,358.32h4.40M228.28,365.85h4.40M231.16,357.87v8.53M228.96,358.37h4.40M228.96,365.90h4.40M231.84,357.91v8.53M229.64,358.41h4.40M229.64,365.95h4.40M232.52,357.95v8.53M230.32,358.45h4.40M230.32,365.98h4.40M233.20,357.94v8.53M231.00,358.44h4.40M231.00,365.97h4.40M233.88,357.85v8.53M231.68,358.35h4.40M231.68,365.88h4.40M234.56,357.68v8.53M232.36,358.18h4.40M232.36,365.71h4.40M235.24,357.47v8.53M233.04,357.97h4.40M233.04,365.50h4.40M235.92,357.25v8.53M233.72,357.75h4.40M233.72,365.28h4.40M236.60,357.03v8.53M234.40,357.53h4.40M234.40,365.06h4.40M237.28,356.81v8.53M235.08,357.31h4.40M235.08,364.84h4.40M237.96,356.59v8.53M235.76,357.09h4.40M235.76,364.63h4.40M238.64,356.38v8.53M236.44,356.88h4.40M236.44,364.42h4.40M239.32,356.22v8.53M237.12,356.72h4.40M237.12,364.25h4.40M240.00,356.17v8.53M237.80,356.67h4.40M237.80,364.20h4.40M240.68,356.28v8.53M238.48,356.78h4.40M238.48,364.31h4.40M241.36,356.50v8.53M239.16,357.00h4.40M239.16,364.53h4.40M242.04,356.77v8.53M239.84,357.27h4.40M239.84,364.80h4.40M242.72,357.05v8.53M240.52,357.55h4.40M240.52,365.08h4.40M243.40,357.33v8.53M241.20,357.83h4.40M241.20,365.36h4.40M244.08,357.60v8.53M241.88,358.10h4.40M241.88,365.63h4.40M244.76,357.84v8.53M242.56,358.34h4.40M242.56,365.87h4.40M245.44,357.96v8.53M243.24,358.46h4.40M243.24,365.99h4.40M246.12,357.91v8.53M243.92,358.41h4.40M243.92,365.94h4.40M246.80,357.71v8.53M244.60,358.21h4.40M244.60,365.74h4.40M247.48,357.43v8.53M245.28,357.93h4.40M245.28,365.47h4.40M248.16,357.15v8.53M245.96,357.65h4.40M245.96,365.18h4.40M248.84,356.86v8.53M246.64,357.36h4.40M246.64,364.89h4.40M249.52,356.57v8.53M247.32,357.07h4.40M247.32,364.60h4.40M250.20,356.28v8.53M248.00,356.78h4.40M248.00,364.32h4.40M250.88,356.01v8.53M248.68,356.51h4.40M248.68,364.04h4.40M251.56,355.80v8.53M249.36,356.30h4.40M249.36,363.83h4.40M252.24,355.74v8.53M250.04,356.24h4.40M250.04,363.77h4.40M252.92,355.89v8.53M250.72,356.39h4.40M250.72,363.93h4.40M253.60,356.20v8.53M251.40,356.70h4.40M251.40,364.23h4.40M254.28,356.55v8.53M252.08,357.05h4.40M252.08,364.58h4.40M254.96,356.91v8.53M252.76,357.41h4.40M252.76,364.94h4.40M255.64,357.28v8.53M253.44,357.78h4.40M253.44,365.31h4.40M256.32,357.63v8.53M254.12,358.13h4.40M254.12,365.67h4.40M257.00,357.95v8.53M254.80,358.45h4.40M254.80,365.98h4.40M257.68,358.16v8.53M255.48,358.66h4.40M255.48,366.19h4.40M258.36,358.20v8.53M256.16,358.70h4.40M256.16,366.23h4.40M259.04,358.11v8.53M256.84,358.61h4.40M256.84,366.14h4.40M259.72,357.95v8.53M257.52,358.45h4.40M257.52,365.98h4.40M260.40,357.78v8.53M258.20,358.28h4.40M258.20,365.82h4.40M261.08,357.61v8.53M258.88,358.11h4.40M258.88,365.65h4.40M261.76,357.45v8.53M259.56,357.95h4.40M259.56,365.48h4.40M262.44,357.28v8.53M260.24,357.78h4.40M260.24,365.32h4.40M263.12,357.15v8.53M260.92,357.65h4.40M260.92,365.18h4.40M263.80,357.06v8.53M261.60,357.56h4.40M261.60,365.09h4.40M264.48,357.01v8.53M262.28,357.51h4.40M262.28,365.04h4.40M265.16,356.98v8.53M262.96,357.48h4.40M262.96,365.01h4.40M265.84,356.96v8.53M263.64,357.46h4.40M263.64,364.99h4.40M266.52,356.93v8.53M264.32,357.43h4.40M264.32,364.97h4.40M267.20,356.91v8.53M265.00,357.41h4.40M265.00,364.94h4.40M267.88,356.89v8.53M265.68,357.39h4.40M265.68,364.92h4.40M268.56,356.87v8.53M266.36,357.37h4.40M266.36,364.90h4.40M269.24,356.85v8.53M267.04,357.35h4.40M267.04,364.88h4.40M269.92,356.82v8.53M267.72,357.32h4.40M267.72,364.86h4.40M270.60,356.80v8.53M268.40,357.30h4.40M268.40,364.83h4.40M271.28,356.78v8.53M269.08,357.28h4.40M269.08,364.81h4.40M271.96,356.75v8.53M269.76,357.25h4.40M269.76,364.79h4.40M272.64,356.72v8.53M270.44,357.22h4.40M270.44,364.75h4.40M273.32,356.68v8.53M271.12,357.18h4.40M271.12,364.71h4.40M274.00,356.62v8.53M271.80,357.12h4.40M271.80,364.65h4.40M274.68,356.57v8.53M272.48,357.07h4.40M272.48,364.60h4.40M275.36,356.51v8.53M273.16,357.01h4.40M273.16,364.54h4.40M276.04,356.45v8.53M273.84,356.95h4.40M273.84,364.48h4.40M276.72,356.39v8.53M274.52,356.89h4.40M274.52,364.42h4.40M277.40,356.33v8.53M275.20,356.83h4.40M275.20,364.37h4.40M278.08,356.28v8.53M275.88,356.78h4.40M275.88,364.31h4.40M278.76,356.22v8.53M276.56,356.72h4.40M276.56,364.25h4.40M279.44,356.16v8.53M277.24,356.66h4.40M277.24,364.19h4.40M280.12,356.10v8.53M277.92,356.60h4.40M277.92,364.13h4.40M280.80,356.05v8.53M278.60,356.55h4.40M278.60,364.08h4.40M281.48,355.99v8.53M279.28,356.49h4.40M279.28,364.02h4.40M282.16,355.95v8.53M279.96,356.45h4.40M279.96,363.98h4.40M282.84,355.92v8.53M280.64,356.42h4.40M280.64,363.95h4.40M283.52,355.90v8.53M281.32,356.40h4.40M281.32,363.93h4.40M284.20,355.88v8.53M282.00,356.38h4.40M282.00,363.91h4.40M284.88,355.86v8.53M282.68,356.36h4.40M282.68,363.89h4.40M285.56,355.84v8.53M283.36,356.34h4.40M283.36,363.87h4.40M286.24,355.82v8.53M284.04,356.32h4.40M284.04,363.86h4.40M286.92,355.81v8.53M284.72,356.31h4.40M284.72,363.84h4.40M287.60,355.79v8.53M285.40,356.29h4.40M285.40,363.82h4.40M288.28,355.77v8.53M286.08,356.27h4.40M286.08,363.80h4.40M288.96,355.77v8.53M286.76,356.27h4.40M286.76,363.80h4.40M289.64,355.81v8.53M287.44,356.31h4.40M287.44,363.84h4.40M290.32,355.89v8.53M288.12,356.39h4.40M288.12,363.92h4.40M291.00,356.01v8.53M288.80,356.51h4.40M288.80,364.04h4.40M291.68,356.13v8.53M289.48,356.63h4.40M289.48,364.16h4.40M292.36,356.25v8.53M290.16,356.75h4.40M290.16,364.28h4.40M293.04,356.34v8.53M290.84,356.84h4.40M290.84,364.37h4.40M293.72,356.41v8.53M291.52,356.91h4.40M291.52,364.44h4.40M294.40,356.46v8.53M292.20,356.96h4.40M292.20,364.49h4.40M295.08,356.51v8.53M292.88,357.01h4.40M292.88,364.55h4.40M295.76,356.56v8.53M293.56,357.06h4.40M293.56,364.60h4.40M296.44,356.62v8.53M294.24,357.12h4.40M294.24,364.65h4.40M297.12,356.67v8.53M294.92,357.17h4.40M294.92,364.70h4.40M297.80,356.72v8.53M295.60,357.22h4.40M295.60,364.75h4.40M298.48,356.77v8.53M296.28,357.27h4.40M296.28,364.80h4.40M299.16,356.82v8.53M296.96,357.32h4.40M296.96,364.85h4.40M299.84,356.87v8.53M297.64,357.37h4.40M297.64,364.90h4.40M300.52,356.92v8.53M298.32,357.42h4.40M298.32,364.95h4.40M301.20,356.97v8.53M299.00,357.47h4.40M299.00,365.00h4.40M301.88,356.99v8.53M299.68,357.49h4.40M299.68,365.03h4.40M302.56,357.00v8.53M300.36,357.50h4.40M300.36,365.03h4.40M303.24,356.98v8.53M301.04,357.48h4.40M301.04,365.01h4.40M303.92,356.95v8.53M301.72,357.45h4.40M301.72,364.98h4.40M304.60,356.92v8.53M302.40,357.42h4.40M302.40,364.96h4.40M305.28,356.89v8.53M303.08,357.39h4.40M303.08,364.93h4.40M305.96,356.87v8.53M303.76,357.37h4.40M303.76,364.90h4.40M306.64,356.84v8.53M304.44,357.34h4.40M304.44,364.87h4.40M307.32,356.81v8.53M305.12,357.31h4.40M305.12,364.84h4.40M308.00,356.78v8.53M305.80,357.28h4.40M305.80,364.81h4.40M308.68,356.75v8.53M306.48,357.25h4.40M306.48,364.78h4.40M309.36,356.72v8.53M307.16,357.22h4.40M307.16,364.75h4.40M310.04,356.69v8.53M307.84,357.19h4.40M307.84,364.73h4.40M310.72,356.67v8.53M308.52,357.17h4.40M308.52,364.71h4.40M311.40,356.68v8.53M309.20,357.18h4.40M309.20,364.71h4.40M312.08,356.71v8.53M309.88,357.21h4.40M309.88,364.74h4.40M312.76,356.77v8.53M310.56,357.27h4.40M310.56,364.80h4.40M313.44,356.83v8.53M311.24,357.33h4.40M311.24,364.86h4.40M314.12,356.90v8.53M311.92,357.40h4.40M311.92,364.93h4.40M314.80,356.96v8.53M312.60,357.46h4.40M312.60,365.00h4.40M315.48,357.03v8.53M313.28,357.53h4.40M313.28,365.06h4.40M316.16,357.09v8.53M313.96,357.59h4.40M313.96,365.13h4.40M316.84,357.16v8.53M314.64,357.66h4.40M314.64,365.19h4.40M317.52,357.23v8.53M315.32,357.73h4.40M315.32,365.26h4.40M318.20,357.29v8.53M316.00,357.79h4.40M316.00,365.32h4.40M318.88,357.36v8.53M316.68,357.86h4.40M316.68,365.39h4.40M319.56,357.41v8.53M317.36,357.91h4.40M317.36,365.44h4.40M320.24,357.43v8.53M318.04,357.93h4.40M318.04,365.46h4.40M320.92,357.38v8.53M318.72,357.88h4.40M318.72,365.41h4.40M321.60,357.23v8.53M319.40,357.73h4.40M319.40,365.27h4.40M322.28,357.04v8.53M320.08,357.54h4.40M320.08,365.07h4.40M322.96,356.83v8.53M320.76,357.33h4.40M320.76,364.87h4.40M323.64,356.62v8.53M321.44,357.12h4.40M321.44,364.66h4.40M324.32,356.41v8.53M322.12,356.91h4.40M322.12,364.45h4.40M325.00,356.20v8.53M322.80,356.70h4.40M322.80,364.24h4.40M325.68,355.99v8.53M323.48,356.49h4.40M323.48,364.02h4.40M326.36,355.78v8.53M324.16,356.28h4.40M324.16,363.81h4.40M327.04,355.57v8.53M324.84,356.07h4.40M324.84,363.60h4.40M327.72,355.37v8.53M325.52,355.87h4.40M325.52,363.40h4.40M328.40,355.22v8.53M326.20,355.72h4.40M326.20,363.26h4.40M329.08,355.21v8.53M326.88,355.71h4.40M326.88,363.24h4.40M329.76,355.39v8.53M327.56,355.89h4.40M327.56,363.43h4.40M330.44,355.72v8.53M328.24,356.22h4.40M328.24,363.75h4.40M331.12,356.10v8.53M328.92,356.60h4.40M328.92,364.13h4.40M331.80,356.49v8.53M329.60,356.99h4.40M329.60,364.52h4.40M332.48,356.88v8.53M330.28,357.38h4.40M330.28,364.91h4.40M333.16,357.27v8.53M330.96,357.77h4.40M330.96,365.30h4.40M333.84,357.66v8.53M331.64,358.16h4.40M331.64,365.69h4.40M334.52,358.03v8.53M332.32,358.53h4.40M332.32,366.06h4.40M335.20,358.32v8.53M333.00,358.82h4.40M333.00,366.35h4.40M335.88,358.44v8.53M333.68,358.94h4.40M333.68,366.47h4.40M336.56,358.36v8.53M334.36,358.86h4.40M334.36,366.39h4.40M337.24,358.16v8.53M335.04,358.66h4.40M335.04,366.19h4.40M337.92,357.91v8.53M335.72,358.41h4.40M335.72,365.95h4.40M338.60,357.66v8.53M336.40,358.16h4.40M336.40,365.70h4.40M339.28,357.41v8.53M337.08,357.91h4.40M337.08,365.44h4.40M339.96,357.16v8.53M337.76,357.66h4.40M337.76,365.19h4.40M340.64,356.91v8.53M338.44,357.41h4.40M338.44,364.94h4.40M341.32,356.68v8.53M339.12,357.18h4.40M339.12,364.71h4.40M342.00,356.49v8.53M339.80,356.99h4.40M339.80,364.53h4.40M342.68,356.38v8.53M340.48,356.88h4.40M340.48,364.42h4.40M343.36,356.34v8.53M341.16,356.84h4.40M341.16,364.38h4.40M344.04,356.33v8.53M341.84,356.83h4.40M341.84,364.37h4.40M344.72,356.33v8.53M342.52,356.83h4.40M342.52,364.37h4.40M345.40,356.33v8.53M343.20,356.83h4.40M343.20,364.37h4.40M346.08,356.34v8.53M343.88,356.84h4.40M343.88,364.37h4.40M346.76,356.35v8.53M344.56,356.85h4.40M344.56,364.39h4.40M347.44,356.39v8.53M345.24,356.89h4.40M345.24,364.42h4.40M348.12,356.43v8.53M345.92,356.93h4.40M345.92,364.46h4.40M348.80,356.48v8.53M346.60,356.98h4.40M346.60,364.52h4.40" stroke="#1d2f3f" stroke-width="1.1"/><line x1="226.10" y1="361.65" x2="348.90" y2="361.65" stroke="#000" stroke-width="2.5"/></g>
<path d="M226.10,334.05h1.6M348.90,334.05h-1.6M226.10,361.65h1.6M348.90,361.65h-1.6M226.10,389.25h1.6M348.90,389.25h-1.6M287.50,401.80v-1.6M287.50,320.90v1.6" stroke="#262626" stroke-width="1"/>
<rect x="226.10" y="320.90" width="122.80" height="80.90" fill="none" stroke="#262626" stroke-width="1.90"/>
<g transform="translate(213.91,339.05) scale(1.0585,1)" fill="#262626" ><text x="0.00" y="0.00" font-size="13.00" font-weight="normal" font-style="normal">.1</text></g>
<g transform="translate(216.61,366.05) scale(1.1355,1)" fill="#262626" ><text x="0.00" y="0.00" font-size="13.00" font-weight="normal" font-style="normal">0</text></g>
<g transform="translate(209.11,394.25) scale(1.0723,1)" fill="#262626" ><text x="0.00" y="0.00" font-size="13.00" font-weight="normal" font-style="normal">-.1</text></g>
<g transform="translate(222.24,418.80) scale(1.0826,1)" fill="#262626" ><text x="0.00" y="0.00" font-size="13.00" font-weight="normal" font-style="normal">0</text><text x="6.50" y="0.00" font-size="13.00" font-weight="normal" font-style="normal">°</text></g>
<g transform="translate(279.49,418.80) scale(1.0490,1)" fill="#262626" ><text x="0.00" y="0.00" font-size="13.00" font-weight="normal" font-style="normal">90</text><text x="13.00" y="0.00" font-size="13.00" font-weight="normal" font-style="normal">°</text></g>
<g transform="translate(336.48,418.80) scale(1.0446,1)" fill="#262626" ><text x="0.00" y="0.00" font-size="13.00" font-weight="normal" font-style="normal">180</text><text x="19.50" y="0.00" font-size="13.00" font-weight="normal" font-style="normal">°</text></g>
<path d="M260.70,387.00h7.6M260.70,392.50h7.6M260.70,398.00h7.6M264.50,386.90v11.2" stroke="#2c4558" stroke-width="1.3" fill="none"/>
<g transform="translate(270.51,395.60) scale(1.0202,1)" fill="#262626" ><text x="0.00" y="0.00" font-size="13.00" font-weight="normal" font-style="normal">1</text><text x="6.50" y="0.00" font-size="13.00" font-weight="normal" font-style="italic">σ</text></g>
<path d="M290.30,387.00h7.6M290.30,392.50h7.6M290.30,398.00h7.6M294.10,386.90v11.2" stroke="#3b6f92" stroke-width="1.3" fill="none"/>
<g transform="translate(300.73,395.60) scale(0.9733,1)" fill="#262626" ><text x="0.00" y="0.00" font-size="13.00" font-weight="normal" font-style="normal">2</text><text x="6.50" y="0.00" font-size="13.00" font-weight="normal" font-style="italic">σ</text></g>
<path d="M320.40,387.00h7.6M320.40,392.50h7.6M320.40,398.00h7.6M324.20,386.90v11.2" stroke="#5ab1e3" stroke-width="1.3" fill="none"/>
<g transform="translate(330.76,395.60) scale(0.9783,1)" fill="#262626" ><text x="0.00" y="0.00" font-size="13.00" font-weight="normal" font-style="normal">3</text><text x="6.50" y="0.00" font-size="13.00" font-weight="normal" font-style="italic">σ</text></g>
<g transform="translate(228.34,333.50) scale(0.9934,1)" fill="#262626" ><text x="0.00" y="0.00" font-size="14.00" font-weight="normal" font-style="normal">COD-S</text><text x="42.01" y="3.08" font-size="9.52" font-weight="normal" font-style="normal">3</text><text x="46.77" y="0.00" font-size="14.00" font-weight="normal" font-style="normal">(θ)</text></g>
<g transform="translate(66.53,202.50) scale(1.0099,1)" fill="#262626" ><text x="0.00" y="0.00" font-size="14.00" font-weight="normal" font-style="normal">COD</text></g>
<g transform="translate(117.57,207.90) scale(1.0168,1)" fill="#ec7563" ><text x="0.00" y="0.00" font-size="14.00" font-weight="normal" font-style="normal">fit S</text><text x="23.73" y="3.08" font-size="9.52" font-weight="normal" font-style="normal">1</text><text x="28.49" y="0.00" font-size="14.00" font-weight="normal" font-style="normal">(θ)</text></g>
<g transform="translate(128.78,266.10) scale(1.0069,1)" fill="#262626" ><text x="0.00" y="0.00" font-size="14.00" font-weight="normal" font-style="normal">R</text><text x="9.34" y="-5.60" font-size="9.24" font-weight="normal" font-style="normal">2</text><text x="13.96" y="0.00" font-size="14.00" font-weight="normal" font-style="normal">=0.964</text></g>
<g transform="translate(389.33,203.50) scale(1.0099,1)" fill="#262626" ><text x="0.00" y="0.00" font-size="14.00" font-weight="normal" font-style="normal">COD</text></g>
<g transform="translate(440.37,208.90) scale(1.0168,1)" fill="#ec7563" ><text x="0.00" y="0.00" font-size="14.00" font-weight="normal" font-style="normal">fit S</text><text x="23.73" y="3.08" font-size="9.52" font-weight="normal" font-style="normal">2</text><text x="28.49" y="0.00" font-size="14.00" font-weight="normal" font-style="normal">(θ)</text></g>
<g transform="translate(452.07,266.60) scale(1.0147,1)" fill="#262626" ><text x="0.00" y="0.00" font-size="14.00" font-weight="normal" font-style="normal">R</text><text x="9.34" y="-5.60" font-size="9.24" font-weight="normal" font-style="normal">2</text><text x="13.96" y="0.00" font-size="14.00" font-weight="normal" font-style="normal">=0.996</text></g>
<g transform="translate(66.33,332.50) scale(1.0099,1)" fill="#262626" ><text x="0.00" y="0.00" font-size="14.00" font-weight="normal" font-style="normal">COD</text></g>
<g transform="translate(117.37,337.90) scale(1.0168,1)" fill="#ec7563" ><text x="0.00" y="0.00" font-size="14.00" font-weight="normal" font-style="normal">fit S</text><text x="23.73" y="3.08" font-size="9.52" font-weight="normal" font-style="normal">3</text><text x="28.49" y="0.00" font-size="14.00" font-weight="normal" font-style="normal">(θ)</text></g>
<g transform="translate(129.05,395.60) scale(1.0794,1)" fill="#262626" ><text x="0.00" y="0.00" font-size="14.00" font-weight="normal" font-style="normal">R</text><text x="9.34" y="-5.60" font-size="9.24" font-weight="normal" font-style="normal">2</text><text x="13.96" y="0.00" font-size="14.00" font-weight="normal" font-style="normal">=1</text></g>
<g transform="translate(443.14,33.00) scale(1.0028,1)" fill="#262626" ><text x="0.00" y="0.00" font-size="14.00" font-weight="normal" font-style="normal">COD</text></g>
<g transform="translate(525.57,84.50) scale(1.0315,1)" fill="#262626" ><text x="0.00" y="0.00" font-size="14.00" font-weight="normal" font-style="normal">R</text><text x="9.34" y="-5.60" font-size="9.24" font-weight="normal" font-style="normal">2</text><text x="13.96" y="0.00" font-size="14.00" font-weight="normal" font-style="normal">=0.92</text></g>
<g transform="translate(601.20,84.10) scale(1.0192,1)" fill="#262626" ><text x="0.00" y="0.00" font-size="14.00" font-weight="normal" font-style="normal">anisotropic</text></g>
<g transform="translate(96.72,18.30) scale(0.9833,1)" fill="#262626" ><text x="0.00" y="0.00" font-size="14.00" font-weight="normal" font-style="normal">image</text></g>
<g transform="translate(220.42,32.60) scale(1.0433,1)" fill="#262626" ><text x="0.00" y="0.00" font-size="14.00" font-weight="normal" font-style="normal">orientation distribution</text></g>
<g transform="translate(10.58,165.70) scale(1.0030,1)" fill="#262626" ><text x="0.00" y="0.00" font-size="14.00" font-weight="normal" font-style="normal">fitting fiber families</text></g>
<g transform="translate(322.78,178.40) scale(1.0453,1)" fill="#262626" ><text x="0.00" y="0.00" font-size="14.00" font-weight="normal" font-style="normal">peak height &gt; 3σ</text></g>
<g transform="translate(0.38,306.60) scale(1.0390,1)" fill="#262626" ><text x="0.00" y="0.00" font-size="14.00" font-weight="normal" font-style="normal">peak height &gt; 3σ</text></g>
<g transform="translate(49.49,14.60) scale(0.9796,1)" fill="#000" ><text x="0.00" y="0.00" font-size="17.50" font-weight="bold" font-style="normal">a</text></g>
<g transform="translate(219.53,14.40) scale(1.1089,1)" fill="#000" ><text x="0.00" y="0.00" font-size="15.00" font-weight="bold" font-style="normal">b</text></g>
<g transform="translate(387.56,14.40) scale(1.1364,1)" fill="#000" ><text x="0.00" y="0.00" font-size="16.00" font-weight="bold" font-style="normal">c</text></g>
<g transform="translate(69.43,184.10) scale(1.1221,1)" fill="#000" ><text x="0.00" y="0.00" font-size="15.00" font-weight="bold" font-style="normal">d</text></g>
<g transform="translate(232.56,184.00) scale(1.1364,1)" fill="#000" ><text x="0.00" y="0.00" font-size="16.00" font-weight="bold" font-style="normal">e</text></g>
<g transform="translate(428.11,184.00) scale(1.1765,1)" fill="#000" ><text x="0.00" y="0.00" font-size="15.00" font-weight="bold" font-style="normal">f</text></g>
<g transform="translate(554.92,184.30) scale(1.1962,1)" fill="#000" ><text x="0.00" y="0.00" font-size="16.00" font-weight="bold" font-style="normal">g</text></g>
<g transform="translate(106.21,313.00) scale(1.0356,1)" fill="#000" ><text x="0.00" y="0.00" font-size="15.00" font-weight="bold" font-style="normal">h</text></g>
<g transform="translate(234.13,312.80) scale(1.2245,1)" fill="#000" ><text x="0.00" y="0.00" font-size="15.00" font-weight="bold" font-style="normal">i</text></g>
<g transform="translate(385.91,312.30) scale(1.4286,1)" fill="#000" ><text x="0.00" y="0.00" font-size="15.00" font-weight="bold" font-style="normal">j</text></g>
<path d="M187.10,185.10 C199.10,180.50 211.10,180.10 221.30,184.30" fill="none" stroke="#000" stroke-width="1.25"/>
<polygon points="227.60,185.50 220.40,181.50 221.00,187.40" fill="#000"/>
<path d="M349.10,185.10 C361.01,180.50 372.92,180.10 383.05,184.10" fill="none" stroke="#000" stroke-width="1.25"/>
<polygon points="389.30,185.30 382.10,181.30 382.70,187.20" fill="#000"/>
<path d="M511.00,185.50 C522.82,180.90 534.64,180.50 544.69,184.30" fill="none" stroke="#000" stroke-width="1.25"/>
<polygon points="550.90,185.50 543.70,181.50 544.30,187.40" fill="#000"/>
<path d="M26.20,314.80 C37.87,310.20 49.55,309.80 59.47,313.60" fill="none" stroke="#000" stroke-width="1.25"/>
<polygon points="65.60,314.80 58.40,310.80 59.00,316.70" fill="#000"/>
<path d="M188.20,314.60 C199.87,310.00 211.55,309.60 221.47,313.60" fill="none" stroke="#000" stroke-width="1.25"/>
<polygon points="227.60,314.80 220.40,310.80 221.00,316.70" fill="#000"/>
<rect x="378.5" y="320.6" width="267.2" height="81.5" fill="none" stroke="#222" stroke-width="1.1"/>
<g transform="translate(380.76,333.20) scale(1.0330,1)" fill="#262626" ><text x="0.00" y="0.00" font-size="14.00" font-weight="normal" font-style="normal">S</text><text x="7.79" y="3.08" font-size="9.52" font-weight="normal" font-style="normal">3</text><text x="12.55" y="0.00" font-size="14.00" font-weight="normal" font-style="normal">(θ):</text></g>
<g transform="translate(576.72,332.40) scale(0.9979,1)" fill="#262626" ><text x="0.00" y="0.00" font-size="14.00" font-weight="normal" font-style="normal">isotropic</text></g>
<path d="M553.2,340.5V329.4H568" fill="none" stroke="#000" stroke-width="1.1"/>
<polygon points="574.4,329.4 567.5,326.7 567.5,332.1" fill="#000"/>
<g transform="translate(398.68,352.00) scale(0.9949,1)" fill="#262626" ><text x="0.00" y="0.00" font-size="14.00" font-weight="normal" font-style="normal">family 1:</text></g>
<g transform="translate(465.49,352.00) scale(1.0457,1)" fill="#262626" ><text x="0.00" y="0.00" font-size="14.00" font-weight="normal" font-style="normal">a</text><text x="6.21" y="3.08" font-size="9.52" font-weight="normal" font-style="normal">1</text><text x="10.97" y="0.00" font-size="14.00" font-weight="normal" font-style="normal">=0.21 ; b</text><text x="61.26" y="3.08" font-size="9.52" font-weight="normal" font-style="normal">1</text><text x="66.02" y="0.00" font-size="14.00" font-weight="normal" font-style="normal">=0.04 ;</text></g>
<g transform="translate(579.67,352.00) scale(0.9949,1)" fill="#262626" ><text x="0.00" y="0.00" font-size="14.00" font-weight="normal" font-style="normal">θ</text><text x="6.71" y="3.08" font-size="9.52" font-weight="normal" font-style="normal">1</text><text x="11.47" y="0.00" font-size="14.00" font-weight="normal" font-style="normal">=91.7°</text></g>
<line x1="580.60" y1="340.40" x2="586.20" y2="340.40" stroke="#000" stroke-width="0.9"/>
<g transform="translate(398.68,374.60) scale(0.9949,1)" fill="#262626" ><text x="0.00" y="0.00" font-size="14.00" font-weight="normal" font-style="normal">family 2:</text></g>
<g transform="translate(465.49,374.60) scale(1.0457,1)" fill="#262626" ><text x="0.00" y="0.00" font-size="14.00" font-weight="normal" font-style="normal">a</text><text x="6.21" y="3.08" font-size="9.52" font-weight="normal" font-style="normal">2</text><text x="10.97" y="0.00" font-size="14.00" font-weight="normal" font-style="normal">=0.42 ; b</text><text x="61.26" y="3.08" font-size="9.52" font-weight="normal" font-style="normal">2</text><text x="66.02" y="0.00" font-size="14.00" font-weight="normal" font-style="normal">=0.15 ;</text></g>
<g transform="translate(579.67,374.60) scale(0.9949,1)" fill="#262626" ><text x="0.00" y="0.00" font-size="14.00" font-weight="normal" font-style="normal">θ</text><text x="6.71" y="3.08" font-size="9.52" font-weight="normal" font-style="normal">2</text><text x="11.47" y="0.00" font-size="14.00" font-weight="normal" font-style="normal">=37.4°</text></g>
<line x1="580.60" y1="363.00" x2="586.20" y2="363.00" stroke="#000" stroke-width="0.9"/>
<g transform="translate(398.68,397.40) scale(0.9949,1)" fill="#262626" ><text x="0.00" y="0.00" font-size="14.00" font-weight="normal" font-style="normal">family 3:</text></g>
<g transform="translate(465.49,397.40) scale(1.0457,1)" fill="#262626" ><text x="0.00" y="0.00" font-size="14.00" font-weight="normal" font-style="normal">a</text><text x="6.21" y="3.08" font-size="9.52" font-weight="normal" font-style="normal">3</text><text x="10.97" y="0.00" font-size="14.00" font-weight="normal" font-style="normal">=0.37 ; b</text><text x="61.26" y="3.08" font-size="9.52" font-weight="normal" font-style="normal">3</text><text x="66.02" y="0.00" font-size="14.00" font-weight="normal" font-style="normal">=0.14 ;</text></g>
<g transform="translate(579.68,397.40) scale(0.9919,1)" fill="#262626" ><text x="0.00" y="0.00" font-size="14.00" font-weight="normal" font-style="normal">θ</text><text x="6.71" y="3.08" font-size="9.52" font-weight="normal" font-style="normal">3</text><text x="11.47" y="0.00" font-size="14.00" font-weight="normal" font-style="normal">=159.6°</text></g>
<line x1="580.60" y1="385.80" x2="586.20" y2="385.80" stroke="#000" stroke-width="0.9"/>
</svg></body></html>
